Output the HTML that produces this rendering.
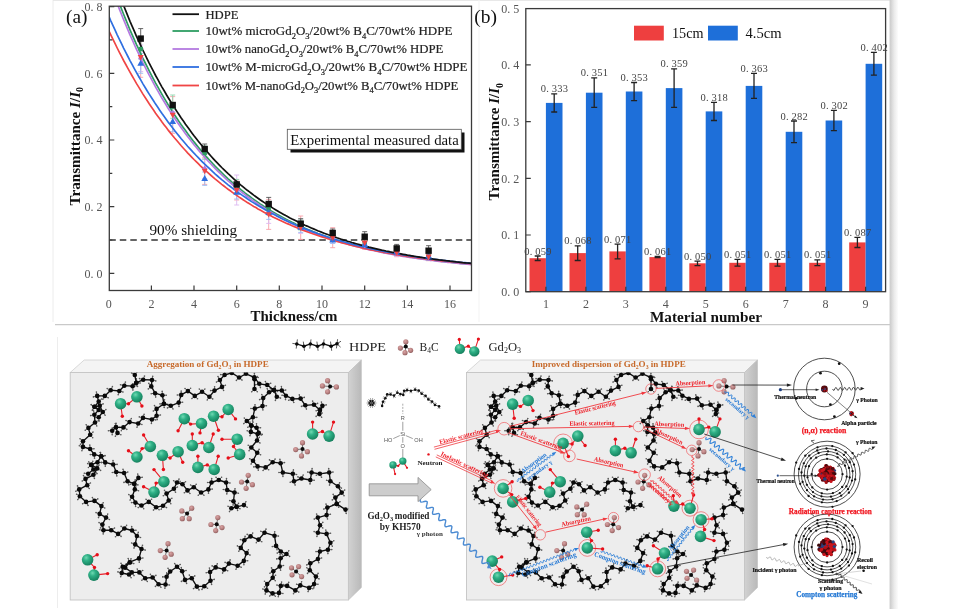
<!DOCTYPE html>
<html><head><meta charset="utf-8"><title>figure</title>
<style>
html,body{margin:0;padding:0;background:#fff;}
body{width:957px;height:613px;overflow:hidden;}
svg{display:block;font-family:"Liberation Serif",serif;filter:blur(0.4px);}
.tk{font-size:12px;fill:#555;}
.vl{font-size:10.5px;fill:#444;}
.sb{font-size:8.5px;}
</style></head><body>
<svg width="957" height="613" viewBox="0 0 957 613">
<defs>
<linearGradient id="shR" x1="0" x2="1" y1="0" y2="0"><stop offset="0" stop-color="#c9c9c9"/><stop offset="0.5" stop-color="#eaeaea"/><stop offset="1" stop-color="#ffffff"/></linearGradient>
</defs>
<rect width="957" height="613" fill="#fff"/>

<line x1="53" y1="0" x2="53" y2="322" stroke="#ececec" stroke-width="1"/>
<line x1="53" y1="0.4" x2="891" y2="0.4" stroke="#e6e6e6" stroke-width="1"/>
<line x1="55" y1="324.7" x2="890" y2="324.7" stroke="#c9c9c9" stroke-width="1.2"/>
<line x1="479" y1="0" x2="479" y2="322" stroke="#f3f3f3" stroke-width="1"/>
<rect x="889.6" y="0" width="9" height="609" fill="url(#shR)"/>
<line x1="57.5" y1="337" x2="57.5" y2="608" stroke="#ededed" stroke-width="1"/>
<g id="chartA">
<clipPath id="clipA"><rect x="109.3" y="6.2" width="362.2" height="284.3"/></clipPath>
<line x1="109.3" y1="240.0" x2="471.5" y2="240.0" stroke="#333" stroke-width="1.3" stroke-dasharray="6.5 4"/>
<g clip-path="url(#clipA)">
<path d="M140.7 37.3V77.3M138.2 37.3h5M138.2 77.3h5" stroke="#f7a0a8" stroke-width="0.9" fill="none"/>
<path d="M172.7 96.6V133.3M170.2 96.6h5M170.2 133.3h5" stroke="#f7a0a8" stroke-width="0.9" fill="none"/>
<path d="M204.7 157.7V184.4M202.2 157.7h5M202.2 184.4h5" stroke="#f7a0a8" stroke-width="0.9" fill="none"/>
<path d="M236.7 180.0V200.0M234.2 180.0h5M234.2 200.0h5" stroke="#f7a0a8" stroke-width="0.9" fill="none"/>
<path d="M268.7 199.4V229.4M266.2 199.4h5M266.2 229.4h5" stroke="#f7a0a8" stroke-width="0.9" fill="none"/>
<path d="M300.7 216.0V239.4M298.2 216.0h5M298.2 239.4h5" stroke="#f7a0a8" stroke-width="0.9" fill="none"/>
<path d="M332.7 227.7V247.7M330.2 227.7h5M330.2 247.7h5" stroke="#f7a0a8" stroke-width="0.9" fill="none"/>
<path d="M364.7 236.0V249.4M362.2 236.0h5M362.2 249.4h5" stroke="#f7a0a8" stroke-width="0.9" fill="none"/>
<path d="M396.7 248.7V256.7M394.2 248.7h5M394.2 256.7h5" stroke="#f7a0a8" stroke-width="0.9" fill="none"/>
<path d="M428.6 252.7V260.7M426.1 252.7h5M426.1 260.7h5" stroke="#f7a0a8" stroke-width="0.9" fill="none"/>
<path d="M140.7 45.0V71.6M138.2 45.0h5M138.2 71.6h5" stroke="#dcb8f0" stroke-width="0.9" fill="none"/>
<path d="M172.7 103.3V123.3M170.2 103.3h5M170.2 123.3h5" stroke="#dcb8f0" stroke-width="0.9" fill="none"/>
<path d="M204.7 158.7V178.7M202.2 158.7h5M202.2 178.7h5" stroke="#dcb8f0" stroke-width="0.9" fill="none"/>
<path d="M236.7 175.0V205.0M234.2 175.0h5M234.2 205.0h5" stroke="#dcb8f0" stroke-width="0.9" fill="none"/>
<path d="M268.7 203.4V223.4M266.2 203.4h5M266.2 223.4h5" stroke="#dcb8f0" stroke-width="0.9" fill="none"/>
<path d="M300.7 220.0V233.4M298.2 220.0h5M298.2 233.4h5" stroke="#dcb8f0" stroke-width="0.9" fill="none"/>
<path d="M332.7 233.4V243.4M330.2 233.4h5M330.2 243.4h5" stroke="#dcb8f0" stroke-width="0.9" fill="none"/>
<path d="M364.7 241.7V248.4M362.2 241.7h5M362.2 248.4h5" stroke="#dcb8f0" stroke-width="0.9" fill="none"/>
<path d="M396.7 249.4V256.1M394.2 249.4h5M394.2 256.1h5" stroke="#dcb8f0" stroke-width="0.9" fill="none"/>
<path d="M428.6 253.4V260.1M426.1 253.4h5M426.1 260.1h5" stroke="#dcb8f0" stroke-width="0.9" fill="none"/>
<path d="M140.7 53.3V73.3M138.2 53.3h5M138.2 73.3h5" stroke="#9bbcf2" stroke-width="0.9" fill="none"/>
<path d="M172.7 111.7V131.7M170.2 111.7h5M170.2 131.7h5" stroke="#9bbcf2" stroke-width="0.9" fill="none"/>
<path d="M204.7 172.0V185.4M202.2 172.0h5M202.2 185.4h5" stroke="#9bbcf2" stroke-width="0.9" fill="none"/>
<path d="M236.7 185.7V199.0M234.2 185.7h5M234.2 199.0h5" stroke="#9bbcf2" stroke-width="0.9" fill="none"/>
<path d="M268.7 206.0V219.4M266.2 206.0h5M266.2 219.4h5" stroke="#9bbcf2" stroke-width="0.9" fill="none"/>
<path d="M300.7 222.4V232.4M298.2 222.4h5M298.2 232.4h5" stroke="#9bbcf2" stroke-width="0.9" fill="none"/>
<path d="M332.7 236.7V243.4M330.2 236.7h5M330.2 243.4h5" stroke="#9bbcf2" stroke-width="0.9" fill="none"/>
<path d="M364.7 241.4V248.1M362.2 241.4h5M362.2 248.1h5" stroke="#9bbcf2" stroke-width="0.9" fill="none"/>
<path d="M396.7 248.7V255.4M394.2 248.7h5M394.2 255.4h5" stroke="#9bbcf2" stroke-width="0.9" fill="none"/>
<path d="M428.6 252.7V259.4M426.1 252.7h5M426.1 259.4h5" stroke="#9bbcf2" stroke-width="0.9" fill="none"/>
<path d="M140.7 38.9V59.0M138.2 38.9h5M138.2 59.0h5" stroke="#8fd6ae" stroke-width="0.9" fill="none"/>
<path d="M172.7 95.0V118.3M170.2 95.0h5M170.2 118.3h5" stroke="#8fd6ae" stroke-width="0.9" fill="none"/>
<path d="M204.7 146.0V159.3M202.2 146.0h5M202.2 159.3h5" stroke="#8fd6ae" stroke-width="0.9" fill="none"/>
<path d="M236.7 179.4V192.7M234.2 179.4h5M234.2 192.7h5" stroke="#8fd6ae" stroke-width="0.9" fill="none"/>
<path d="M268.7 201.7V215.0M266.2 201.7h5M266.2 215.0h5" stroke="#8fd6ae" stroke-width="0.9" fill="none"/>
<path d="M300.7 220.0V230.0M298.2 220.0h5M298.2 230.0h5" stroke="#8fd6ae" stroke-width="0.9" fill="none"/>
<path d="M332.7 234.0V240.7M330.2 234.0h5M330.2 240.7h5" stroke="#8fd6ae" stroke-width="0.9" fill="none"/>
<path d="M364.7 240.7V247.4M362.2 240.7h5M362.2 247.4h5" stroke="#8fd6ae" stroke-width="0.9" fill="none"/>
<path d="M396.7 248.1V254.7M394.2 248.1h5M394.2 254.7h5" stroke="#8fd6ae" stroke-width="0.9" fill="none"/>
<path d="M428.6 252.7V259.4M426.1 252.7h5M426.1 259.4h5" stroke="#8fd6ae" stroke-width="0.9" fill="none"/>
<path d="M140.7 28.6V48.6M138.2 28.6h5M138.2 48.6h5" stroke="#555" stroke-width="0.9" fill="none"/>
<path d="M204.7 144.0V154.0M202.2 144.0h5M202.2 154.0h5" stroke="#555" stroke-width="0.9" fill="none"/>
<path d="M268.7 197.4V210.7M266.2 197.4h5M266.2 210.7h5" stroke="#555" stroke-width="0.9" fill="none"/>
<path d="M300.7 218.7V228.7M298.2 218.7h5M298.2 228.7h5" stroke="#555" stroke-width="0.9" fill="none"/>
<path d="M332.7 229.0V237.0M330.2 229.0h5M330.2 237.0h5" stroke="#555" stroke-width="0.9" fill="none"/>
<path d="M364.7 231.7V241.7M362.2 231.7h5M362.2 241.7h5" stroke="#555" stroke-width="0.9" fill="none"/>
<path d="M396.7 244.4V252.4M394.2 244.4h5M394.2 252.4h5" stroke="#555" stroke-width="0.9" fill="none"/>
<path d="M428.6 245.7V255.7M426.1 245.7h5M426.1 255.7h5" stroke="#555" stroke-width="0.9" fill="none"/>
<path d="M108.7 -25.7L110.8 -19.7L113.0 -13.7L115.1 -7.9L117.2 -2.1L119.4 3.5L121.5 9.0L123.6 14.3L125.8 19.6L127.9 24.8L130.0 29.8L132.2 34.8L134.3 39.6L136.4 44.4L138.6 49.0L140.7 53.6L142.8 58.1L145.0 62.5L147.1 66.7L149.2 70.9L151.4 75.1L153.5 79.1L155.6 83.1L157.8 86.9L159.9 90.7L162.0 94.4L164.2 98.1L166.3 101.6L168.4 105.1L170.6 108.6L172.7 111.9L174.8 115.2L177.0 118.4L179.1 121.6L181.2 124.7L183.4 127.7L185.5 130.6L187.6 133.5L189.8 136.4L191.9 139.2L194.0 141.9L196.2 144.6L198.3 147.2L200.4 149.8L202.6 152.3L204.7 154.7L206.8 157.2L209.0 159.5L211.1 161.8L213.2 164.1L215.3 166.3L217.5 168.5L219.6 170.6L221.7 172.7L223.9 174.8L226.0 176.8L228.1 178.8L230.3 180.7L232.4 182.6L234.5 184.4L236.7 186.2L238.8 188.0L240.9 189.7L243.1 191.4L245.2 193.1L247.3 194.7L249.5 196.3L251.6 197.9L253.7 199.4L255.9 200.9L258.0 202.4L260.1 203.9L262.3 205.3L264.4 206.7L266.5 208.0L268.7 209.3L270.8 210.7L272.9 211.9L275.1 213.2L277.2 214.4L279.3 215.6L281.5 216.8L283.6 217.9L285.7 219.1L287.9 220.2L290.0 221.2L292.1 222.3L294.3 223.3L296.4 224.4L298.5 225.4L300.7 226.3L302.8 227.3L304.9 228.2L307.1 229.2L309.2 230.1L311.3 230.9L313.5 231.8L315.6 232.6L317.7 233.5L319.9 234.3L322.0 235.1L324.1 235.9L326.3 236.6L328.4 237.4L330.5 238.1L332.7 238.8L334.8 239.5L336.9 240.2L339.1 240.9L341.2 241.6L343.3 242.2L345.5 242.8L347.6 243.5L349.7 244.1L351.9 244.7L354.0 245.2L356.1 245.8L358.3 246.4L360.4 246.9L362.5 247.5L364.7 248.0L366.8 248.5L368.9 249.0L371.1 249.5L373.2 250.0L375.3 250.5L377.5 250.9L379.6 251.4L381.7 251.8L383.9 252.3L386.0 252.7L388.1 253.1L390.3 253.5L392.4 254.0L394.5 254.3L396.7 254.7L398.8 255.1L400.9 255.5L403.1 255.9L405.2 256.2L407.3 256.6L409.5 256.9L411.6 257.2L413.7 257.6L415.9 257.9L418.0 258.2L420.1 258.5L422.3 258.8L424.4 259.1L426.5 259.4L428.6 259.7L430.8 260.0L432.9 260.2L435.0 260.5L437.2 260.8L439.3 261.0L441.4 261.3L443.6 261.5L445.7 261.8L447.8 262.0L450.0 262.2L452.1 262.5L454.2 262.7L456.4 262.9L458.5 263.1L460.6 263.3L462.8 263.5L464.9 263.7L467.0 263.9L469.2 264.1L471.3 264.3" stroke="#2e9d63" stroke-width="1.7" fill="none"/>
<path d="M108.7 -19.6L110.8 -13.6L113.0 -7.8L115.1 -2.0L117.2 3.6L119.4 9.1L121.5 14.4L123.6 19.7L125.8 24.9L127.9 29.9L130.0 34.9L132.2 39.7L134.3 44.5L136.4 49.2L138.6 53.7L140.7 58.2L142.8 62.6L145.0 66.9L147.1 71.1L149.2 75.2L151.4 79.2L153.5 83.2L155.6 87.1L157.8 90.9L159.9 94.6L162.0 98.2L164.2 101.8L166.3 105.3L168.4 108.7L170.6 112.1L172.7 115.3L174.8 118.6L177.0 121.7L179.1 124.8L181.2 127.8L183.4 130.8L185.5 133.7L187.6 136.5L189.8 139.3L191.9 142.0L194.0 144.7L196.2 147.3L198.3 149.9L200.4 152.4L202.6 154.9L204.7 157.3L206.8 159.7L209.0 162.0L211.1 164.2L213.2 166.5L215.3 168.6L217.5 170.8L219.6 172.9L221.7 174.9L223.9 176.9L226.0 178.9L228.1 180.8L230.3 182.7L232.4 184.5L234.5 186.4L236.7 188.1L238.8 189.9L240.9 191.6L243.1 193.2L245.2 194.9L247.3 196.5L249.5 198.0L251.6 199.6L253.7 201.1L255.9 202.5L258.0 204.0L260.1 205.4L262.3 206.8L264.4 208.1L266.5 209.5L268.7 210.8L270.8 212.0L272.9 213.3L275.1 214.5L277.2 215.7L279.3 216.9L281.5 218.0L283.6 219.2L285.7 220.3L287.9 221.3L290.0 222.4L292.1 223.4L294.3 224.5L296.4 225.5L298.5 226.4L300.7 227.4L302.8 228.3L304.9 229.2L307.1 230.1L309.2 231.0L311.3 231.9L313.5 232.7L315.6 233.6L317.7 234.4L319.9 235.2L322.0 235.9L324.1 236.7L326.3 237.5L328.4 238.2L330.5 238.9L332.7 239.6L334.8 240.3L336.9 241.0L339.1 241.6L341.2 242.3L343.3 242.9L345.5 243.5L347.6 244.1L349.7 244.7L351.9 245.3L354.0 245.9L356.1 246.4L358.3 247.0L360.4 247.5L362.5 248.1L364.7 248.6L366.8 249.1L368.9 249.6L371.1 250.1L373.2 250.5L375.3 251.0L377.5 251.5L379.6 251.9L381.7 252.3L383.9 252.8L386.0 253.2L388.1 253.6L390.3 254.0L392.4 254.4L394.5 254.8L396.7 255.2L398.8 255.5L400.9 255.9L403.1 256.3L405.2 256.6L407.3 257.0L409.5 257.3L411.6 257.6L413.7 257.9L415.9 258.2L418.0 258.6L420.1 258.9L422.3 259.2L424.4 259.4L426.5 259.7L428.6 260.0L430.8 260.3L432.9 260.5L435.0 260.8L437.2 261.1L439.3 261.3L441.4 261.6L443.6 261.8L445.7 262.0L447.8 262.3L450.0 262.5L452.1 262.7L454.2 262.9L456.4 263.2L458.5 263.4L460.6 263.6L462.8 263.8L464.9 264.0L467.0 264.2L469.2 264.3L471.3 264.5" stroke="#b47ae0" stroke-width="1.7" fill="none"/>
<path d="M108.7 30.3L110.8 34.8L113.0 39.3L115.1 43.7L117.2 48.0L119.4 52.3L121.5 56.4L123.6 60.5L125.8 64.5L127.9 68.4L130.0 72.2L132.2 76.0L134.3 79.7L136.4 83.4L138.6 86.9L140.7 90.4L142.8 93.9L145.0 97.2L147.1 100.5L149.2 103.8L151.4 107.0L153.5 110.1L155.6 113.2L157.8 116.2L159.9 119.1L162.0 122.0L164.2 124.9L166.3 127.6L168.4 130.4L170.6 133.1L172.7 135.7L174.8 138.3L177.0 140.8L179.1 143.3L181.2 145.8L183.4 148.2L185.5 150.5L187.6 152.8L189.8 155.1L191.9 157.3L194.0 159.5L196.2 161.6L198.3 163.7L200.4 165.8L202.6 167.8L204.7 169.8L206.8 171.7L209.0 173.6L211.1 175.5L213.2 177.3L215.3 179.1L217.5 180.9L219.6 182.6L221.7 184.3L223.9 186.0L226.0 187.7L228.1 189.3L230.3 190.8L232.4 192.4L234.5 193.9L236.7 195.4L238.8 196.9L240.9 198.3L243.1 199.7L245.2 201.1L247.3 202.5L249.5 203.8L251.6 205.1L253.7 206.4L255.9 207.6L258.0 208.9L260.1 210.1L262.3 211.3L264.4 212.4L266.5 213.6L268.7 214.7L270.8 215.8L272.9 216.9L275.1 218.0L277.2 219.0L279.3 220.0L281.5 221.0L283.6 222.0L285.7 223.0L287.9 223.9L290.0 224.8L292.1 225.8L294.3 226.6L296.4 227.5L298.5 228.4L300.7 229.2L302.8 230.1L304.9 230.9L307.1 231.7L309.2 232.5L311.3 233.2L313.5 234.0L315.6 234.7L317.7 235.4L319.9 236.2L322.0 236.9L324.1 237.5L326.3 238.2L328.4 238.9L330.5 239.5L332.7 240.2L334.8 240.8L336.9 241.4L339.1 242.0L341.2 242.6L343.3 243.2L345.5 243.7L347.6 244.3L349.7 244.8L351.9 245.4L354.0 245.9L356.1 246.4L358.3 246.9L360.4 247.4L362.5 247.9L364.7 248.4L366.8 248.9L368.9 249.3L371.1 249.8L373.2 250.2L375.3 250.6L377.5 251.1L379.6 251.5L381.7 251.9L383.9 252.3L386.0 252.7L388.1 253.1L390.3 253.5L392.4 253.8L394.5 254.2L396.7 254.6L398.8 254.9L400.9 255.3L403.1 255.6L405.2 255.9L407.3 256.3L409.5 256.6L411.6 256.9L413.7 257.2L415.9 257.5L418.0 257.8L420.1 258.1L422.3 258.4L424.4 258.7L426.5 259.0L428.6 259.2L430.8 259.5L432.9 259.8L435.0 260.0L437.2 260.3L439.3 260.5L441.4 260.8L443.6 261.0L445.7 261.2L447.8 261.5L450.0 261.7L452.1 261.9L454.2 262.1L456.4 262.3L458.5 262.5L460.6 262.7L462.8 262.9L464.9 263.1L467.0 263.3L469.2 263.5L471.3 263.7" stroke="#f04545" stroke-width="1.7" fill="none"/>
<path d="M108.7 15.9L110.8 20.8L113.0 25.6L115.1 30.2L117.2 34.8L119.4 39.3L121.5 43.7L123.6 48.1L125.8 52.3L127.9 56.5L130.0 60.6L132.2 64.6L134.3 68.6L136.4 72.4L138.6 76.2L140.7 79.9L142.8 83.6L145.0 87.2L147.1 90.7L149.2 94.1L151.4 97.5L153.5 100.8L155.6 104.1L157.8 107.3L159.9 110.4L162.0 113.5L164.2 116.5L166.3 119.5L168.4 122.4L170.6 125.2L172.7 128.0L174.8 130.8L177.0 133.5L179.1 136.1L181.2 138.7L183.4 141.2L185.5 143.7L187.6 146.2L189.8 148.6L191.9 150.9L194.0 153.2L196.2 155.5L198.3 157.7L200.4 159.9L202.6 162.1L204.7 164.2L206.8 166.2L209.0 168.2L211.1 170.2L213.2 172.2L215.3 174.1L217.5 176.0L219.6 177.8L221.7 179.6L223.9 181.4L226.0 183.1L228.1 184.8L230.3 186.5L232.4 188.1L234.5 189.7L236.7 191.3L238.8 192.9L240.9 194.4L243.1 195.9L245.2 197.3L247.3 198.8L249.5 200.2L251.6 201.6L253.7 202.9L255.9 204.2L258.0 205.5L260.1 206.8L262.3 208.1L264.4 209.3L266.5 210.5L268.7 211.7L270.8 212.9L272.9 214.0L275.1 215.1L277.2 216.2L279.3 217.3L281.5 218.4L283.6 219.4L285.7 220.4L287.9 221.4L290.0 222.4L292.1 223.4L294.3 224.3L296.4 225.2L298.5 226.2L300.7 227.0L302.8 227.9L304.9 228.8L307.1 229.6L309.2 230.4L311.3 231.3L313.5 232.1L315.6 232.8L317.7 233.6L319.9 234.3L322.0 235.1L324.1 235.8L326.3 236.5L328.4 237.2L330.5 237.9L332.7 238.6L334.8 239.2L336.9 239.9L339.1 240.5L341.2 241.1L343.3 241.7L345.5 242.3L347.6 242.9L349.7 243.5L351.9 244.1L354.0 244.6L356.1 245.2L358.3 245.7L360.4 246.2L362.5 246.7L364.7 247.2L366.8 247.7L368.9 248.2L371.1 248.7L373.2 249.1L375.3 249.6L377.5 250.1L379.6 250.5L381.7 250.9L383.9 251.3L386.0 251.8L388.1 252.2L390.3 252.6L392.4 253.0L394.5 253.4L396.7 253.7L398.8 254.1L400.9 254.5L403.1 254.8L405.2 255.2L407.3 255.5L409.5 255.9L411.6 256.2L413.7 256.5L415.9 256.8L418.0 257.1L420.1 257.4L422.3 257.7L424.4 258.0L426.5 258.3L428.6 258.6L430.8 258.9L432.9 259.2L435.0 259.4L437.2 259.7L439.3 260.0L441.4 260.2L443.6 260.5L445.7 260.7L447.8 260.9L450.0 261.2L452.1 261.4L454.2 261.6L456.4 261.9L458.5 262.1L460.6 262.3L462.8 262.5L464.9 262.7L467.0 262.9L469.2 263.1L471.3 263.3" stroke="#2f6fe0" stroke-width="1.7" fill="none"/>
<path d="M108.7 -35.1L110.8 -28.9L113.0 -22.9L115.1 -17.0L117.2 -11.2L119.4 -5.5L121.5 0.1L123.6 5.5L125.8 10.9L127.9 16.1L130.0 21.3L132.2 26.3L134.3 31.2L136.4 36.1L138.6 40.8L140.7 45.4L142.8 50.0L145.0 54.5L147.1 58.8L149.2 63.1L151.4 67.3L153.5 71.4L155.6 75.5L157.8 79.4L159.9 83.3L162.0 87.1L164.2 90.8L166.3 94.5L168.4 98.0L170.6 101.5L172.7 105.0L174.8 108.3L177.0 111.6L179.1 114.8L181.2 118.0L183.4 121.1L185.5 124.2L187.6 127.1L189.8 130.1L191.9 132.9L194.0 135.7L196.2 138.5L198.3 141.2L200.4 143.8L202.6 146.4L204.7 148.9L206.8 151.4L209.0 153.9L211.1 156.2L213.2 158.6L215.3 160.9L217.5 163.1L219.6 165.3L221.7 167.5L223.9 169.6L226.0 171.7L228.1 173.7L230.3 175.7L232.4 177.6L234.5 179.6L236.7 181.4L238.8 183.3L240.9 185.1L243.1 186.8L245.2 188.6L247.3 190.3L249.5 191.9L251.6 193.5L253.7 195.1L255.9 196.7L258.0 198.2L260.1 199.7L262.3 201.2L264.4 202.6L266.5 204.1L268.7 205.4L270.8 206.8L272.9 208.1L275.1 209.4L277.2 210.7L279.3 212.0L281.5 213.2L283.6 214.4L285.7 215.6L287.9 216.7L290.0 217.9L292.1 219.0L294.3 220.0L296.4 221.1L298.5 222.2L300.7 223.2L302.8 224.2L304.9 225.2L307.1 226.1L309.2 227.1L311.3 228.0L313.5 228.9L315.6 229.8L317.7 230.7L319.9 231.5L322.0 232.4L324.1 233.2L326.3 234.0L328.4 234.8L330.5 235.5L332.7 236.3L334.8 237.0L336.9 237.8L339.1 238.5L341.2 239.2L343.3 239.9L345.5 240.5L347.6 241.2L349.7 241.8L351.9 242.5L354.0 243.1L356.1 243.7L358.3 244.3L360.4 244.9L362.5 245.4L364.7 246.0L366.8 246.5L368.9 247.1L371.1 247.6L373.2 248.1L375.3 248.6L377.5 249.1L379.6 249.6L381.7 250.1L383.9 250.5L386.0 251.0L388.1 251.4L390.3 251.9L392.4 252.3L394.5 252.7L396.7 253.1L398.8 253.5L400.9 253.9L403.1 254.3L405.2 254.7L407.3 255.1L409.5 255.4L411.6 255.8L413.7 256.2L415.9 256.5L418.0 256.8L420.1 257.2L422.3 257.5L424.4 257.8L426.5 258.1L428.6 258.4L430.8 258.7L432.9 259.0L435.0 259.3L437.2 259.6L439.3 259.9L441.4 260.1L443.6 260.4L445.7 260.7L447.8 260.9L450.0 261.2L452.1 261.4L454.2 261.6L456.4 261.9L458.5 262.1L460.6 262.3L462.8 262.6L464.9 262.8L467.0 263.0L469.2 263.2L471.3 263.4" stroke="#111" stroke-width="1.7" fill="none"/>
<rect x="138.5" y="46.8" width="4.4" height="4.4" fill="#2e9d63"/>
<rect x="170.5" y="104.4" width="4.4" height="4.4" fill="#2e9d63"/>
<rect x="202.5" y="150.5" width="4.4" height="4.4" fill="#2e9d63"/>
<rect x="234.5" y="183.8" width="4.4" height="4.4" fill="#2e9d63"/>
<rect x="266.5" y="206.2" width="4.4" height="4.4" fill="#2e9d63"/>
<rect x="298.5" y="222.8" width="4.4" height="4.4" fill="#2e9d63"/>
<rect x="330.5" y="235.2" width="4.4" height="4.4" fill="#2e9d63"/>
<rect x="362.5" y="241.9" width="4.4" height="4.4" fill="#2e9d63"/>
<rect x="394.5" y="249.2" width="4.4" height="4.4" fill="#2e9d63"/>
<rect x="426.4" y="253.9" width="4.4" height="4.4" fill="#2e9d63"/>
<path d="M140.7 55.1l2.6 3.2l-2.6 3.2l-2.6-3.2z" fill="#b47ae0"/>
<path d="M172.7 110.1l2.6 3.2l-2.6 3.2l-2.6-3.2z" fill="#b47ae0"/>
<path d="M204.7 165.5l2.6 3.2l-2.6 3.2l-2.6-3.2z" fill="#b47ae0"/>
<path d="M236.7 186.8l2.6 3.2l-2.6 3.2l-2.6-3.2z" fill="#b47ae0"/>
<path d="M268.7 210.2l2.6 3.2l-2.6 3.2l-2.6-3.2z" fill="#b47ae0"/>
<path d="M300.7 223.5l2.6 3.2l-2.6 3.2l-2.6-3.2z" fill="#b47ae0"/>
<path d="M332.7 235.2l2.6 3.2l-2.6 3.2l-2.6-3.2z" fill="#b47ae0"/>
<path d="M364.7 241.9l2.6 3.2l-2.6 3.2l-2.6-3.2z" fill="#b47ae0"/>
<path d="M396.7 249.5l2.6 3.2l-2.6 3.2l-2.6-3.2z" fill="#b47ae0"/>
<path d="M428.6 253.5l2.6 3.2l-2.6 3.2l-2.6-3.2z" fill="#b47ae0"/>
<path d="M140.7 59.7l3.4 6h-6.8z" fill="#2f6fe0"/>
<path d="M172.7 118.1l3.4 6h-6.8z" fill="#2f6fe0"/>
<path d="M204.7 175.1l3.4 6h-6.8z" fill="#2f6fe0"/>
<path d="M236.7 188.8l3.4 6h-6.8z" fill="#2f6fe0"/>
<path d="M268.7 209.1l3.4 6h-6.8z" fill="#2f6fe0"/>
<path d="M300.7 223.8l3.4 6h-6.8z" fill="#2f6fe0"/>
<path d="M332.7 236.4l3.4 6h-6.8z" fill="#2f6fe0"/>
<path d="M364.7 241.1l3.4 6h-6.8z" fill="#2f6fe0"/>
<path d="M396.7 248.5l3.4 6h-6.8z" fill="#2f6fe0"/>
<path d="M428.6 252.5l3.4 6h-6.8z" fill="#2f6fe0"/>
<path d="M140.7 60.5l3 -5.4h-6z" fill="#f04545"/>
<path d="M172.7 118.2l3 -5.4h-6z" fill="#f04545"/>
<path d="M204.7 174.2l3 -5.4h-6z" fill="#f04545"/>
<path d="M236.7 193.2l3 -5.4h-6z" fill="#f04545"/>
<path d="M268.7 217.6l3 -5.4h-6z" fill="#f04545"/>
<path d="M300.7 230.9l3 -5.4h-6z" fill="#f04545"/>
<path d="M332.7 240.9l3 -5.4h-6z" fill="#f04545"/>
<path d="M364.7 245.9l3 -5.4h-6z" fill="#f04545"/>
<path d="M396.7 255.9l3 -5.4h-6z" fill="#f04545"/>
<path d="M428.6 259.9l3 -5.4h-6z" fill="#f04545"/>
<rect x="137.5" y="35.4" width="6.4" height="6.4" fill="#111"/>
<rect x="169.5" y="101.8" width="6.4" height="6.4" fill="#111"/>
<rect x="201.5" y="145.8" width="6.4" height="6.4" fill="#111"/>
<rect x="233.5" y="181.2" width="6.4" height="6.4" fill="#111"/>
<rect x="265.5" y="200.8" width="6.4" height="6.4" fill="#111"/>
<rect x="297.5" y="220.5" width="6.4" height="6.4" fill="#111"/>
<rect x="329.5" y="229.8" width="6.4" height="6.4" fill="#111"/>
<rect x="361.5" y="233.5" width="6.4" height="6.4" fill="#111"/>
<rect x="393.5" y="245.2" width="6.4" height="6.4" fill="#111"/>
<rect x="425.4" y="247.5" width="6.4" height="6.4" fill="#111"/>
</g>
<rect x="109.3" y="6.2" width="362.2" height="284.3" fill="none" stroke="#3a3a3a" stroke-width="1.3"/>
<path d="M109.3 273.4h5M109.3 240.0h3M109.3 206.7h5M109.3 173.3h3M109.3 140.0h5M109.3 106.6h3M109.3 73.3h5M109.3 39.9h3M109.3 6.6h5M151.4 290.5v-5M194.0 290.5v-5M236.7 290.5v-5M279.3 290.5v-5M322.0 290.5v-5M364.7 290.5v-5M407.3 290.5v-5M450.0 290.5v-5" stroke="#3a3a3a" stroke-width="1.2" fill="none"/>
<text x="84.5 90.5 96.5" y="277.7" class="tk">0.0</text>
<text x="84.5 90.5 96.5" y="211.0" class="tk">0.2</text>
<text x="84.5 90.5 96.5" y="144.3" class="tk">0.4</text>
<text x="84.5 90.5 96.5" y="77.6" class="tk">0.6</text>
<text x="84.5 90.5 96.5" y="10.9" class="tk">0.8</text>
<text x="105.7" y="307.6" class="tk">0</text>
<text x="148.4" y="307.6" class="tk">2</text>
<text x="191.0" y="307.6" class="tk">4</text>
<text x="233.7" y="307.6" class="tk">6</text>
<text x="276.3" y="307.6" class="tk">8</text>
<text x="316.0 322.0" y="307.6" class="tk">10</text>
<text x="358.7 364.7" y="307.6" class="tk">12</text>
<text x="401.3 407.3" y="307.6" class="tk">14</text>
<text x="444.0 450.0" y="307.6" class="tk">16</text>
<text x="66" y="22.8" font-size="19.3" fill="#111">(a)</text>
<text transform="translate(79.8 205.5) rotate(-90)" font-size="14.6" font-weight="bold" fill="#111" textLength="118.5" lengthAdjust="spacingAndGlyphs">Transmittance <tspan font-style="italic">I</tspan>/<tspan font-style="italic">I</tspan><tspan font-size="9.5" dy="3.6">0</tspan></text>
<text x="250.5" y="321.3" font-size="14" font-weight="bold" fill="#111" textLength="87" lengthAdjust="spacingAndGlyphs">Thickness/cm</text>
<text x="149.5" y="235.3" font-size="14" fill="#111" textLength="87.5" lengthAdjust="spacingAndGlyphs">90% shielding</text>
<line x1="172.5" y1="14.2" x2="199" y2="14.2" stroke="#111" stroke-width="1.8"/>
<text x="205.4" y="18.5" font-size="13" fill="#222" stroke="#222" stroke-width="0.2" textLength="33" lengthAdjust="spacingAndGlyphs">HDPE</text>
<line x1="172.5" y1="31" x2="199" y2="31" stroke="#2e9d63" stroke-width="1.8"/>
<text x="205.4" y="35.3" font-size="13" fill="#222" stroke="#222" stroke-width="0.2" textLength="247" lengthAdjust="spacingAndGlyphs">10wt% microGd<tspan class="sb" dy="3.6">2</tspan><tspan dy="-3.6">O</tspan><tspan class="sb" dy="3.6">3</tspan><tspan dy="-3.6">/20wt% B</tspan><tspan class="sb" dy="3.6">4</tspan><tspan dy="-3.6">C/70wt% HDPE</tspan></text>
<line x1="172.5" y1="49" x2="199" y2="49" stroke="#b47ae0" stroke-width="1.8"/>
<text x="205.4" y="53.3" font-size="13" fill="#222" stroke="#222" stroke-width="0.2" textLength="238" lengthAdjust="spacingAndGlyphs">10wt% nanoGd<tspan class="sb" dy="3.6">2</tspan><tspan dy="-3.6">O</tspan><tspan class="sb" dy="3.6">3</tspan><tspan dy="-3.6">/20wt% B</tspan><tspan class="sb" dy="3.6">4</tspan><tspan dy="-3.6">C/70wt% HDPE</tspan></text>
<line x1="172.5" y1="67" x2="199" y2="67" stroke="#2f6fe0" stroke-width="1.8"/>
<text x="205.4" y="71.3" font-size="13" fill="#222" stroke="#222" stroke-width="0.2" textLength="262" lengthAdjust="spacingAndGlyphs">10wt% M-microGd<tspan class="sb" dy="3.6">2</tspan><tspan dy="-3.6">O</tspan><tspan class="sb" dy="3.6">3</tspan><tspan dy="-3.6">/20wt% B</tspan><tspan class="sb" dy="3.6">4</tspan><tspan dy="-3.6">C/70wt% HDPE</tspan></text>
<line x1="172.5" y1="85.5" x2="199" y2="85.5" stroke="#f04545" stroke-width="1.8"/>
<text x="205.4" y="89.8" font-size="13" fill="#222" stroke="#222" stroke-width="0.2" textLength="253" lengthAdjust="spacingAndGlyphs">10wt% M-nanoGd<tspan class="sb" dy="3.6">2</tspan><tspan dy="-3.6">O</tspan><tspan class="sb" dy="3.6">3</tspan><tspan dy="-3.6">/20wt% B</tspan><tspan class="sb" dy="3.6">4</tspan><tspan dy="-3.6">C/70wt% HDPE</tspan></text>
<rect x="290.5" y="132.5" width="174" height="20" fill="#111"/>
<rect x="287.3" y="129.3" width="174" height="20" fill="#fff" stroke="#555" stroke-width="0.8"/>
<text x="290.3" y="144.6" font-size="14.3" fill="#111" textLength="168.5" lengthAdjust="spacingAndGlyphs">Experimental measured data</text>
</g>
<g id="chartB">
<rect x="529.5" y="258.2" width="16.4" height="33.5" fill="#ee3f3f"/>
<rect x="545.9" y="102.9" width="16.6" height="188.8" fill="#1e6fd9"/>
<rect x="569.5" y="253.1" width="16.4" height="38.6" fill="#ee3f3f"/>
<rect x="585.9" y="92.7" width="16.6" height="199.0" fill="#1e6fd9"/>
<rect x="609.4" y="251.4" width="16.4" height="40.3" fill="#ee3f3f"/>
<rect x="625.8" y="91.5" width="16.6" height="200.2" fill="#1e6fd9"/>
<rect x="649.4" y="257.1" width="16.4" height="34.6" fill="#ee3f3f"/>
<rect x="665.8" y="88.1" width="16.6" height="203.6" fill="#1e6fd9"/>
<rect x="689.3" y="263.3" width="16.4" height="28.4" fill="#ee3f3f"/>
<rect x="705.7" y="111.4" width="16.6" height="180.3" fill="#1e6fd9"/>
<rect x="729.3" y="262.8" width="16.4" height="28.9" fill="#ee3f3f"/>
<rect x="745.7" y="85.9" width="16.6" height="205.8" fill="#1e6fd9"/>
<rect x="769.3" y="262.8" width="16.4" height="28.9" fill="#ee3f3f"/>
<rect x="785.7" y="131.8" width="16.6" height="159.9" fill="#1e6fd9"/>
<rect x="809.2" y="262.8" width="16.4" height="28.9" fill="#ee3f3f"/>
<rect x="825.6" y="120.5" width="16.6" height="171.2" fill="#1e6fd9"/>
<rect x="849.2" y="242.4" width="16.4" height="49.3" fill="#ee3f3f"/>
<rect x="865.6" y="63.8" width="16.6" height="227.9" fill="#1e6fd9"/>
<path d="M537.7 256.0V260.5M534.7 256.0h6M534.7 260.5h6M554.2 93.8V112.0M551.2 93.8h6M551.2 112.0h6M577.7 245.8V260.5M574.7 245.8h6M574.7 260.5h6M594.2 77.9V107.4M591.2 77.9h6M591.2 107.4h6M617.6 244.1V258.8M614.6 244.1h6M614.6 258.8h6M634.1 82.5V100.6M631.1 82.5h6M631.1 100.6h6M657.6 256.5V257.7M654.6 256.5h6M654.6 257.7h6M674.1 68.9V107.4M671.1 68.9h6M671.1 107.4h6M697.5 261.1V265.6M694.5 261.1h6M694.5 265.6h6M714.0 102.3V120.5M711.0 102.3h6M711.0 120.5h6M737.5 259.4V266.2M734.5 259.4h6M734.5 266.2h6M754.0 73.4V98.4M751.0 73.4h6M751.0 98.4h6M777.5 259.4V266.2M774.5 259.4h6M774.5 266.2h6M794.0 121.0V142.6M791.0 121.0h6M791.0 142.6h6M817.4 259.9V265.6M814.4 259.9h6M814.4 265.6h6M833.9 110.3V130.7M830.9 110.3h6M830.9 130.7h6M857.4 237.3V247.5M854.4 237.3h6M854.4 247.5h6M873.9 52.4V75.1M870.9 52.4h6M870.9 75.1h6" stroke="#222" stroke-width="1.3" fill="none"/>
<text x="524.2 529.7 535.2 540.7 546.2" y="254.5" class="vl">0.059</text>
<text x="540.7 546.2 551.7 557.2 562.7" y="92.3" class="vl">0.333</text>
<text x="564.2 569.7 575.2 580.7 586.2" y="244.3" class="vl">0.068</text>
<text x="580.7 586.2 591.7 597.2 602.7" y="76.4" class="vl">0.351</text>
<text x="604.1 609.6 615.1 620.6 626.1" y="242.6" class="vl">0.071</text>
<text x="620.6 626.1 631.6 637.1 642.6" y="81.0" class="vl">0.353</text>
<text x="644.1 649.6 655.1 660.6 666.1" y="255.0" class="vl">0.061</text>
<text x="660.6 666.1 671.6 677.1 682.6" y="67.4" class="vl">0.359</text>
<text x="684 689.5 695 700.5 706" y="259.6" class="vl">0.050</text>
<text x="700.5 706 711.5 717 722.5" y="100.8" class="vl">0.318</text>
<text x="724 729.5 735 740.5 746" y="257.9" class="vl">0.051</text>
<text x="740.5 746 751.5 757 762.5" y="71.9" class="vl">0.363</text>
<text x="764 769.5 775 780.5 786" y="257.9" class="vl">0.051</text>
<text x="780.5 786 791.5 797 802.5" y="119.5" class="vl">0.282</text>
<text x="803.9 809.4 814.9 820.4 825.9" y="258.4" class="vl">0.051</text>
<text x="820.4 825.9 831.4 836.9 842.4" y="108.8" class="vl">0.302</text>
<text x="843.9 849.4 854.9 860.4 865.9" y="235.8" class="vl">0.087</text>
<text x="860.4 865.9 871.4 876.9 882.4" y="50.9" class="vl">0.402</text>
<rect x="525.8" y="8.6" width="359.80000000000007" height="283.09999999999997" fill="none" stroke="#3a3a3a" stroke-width="1.3"/>
<path d="M525.8 291.7h5M525.8 235.0h5M525.8 178.3h5M525.8 121.6h5M525.8 64.9h5M545.9 291.7v-5M585.9 291.7v-5M625.8 291.7v-5M665.8 291.7v-5M705.7 291.7v-5M745.7 291.7v-5M785.7 291.7v-5M825.6 291.7v-5M865.6 291.7v-5" stroke="#3a3a3a" stroke-width="1.2" fill="none"/>
<text x="501.3 507.3 513.3" y="296.0" class="tk">0.0</text>
<text x="501.3 507.3 513.3" y="239.3" class="tk">0.1</text>
<text x="501.3 507.3 513.3" y="182.6" class="tk">0.2</text>
<text x="501.3 507.3 513.3" y="125.9" class="tk">0.3</text>
<text x="501.3 507.3 513.3" y="69.2" class="tk">0.4</text>
<text x="501.3 507.3 513.3" y="12.5" class="tk">0.5</text>
<text x="542.9" y="307.7" class="tk">1</text>
<text x="582.9" y="307.7" class="tk">2</text>
<text x="622.8" y="307.7" class="tk">3</text>
<text x="662.8" y="307.7" class="tk">4</text>
<text x="702.7" y="307.7" class="tk">5</text>
<text x="742.7" y="307.7" class="tk">6</text>
<text x="782.7" y="307.7" class="tk">7</text>
<text x="822.6" y="307.7" class="tk">8</text>
<text x="862.6" y="307.7" class="tk">9</text>
<text x="474.3" y="22.6" font-size="19.5" fill="#111">(b)</text>
<text transform="translate(499.4 200.5) rotate(-90)" font-size="14.6" font-weight="bold" fill="#111" textLength="117.5" lengthAdjust="spacingAndGlyphs">Transmittance <tspan font-style="italic">I</tspan>/<tspan font-style="italic">I</tspan><tspan font-size="9.5" dy="3.6">0</tspan></text>
<text x="650" y="321.5" font-size="14" font-weight="bold" fill="#111" textLength="112" lengthAdjust="spacingAndGlyphs">Material number</text>
<rect x="634" y="25.7" width="29.8" height="14.8" fill="#ee3f3f"/>
<rect x="708" y="25.7" width="29.8" height="14.8" fill="#1e6fd9"/>
<text x="672" y="38" font-size="14.6" fill="#111" textLength="31.5" lengthAdjust="spacingAndGlyphs">15cm</text>
<text x="745.5" y="38" font-size="14.6" fill="#111" textLength="36" lengthAdjust="spacingAndGlyphs">4.5cm</text>
</g>
<defs>
<radialGradient id="gdg" cx="0.38" cy="0.32" r="0.75"><stop offset="0" stop-color="#6fd9b2"/><stop offset="0.35" stop-color="#2fb086"/><stop offset="1" stop-color="#127a58"/></radialGradient>
<radialGradient id="pkg" cx="0.4" cy="0.35" r="0.7"><stop offset="0" stop-color="#d8a2a2"/><stop offset="0.6" stop-color="#b57f7f"/><stop offset="1" stop-color="#8a5656"/></radialGradient>
<linearGradient id="sideg" x1="0" x2="1" y1="0" y2="0"><stop offset="0" stop-color="#d2d2d2"/><stop offset="1" stop-color="#b9b9b9"/></linearGradient>
</defs>
<g id="schem">
<path d="M297.4 339.4L296.2 348.6M303.3 341.6L304.5 350.8M311.0 339.4L309.8 348.6M316.9 341.6L318.1 350.8M324.1 339.4L322.9 348.6M330.5 341.6L331.7 350.8M337.6 339.2L336.4 348.4M296.8 344l-4.4 -0.6M337 343.8l4 -2.6M337 343.8l3.6 3.4" stroke="#333" stroke-width="0.8" fill="none"/>
<path d="M296.8 344L303.9 346.2L310.4 344L317.5 346.2L323.5 344L331.1 346.2L337 343.8" stroke="#111" stroke-width="1.3" fill="none"/>
<g fill="#0a0a0a"><circle cx="296.8" cy="344" r="1.8"/><circle cx="303.9" cy="346.2" r="1.8"/><circle cx="310.4" cy="344" r="1.8"/><circle cx="317.5" cy="346.2" r="1.8"/><circle cx="323.5" cy="344" r="1.8"/><circle cx="331.1" cy="346.2" r="1.8"/><circle cx="337" cy="343.8" r="1.8"/></g>
<text x="349" y="351.3" font-size="13.3" fill="#222" textLength="37" lengthAdjust="spacingAndGlyphs">HDPE</text>
<line x1="405.8" y1="346.6" x2="405.8" y2="341.8" stroke="#555" stroke-width="0.8"/>
<line x1="405.8" y1="346.6" x2="400.4" y2="348.1" stroke="#555" stroke-width="0.8"/>
<line x1="405.8" y1="346.6" x2="405.0" y2="352.7" stroke="#555" stroke-width="0.8"/>
<line x1="405.8" y1="346.6" x2="410.6" y2="350.3" stroke="#555" stroke-width="0.8"/>
<circle cx="405.8" cy="341.8" r="2.6" fill="url(#pkg)"/>
<circle cx="400.4" cy="348.1" r="2.6" fill="url(#pkg)"/>
<circle cx="405.0" cy="352.7" r="2.6" fill="url(#pkg)"/>
<circle cx="410.6" cy="350.3" r="2.6" fill="url(#pkg)"/>
<circle cx="405.8" cy="346.6" r="2" fill="#0a0a0a"/>
<text x="419.5" y="350.6" font-size="11.5" fill="#222">B<tspan font-size="7.5" dy="2">4</tspan><tspan dy="-2">C</tspan></text>
<path d="M459.9 348.9L468.3 346.2L474.3 351.4M459.9 348.9L459.3 339.4M474.3 351.4L478.4 339.1" stroke="#e8202a" stroke-width="1.1" fill="none"/>
<circle cx="459.3" cy="339.4" r="1.6" fill="#e60f19"/>
<circle cx="468.3" cy="346.2" r="1.6" fill="#e60f19"/>
<circle cx="478.4" cy="339.1" r="1.6" fill="#e60f19"/>
<circle cx="459.9" cy="348.9" r="5.2" fill="url(#gdg)"/>
<circle cx="474.3" cy="351.4" r="5.2" fill="url(#gdg)"/>
<text x="488.5" y="350.6" font-size="12.6" fill="#222">Gd<tspan font-size="8" dy="2.5">2</tspan><tspan dy="-2.5">O</tspan><tspan font-size="8" dy="2.5">3</tspan></text>
<path d="M70.2 372.5L84.2 360.0L361.4 360.0L348.4 372.5Z" fill="#f4f4f4" stroke="#cfcfcf" stroke-width="0.8"/>
<path d="M348.4 372.5L361.4 360.0L361.4 587.5L348.4 600Z" fill="url(#sideg)" stroke="#bdbdbd" stroke-width="0.6"/>
<rect x="70.2" y="372.5" width="278.2" height="227.5" fill="#ededed" stroke="#c4c4c4" stroke-width="0.9"/>
<path d="M466.5 372.5L480.5 360.0L757.5 360.0L744.5 372.5Z" fill="#f4f4f4" stroke="#cfcfcf" stroke-width="0.8"/>
<path d="M744.5 372.5L757.5 360.0L757.5 587.5L744.5 600Z" fill="url(#sideg)" stroke="#bdbdbd" stroke-width="0.6"/>
<rect x="466.5" y="372.5" width="278.0" height="227.5" fill="#ededed" stroke="#c4c4c4" stroke-width="0.9"/>
<text x="146.7" y="367.3" font-size="8.6" font-weight="bold" fill="#c76a2b" textLength="122" lengthAdjust="spacingAndGlyphs">Aggregation of Gd<tspan font-size="5.5" dy="1.5">2</tspan><tspan dy="-1.5">O</tspan><tspan font-size="5.5" dy="1.5">3</tspan><tspan dy="-1.5"> in HDPE</tspan></text>
<text x="531.7" y="367" font-size="8.6" font-weight="bold" fill="#c76a2b" textLength="154" lengthAdjust="spacingAndGlyphs">Improved  dispersion of Gd<tspan font-size="5.5" dy="1.5">2</tspan><tspan dy="-1.5">O</tspan><tspan font-size="5.5" dy="1.5">3</tspan><tspan dy="-1.5"> in HDPE</tspan></text>
<clipPath id="cl1"><rect x="70.2" y="372.5" width="278.2" height="227.5"/></clipPath><clipPath id="cl2"><rect x="466.5" y="372.5" width="278" height="227.5"/></clipPath>
<g clip-path="url(#cl1)">
<path d="M134.8 375.0L131.6 372.9M134.8 375.0L137.1 371.8M136.3 382.8L137.5 386.5M136.3 382.8L132.6 383.9M143.2 379.7L139.5 378.6M143.2 379.7L144.5 376.0M152.0 380.0L152.7 376.2M152.0 380.0L155.8 380.9M151.3 386.4L148.3 388.9M151.3 386.4L148.8 383.4M155.1 393.2L155.7 397.1M155.1 393.2L151.2 393.7M162.4 395.3L162.2 391.4M162.4 395.3L166.3 395.2M163.9 403.7L164.2 407.5M163.9 403.7L160.0 403.9M170.8 405.8L173.0 409.0M170.8 405.8L167.5 407.9M178.7 402.6L182.6 402.2M178.7 402.6L179.0 406.5M181.2 394.9L177.3 395.0M181.2 394.9L181.2 391.0M187.9 391.1L185.0 388.5M187.9 391.1L190.6 388.3M194.8 395.9L197.5 398.8M194.8 395.9L191.9 398.5M202.1 391.8L199.3 389.0M202.1 391.8L204.9 389.0M209.4 396.8L212.7 398.9M209.4 396.8L207.2 400.0M214.5 390.6L210.6 390.6M214.5 390.6L214.6 386.7M222.0 386.9L225.4 385.2M222.0 386.9L223.6 390.5M219.9 380.0L216.5 382.1M219.9 380.0L218.0 376.6M224.6 375.0L220.7 374.6M224.6 375.0L225.0 371.1M231.8 372.9L229.0 370.3M231.8 372.9L234.6 370.2M239.1 377.5L242.0 380.1M239.1 377.5L236.4 380.4M246.0 373.8L242.7 371.6M246.0 373.8L248.2 370.6M254.3 377.3L254.4 373.4M254.3 377.3L258.2 377.5M259.3 383.8L260.4 387.6M259.3 383.8L255.5 384.8M267.2 385.0L265.4 381.5M267.2 385.0L270.7 383.3M273.9 390.1L275.9 393.4M273.9 390.1L270.5 392.0M281.8 390.5L281.4 386.6M281.8 390.5L285.7 390.1M285.9 395.7L285.5 399.6M285.9 395.7L282.0 395.2M292.4 398.9L293.8 402.5M292.4 398.9L288.7 400.2M300.6 398.6L299.3 394.9M300.6 398.6L304.3 397.4M305.3 405.3L306.4 409.1M305.3 405.3L301.5 406.4M314.0 404.7L312.6 401.1M314.0 404.7L317.6 403.4M319.9 409.9L323.0 407.6M319.9 409.9L322.1 413.1M319.3 414.1L321.6 417.2M319.3 414.1L316.1 416.4M319.9 409.9L320.9 413.7M319.9 409.9L316.1 410.8M322.4 405.8L321.4 402.0M322.4 405.8L326.2 404.9M254.5 379.2L251.7 376.5M254.5 379.2L257.3 376.5M254.5 389.0L257.3 391.8M254.5 389.0L251.7 391.8M273.9 390.1L270.3 388.7M273.9 390.1L275.4 386.5M276.8 396.8L280.5 398.1M276.8 396.8L275.4 400.4M136.3 382.8L136.4 378.9M136.3 382.8L140.2 383.0M132.6 386.2L136.5 385.8M132.6 386.2L132.9 390.1M124.3 385.7L120.5 384.8M124.3 385.7L125.4 382.0M119.3 391.0L123.0 392.0M119.3 391.0L118.2 394.8M110.7 390.2L107.2 388.6M110.7 390.2L112.4 386.6M104.8 395.9L108.2 397.8M104.8 395.9L102.9 399.3M97.2 395.9L93.4 396.9M97.2 395.9L96.4 392.1M98.7 401.6L101.6 399.0M98.7 401.6L101.2 404.6M94.5 406.8L92.5 410.2M94.5 406.8L91.2 404.7M98.7 409.9L100.8 406.7M98.7 409.9L101.9 412.2M94.4 414.7L90.7 415.6M94.4 414.7L93.6 410.9M95.0 422.5L98.5 420.6M95.0 422.5L96.8 426.0M88.4 427.9L85.2 430.2M88.4 427.9L86.2 424.7M90.2 434.8L93.0 432.1M90.2 434.8L92.7 437.7M83.0 441.2L80.5 444.3M83.0 441.2L80.0 438.7M83.0 446.9L81.9 450.7M83.0 446.9L79.3 445.7M90.1 449.0L89.8 445.1M90.1 449.0L94.0 448.8M94.2 454.4L94.5 458.3M94.2 454.4L90.3 454.6M101.2 456.3L100.5 452.5M101.2 456.3L105.0 455.7M105.2 462.4L105.3 466.3M105.2 462.4L101.3 462.4M113.2 464.5L113.0 460.6M113.2 464.5L117.1 464.4M116.2 472.0L116.8 475.9M116.2 472.0L112.3 472.5M124.1 473.0L123.0 469.2M124.1 473.0L127.8 472.1M127.6 481.3L128.8 485.0M127.6 481.3L123.9 482.4M134.2 483.7L135.2 479.9M134.2 483.7L137.9 484.9M134.8 489.4L136.0 485.7M134.8 489.4L138.5 490.7M132.1 496.7L130.1 500.1M132.1 496.7L128.8 494.6M135.4 502.6L135.6 506.5M135.4 502.6L131.5 502.6M141.5 505.5L143.7 508.7M141.5 505.5L138.2 507.6M148.8 501.9L146.0 499.2M148.8 501.9L151.6 499.2M156.1 507.2L159.1 509.7M156.1 507.2L153.5 510.1M163.0 505.8L166.5 507.6M163.0 505.8L161.2 509.2M168.7 500.5L171.9 498.3M168.7 500.5L170.8 503.8M166.6 493.6L163.3 495.7M166.6 493.6L164.5 490.3M173.9 488.8L177.4 487.0M173.9 488.8L175.5 492.3M177.0 482.5L173.6 480.7M177.0 482.5L179.0 479.1M182.5 484.2L180.0 481.2M182.5 484.2L185.5 481.7M187.5 490.4L189.9 493.5M187.5 490.4L184.3 492.8M193.8 487.3L190.6 485.0M193.8 487.3L196.2 484.3M201.1 492.5L203.9 495.3M201.1 492.5L198.3 495.3M208.4 489.4L212.3 489.1M208.4 489.4L208.5 493.3M211.5 482.5L207.6 482.5M211.5 482.5L211.7 478.6M218.8 480.0L216.0 477.3M218.8 480.0L221.6 477.3M226.1 482.5L226.5 478.6M226.1 482.5L230.0 483.0M227.2 490.0L226.8 493.9M227.2 490.0L223.3 489.5M234.5 492.5L235.0 488.7M234.5 492.5L238.4 493.2M233.5 501.2L233.1 505.1M233.5 501.2L229.7 500.6M236.6 506.8L237.6 510.5M236.6 506.8L232.8 507.7M243.9 505.1L245.9 501.7M243.9 505.1L247.2 507.2M134.2 483.7L134.9 487.5M134.2 483.7L130.3 484.3M138.4 477.9L137.7 474.0M138.4 477.9L142.2 477.3M94.5 406.8L92.4 410.1M94.5 406.8L91.3 404.6M99.7 405.8L97.8 402.4M99.7 405.8L103.1 403.9M102.8 412.0L105.9 409.6M102.8 412.0L105.1 415.2M98.7 417.2L99.1 421.1M98.7 417.2L94.8 417.6M236.6 506.8L238.5 503.3M236.6 506.8L240.0 508.7M231.4 508.2L229.5 511.6M231.4 508.2L228.0 506.3M101.2 456.3L100.2 452.5M101.2 456.3L105.0 455.5M97.5 462.2L101.4 462.6M97.5 462.2L97.0 466.1M91.3 464.9L88.4 467.5M91.3 464.9L88.8 461.9M97.2 468.4L99.0 465.0M97.2 468.4L100.6 470.4M93.4 474.8L97.1 473.6M93.4 474.8L94.4 478.5M85.5 478.9L82.2 481.0M85.5 478.9L83.5 475.6M87.2 485.2L90.4 483.0M87.2 485.2L89.2 488.5M79.2 489.4L75.8 491.3M79.2 489.4L77.5 485.9M79.9 496.3L77.8 499.6M79.9 496.3L76.6 494.2M86.1 501.9L88.0 505.4M86.1 501.9L82.6 503.7M94.5 500.9L92.4 497.6M94.5 500.9L97.8 498.9M101.4 506.1L103.2 502.7M101.4 506.1L104.8 508.0M99.7 513.9L98.5 517.6M99.7 513.9L96.0 512.6M106.0 517.6L107.7 514.1M106.0 517.6L109.4 519.5M102.4 524.5L100.5 528.0M102.4 524.5L99.0 522.6M103.5 530.2L103.2 534.0M103.5 530.2L99.6 529.8M111.2 530.2L109.1 526.9M111.2 530.2L114.5 528.1M118.1 533.9L121.1 536.4M118.1 533.9L115.5 536.8M124.4 528.5L121.1 526.4M124.4 528.5L126.6 525.3M132.1 530.5L131.7 526.6M132.1 530.5L136.0 530.2M136.9 536.0L138.3 532.4M136.9 536.0L140.5 537.5M135.2 544.4L134.0 548.1M135.2 544.4L131.6 543.0M141.5 549.0L142.5 545.2M141.5 549.0L145.2 550.1M139.0 558.4L142.9 558.0M139.0 558.4L139.3 562.3M129.7 562.2L126.2 563.8M129.7 562.2L128.2 558.6M125.2 567.8L122.7 570.8M125.2 567.8L122.2 565.2M131.8 572.4L134.0 575.6M131.8 572.4L128.5 574.5M139.3 572.4L137.2 569.0M139.3 572.4L142.7 570.5M145.2 578.2L147.3 581.5M145.2 578.2L141.8 580.2M152.6 577.5L150.4 574.3M152.6 577.5L155.9 575.4M158.6 584.2L160.9 587.3M158.6 584.2L155.4 586.4M165.5 584.5L169.4 585.0M165.5 584.5L164.9 588.3M166.6 576.8L162.7 576.9M166.6 576.8L166.7 572.9M170.2 571.5L167.1 573.8M170.2 571.5L168.0 568.2M177.0 566.7L174.7 563.6M177.0 566.7L180.2 564.5M182.2 571.3L181.3 567.5M182.2 571.3L186.1 570.5M185.0 579.9L186.6 583.4M185.0 579.9L181.4 581.4M191.7 578.2L189.3 575.1M191.7 578.2L194.8 575.9M196.9 586.6L199.0 589.9M196.9 586.6L193.5 588.6M204.2 586.2L207.5 588.3M204.2 586.2L202.0 589.4M210.5 580.7L214.2 579.4M210.5 580.7L211.6 584.4M210.1 572.0L206.2 572.7M210.1 572.0L209.4 568.1M215.7 567.4L212.1 565.9M215.7 567.4L217.3 563.8M224.1 569.4L227.7 570.8M224.1 569.4L222.6 573.1M228.9 563.6L225.1 562.4M228.9 563.6L230.1 559.9M237.6 565.7L241.2 567.2M237.6 565.7L236.0 569.2M243.8 560.9L247.7 560.7M243.8 560.9L243.9 564.8M246.6 553.1L248.4 549.7M246.6 553.1L250.0 555.1M240.8 547.9L238.8 551.3M240.8 547.9L237.4 545.9M244.3 540.2L240.5 539.6M244.3 540.2L245.1 536.4M250.6 536.4L247.2 534.4M250.6 536.4L252.7 533.1M258.5 539.6L261.8 541.7M258.5 539.6L256.3 542.8M264.5 532.7L260.8 531.3M264.5 532.7L266.0 529.1M274.5 535.7L274.7 531.8M274.5 535.7L278.4 536.1M276.1 545.9L277.0 549.7M276.1 545.9L272.3 546.6M280.8 551.5L282.4 555.0M280.8 551.5L277.2 553.1M286.5 554.0L288.8 550.8M286.5 554.0L289.6 556.4M280.6 558.3L276.7 558.9M280.6 558.3L280.1 554.5M279.7 566.5L283.5 565.5M279.7 566.5L280.6 570.3M273.3 571.3L269.9 573.2M273.3 571.3L271.5 567.9M272.7 577.8L275.6 575.2M272.7 577.8L275.3 580.8M267.2 584.1L264.5 586.9M267.2 584.1L264.5 581.3M266.5 590.4L265.2 594.1M266.5 590.4L262.8 589.0M272.6 593.4L275.3 596.3M272.6 593.4L269.7 596.0M279.0 592.9L282.9 593.5M279.0 592.9L278.3 596.7M280.8 585.9L276.9 585.1M280.8 585.9L281.6 582.1M287.1 585.9L283.5 584.5M287.1 585.9L288.7 582.4M295.3 590.4L298.8 592.1M295.3 590.4L293.5 593.8M300.3 585.4L296.6 584.2M300.3 585.4L301.6 581.7M309.1 587.9L312.9 588.8M309.1 587.9L308.1 591.6M314.1 584.1L318.0 584.3M314.1 584.1L313.8 588.0M315.9 576.6L318.1 573.4M315.9 576.6L319.0 578.9M309.8 570.3L307.5 573.4M309.8 570.3L306.8 567.8M310.3 563.3L306.8 564.9M310.3 563.3L308.8 559.7M317.9 559.0L321.6 558.0M317.9 559.0L318.8 562.8M319.9 551.5L316.0 551.6M319.9 551.5L319.8 547.6M327.9 549.7L331.8 549.6M327.9 549.7L327.9 553.6M330.4 542.7L333.8 540.8M330.4 542.7L332.3 546.2M326.6 533.9L325.8 530.1M326.6 533.9L330.5 533.2M317.9 532.7L316.9 536.5M317.9 532.7L314.1 531.6M320.0 525.2L322.8 522.4M320.0 525.2L322.8 528.0M317.9 517.6L314.2 519.1M317.9 517.6L316.6 514.0M326.6 515.1L330.4 514.2M326.6 515.1L327.5 519.0M327.4 507.6L323.8 509.1M327.4 507.6L326.0 504.0M336.7 503.9L340.0 501.8M336.7 503.9L338.7 507.2M335.4 497.6L332.3 499.9M335.4 497.6L333.2 494.4M341.7 492.6L344.7 490.1M341.7 492.6L344.0 495.7M337.9 486.3L339.6 482.8M337.9 486.3L341.4 488.1M330.4 481.3L329.5 485.1M330.4 481.3L326.6 480.3M329.2 472.5L328.7 468.6M329.2 472.5L333.0 472.1M319.9 473.8L321.5 477.3M319.9 473.8L316.3 475.2M311.6 472.5L307.7 472.1M311.6 472.5L312.1 468.6M310.3 480.0L314.2 480.3M310.3 480.0L310.0 483.9M301.5 478.5L297.9 476.9M301.5 478.5L303.2 475.0M294.0 481.3L295.1 485.1M294.0 481.3L290.2 482.2M292.8 473.8L293.4 469.9M292.8 473.8L296.6 474.5M282.8 472.5L282.9 476.4M282.8 472.5L278.9 472.5M280.6 463.2L279.9 459.4M280.6 463.2L284.5 462.6M272.7 462.2L269.5 459.9M272.7 462.2L275.1 459.1M265.6 467.4L268.7 469.7M265.6 467.4L263.1 470.5M257.6 466.4L258.3 470.2M257.6 466.4L253.8 466.9M253.0 460.7L251.1 464.1M253.0 460.7L249.7 458.7M257.2 452.8L259.1 449.4M257.2 452.8L260.6 454.8M251.3 447.5L249.1 450.7M251.3 447.5L248.2 445.2M257.0 440.5L259.3 437.4M257.0 440.5L260.0 443.0M257.6 434.0L258.5 430.2M257.6 434.0L261.4 435.0M250.9 431.9L250.0 435.7M250.9 431.9L247.2 430.8M251.3 425.6L253.0 422.1M251.3 425.6L254.8 427.4M246.8 421.0L243.8 423.6M246.8 421.0L244.3 418.0M252.9 417.2L256.8 417.4M252.9 417.2L252.6 421.1M254.8 408.6L250.9 408.5M254.8 408.6L255.0 404.7M262.5 406.1L266.4 405.7M262.5 406.1L262.9 410.0M263.2 398.1L259.6 399.6M263.2 398.1L261.8 394.5M269.1 392.2L267.2 388.8M269.1 392.2L272.6 390.4M273.9 390.1L275.3 386.4M273.9 390.1L277.5 391.5M336.7 503.9L332.9 504.7M336.7 503.9L335.9 500.0M345.5 509.6L349.3 508.8M345.5 509.6L346.2 513.5M130.0 562.5L131.0 558.8M130.0 562.5L133.8 563.6M122.7 566.7L119.2 568.5M122.7 566.7L121.0 563.2M121.7 573.0L120.7 576.8M121.7 573.0L117.9 571.9M129.0 574.5L132.2 572.3M129.0 574.5L131.1 577.7M91.3 464.9L87.7 463.6M91.3 464.9L92.8 461.3M93.4 469.5L96.3 466.9M93.4 469.5L96.0 472.4M88.2 473.7L87.8 477.6M88.2 473.7L84.3 473.2M251.3 425.6L247.8 427.2M251.3 425.6L249.9 422.0M256.6 427.7L256.5 423.8M256.6 427.7L260.5 427.8M258.7 432.9L262.3 434.4M258.7 432.9L257.1 436.5M163.9 403.7L164.5 399.8M163.9 403.7L167.7 404.4M156.6 408.9L153.3 411.0M156.6 408.9L154.5 405.6M156.6 415.8L160.4 415.0M156.6 415.8L157.2 419.6M151.9 419.5L155.8 419.9M151.9 419.5L151.4 423.4M143.0 417.9L139.3 416.9M143.0 417.9L144.1 414.2M138.2 423.5L141.9 424.5M138.2 423.5L137.0 427.2M129.6 422.1L126.0 420.5M129.6 422.1L131.3 418.5M123.4 427.4L126.8 429.4M123.4 427.4L121.3 430.7M116.0 427.3L112.2 428.1M116.0 427.3L115.3 423.5M117.5 432.9L120.9 434.8M117.5 432.9L115.4 436.3M116.0 427.3L116.1 423.4M116.0 427.3L119.9 427.4M112.2 430.8L112.2 434.7M112.2 430.8L108.4 430.7" stroke="#484848" stroke-width="0.75" fill="none"/>
<g fill="#5a5a5a"><circle cx="131.6" cy="372.9" r="0.8"/><circle cx="137.1" cy="371.8" r="0.8"/><circle cx="137.5" cy="386.5" r="0.8"/><circle cx="132.6" cy="383.9" r="0.8"/><circle cx="139.5" cy="378.6" r="0.8"/><circle cx="144.5" cy="376.0" r="0.8"/><circle cx="152.7" cy="376.2" r="0.8"/><circle cx="155.8" cy="380.9" r="0.8"/><circle cx="148.3" cy="388.9" r="0.8"/><circle cx="148.8" cy="383.4" r="0.8"/><circle cx="155.7" cy="397.1" r="0.8"/><circle cx="151.2" cy="393.7" r="0.8"/><circle cx="162.2" cy="391.4" r="0.8"/><circle cx="166.3" cy="395.2" r="0.8"/><circle cx="164.2" cy="407.5" r="0.8"/><circle cx="160.0" cy="403.9" r="0.8"/><circle cx="173.0" cy="409.0" r="0.8"/><circle cx="167.5" cy="407.9" r="0.8"/><circle cx="182.6" cy="402.2" r="0.8"/><circle cx="179.0" cy="406.5" r="0.8"/><circle cx="177.3" cy="395.0" r="0.8"/><circle cx="181.2" cy="391.0" r="0.8"/><circle cx="185.0" cy="388.5" r="0.8"/><circle cx="190.6" cy="388.3" r="0.8"/><circle cx="197.5" cy="398.8" r="0.8"/><circle cx="191.9" cy="398.5" r="0.8"/><circle cx="199.3" cy="389.0" r="0.8"/><circle cx="204.9" cy="389.0" r="0.8"/><circle cx="212.7" cy="398.9" r="0.8"/><circle cx="207.2" cy="400.0" r="0.8"/><circle cx="210.6" cy="390.6" r="0.8"/><circle cx="214.6" cy="386.7" r="0.8"/><circle cx="225.4" cy="385.2" r="0.8"/><circle cx="223.6" cy="390.5" r="0.8"/><circle cx="216.5" cy="382.1" r="0.8"/><circle cx="218.0" cy="376.6" r="0.8"/><circle cx="220.7" cy="374.6" r="0.8"/><circle cx="225.0" cy="371.1" r="0.8"/><circle cx="229.0" cy="370.3" r="0.8"/><circle cx="234.6" cy="370.2" r="0.8"/><circle cx="242.0" cy="380.1" r="0.8"/><circle cx="236.4" cy="380.4" r="0.8"/><circle cx="242.7" cy="371.6" r="0.8"/><circle cx="248.2" cy="370.6" r="0.8"/><circle cx="254.4" cy="373.4" r="0.8"/><circle cx="258.2" cy="377.5" r="0.8"/><circle cx="260.4" cy="387.6" r="0.8"/><circle cx="255.5" cy="384.8" r="0.8"/><circle cx="265.4" cy="381.5" r="0.8"/><circle cx="270.7" cy="383.3" r="0.8"/><circle cx="275.9" cy="393.4" r="0.8"/><circle cx="270.5" cy="392.0" r="0.8"/><circle cx="281.4" cy="386.6" r="0.8"/><circle cx="285.7" cy="390.1" r="0.8"/><circle cx="285.5" cy="399.6" r="0.8"/><circle cx="282.0" cy="395.2" r="0.8"/><circle cx="293.8" cy="402.5" r="0.8"/><circle cx="288.7" cy="400.2" r="0.8"/><circle cx="299.3" cy="394.9" r="0.8"/><circle cx="304.3" cy="397.4" r="0.8"/><circle cx="306.4" cy="409.1" r="0.8"/><circle cx="301.5" cy="406.4" r="0.8"/><circle cx="312.6" cy="401.1" r="0.8"/><circle cx="317.6" cy="403.4" r="0.8"/><circle cx="323.0" cy="407.6" r="0.8"/><circle cx="322.1" cy="413.1" r="0.8"/><circle cx="321.6" cy="417.2" r="0.8"/><circle cx="316.1" cy="416.4" r="0.8"/><circle cx="320.9" cy="413.7" r="0.8"/><circle cx="316.1" cy="410.8" r="0.8"/><circle cx="321.4" cy="402.0" r="0.8"/><circle cx="326.2" cy="404.9" r="0.8"/><circle cx="251.7" cy="376.5" r="0.8"/><circle cx="257.3" cy="376.5" r="0.8"/><circle cx="257.3" cy="391.8" r="0.8"/><circle cx="251.7" cy="391.8" r="0.8"/><circle cx="270.3" cy="388.7" r="0.8"/><circle cx="275.4" cy="386.5" r="0.8"/><circle cx="280.5" cy="398.1" r="0.8"/><circle cx="275.4" cy="400.4" r="0.8"/><circle cx="136.4" cy="378.9" r="0.8"/><circle cx="140.2" cy="383.0" r="0.8"/><circle cx="136.5" cy="385.8" r="0.8"/><circle cx="132.9" cy="390.1" r="0.8"/><circle cx="120.5" cy="384.8" r="0.8"/><circle cx="125.4" cy="382.0" r="0.8"/><circle cx="123.0" cy="392.0" r="0.8"/><circle cx="118.2" cy="394.8" r="0.8"/><circle cx="107.2" cy="388.6" r="0.8"/><circle cx="112.4" cy="386.6" r="0.8"/><circle cx="108.2" cy="397.8" r="0.8"/><circle cx="102.9" cy="399.3" r="0.8"/><circle cx="93.4" cy="396.9" r="0.8"/><circle cx="96.4" cy="392.1" r="0.8"/><circle cx="101.6" cy="399.0" r="0.8"/><circle cx="101.2" cy="404.6" r="0.8"/><circle cx="92.5" cy="410.2" r="0.8"/><circle cx="91.2" cy="404.7" r="0.8"/><circle cx="100.8" cy="406.7" r="0.8"/><circle cx="101.9" cy="412.2" r="0.8"/><circle cx="90.7" cy="415.6" r="0.8"/><circle cx="93.6" cy="410.9" r="0.8"/><circle cx="98.5" cy="420.6" r="0.8"/><circle cx="96.8" cy="426.0" r="0.8"/><circle cx="85.2" cy="430.2" r="0.8"/><circle cx="86.2" cy="424.7" r="0.8"/><circle cx="93.0" cy="432.1" r="0.8"/><circle cx="92.7" cy="437.7" r="0.8"/><circle cx="80.5" cy="444.3" r="0.8"/><circle cx="80.0" cy="438.7" r="0.8"/><circle cx="81.9" cy="450.7" r="0.8"/><circle cx="79.3" cy="445.7" r="0.8"/><circle cx="89.8" cy="445.1" r="0.8"/><circle cx="94.0" cy="448.8" r="0.8"/><circle cx="94.5" cy="458.3" r="0.8"/><circle cx="90.3" cy="454.6" r="0.8"/><circle cx="100.5" cy="452.5" r="0.8"/><circle cx="105.0" cy="455.7" r="0.8"/><circle cx="105.3" cy="466.3" r="0.8"/><circle cx="101.3" cy="462.4" r="0.8"/><circle cx="113.0" cy="460.6" r="0.8"/><circle cx="117.1" cy="464.4" r="0.8"/><circle cx="116.8" cy="475.9" r="0.8"/><circle cx="112.3" cy="472.5" r="0.8"/><circle cx="123.0" cy="469.2" r="0.8"/><circle cx="127.8" cy="472.1" r="0.8"/><circle cx="128.8" cy="485.0" r="0.8"/><circle cx="123.9" cy="482.4" r="0.8"/><circle cx="135.2" cy="479.9" r="0.8"/><circle cx="137.9" cy="484.9" r="0.8"/><circle cx="136.0" cy="485.7" r="0.8"/><circle cx="138.5" cy="490.7" r="0.8"/><circle cx="130.1" cy="500.1" r="0.8"/><circle cx="128.8" cy="494.6" r="0.8"/><circle cx="135.6" cy="506.5" r="0.8"/><circle cx="131.5" cy="502.6" r="0.8"/><circle cx="143.7" cy="508.7" r="0.8"/><circle cx="138.2" cy="507.6" r="0.8"/><circle cx="146.0" cy="499.2" r="0.8"/><circle cx="151.6" cy="499.2" r="0.8"/><circle cx="159.1" cy="509.7" r="0.8"/><circle cx="153.5" cy="510.1" r="0.8"/><circle cx="166.5" cy="507.6" r="0.8"/><circle cx="161.2" cy="509.2" r="0.8"/><circle cx="171.9" cy="498.3" r="0.8"/><circle cx="170.8" cy="503.8" r="0.8"/><circle cx="163.3" cy="495.7" r="0.8"/><circle cx="164.5" cy="490.3" r="0.8"/><circle cx="177.4" cy="487.0" r="0.8"/><circle cx="175.5" cy="492.3" r="0.8"/><circle cx="173.6" cy="480.7" r="0.8"/><circle cx="179.0" cy="479.1" r="0.8"/><circle cx="180.0" cy="481.2" r="0.8"/><circle cx="185.5" cy="481.7" r="0.8"/><circle cx="189.9" cy="493.5" r="0.8"/><circle cx="184.3" cy="492.8" r="0.8"/><circle cx="190.6" cy="485.0" r="0.8"/><circle cx="196.2" cy="484.3" r="0.8"/><circle cx="203.9" cy="495.3" r="0.8"/><circle cx="198.3" cy="495.3" r="0.8"/><circle cx="212.3" cy="489.1" r="0.8"/><circle cx="208.5" cy="493.3" r="0.8"/><circle cx="207.6" cy="482.5" r="0.8"/><circle cx="211.7" cy="478.6" r="0.8"/><circle cx="216.0" cy="477.3" r="0.8"/><circle cx="221.6" cy="477.3" r="0.8"/><circle cx="226.5" cy="478.6" r="0.8"/><circle cx="230.0" cy="483.0" r="0.8"/><circle cx="226.8" cy="493.9" r="0.8"/><circle cx="223.3" cy="489.5" r="0.8"/><circle cx="235.0" cy="488.7" r="0.8"/><circle cx="238.4" cy="493.2" r="0.8"/><circle cx="233.1" cy="505.1" r="0.8"/><circle cx="229.7" cy="500.6" r="0.8"/><circle cx="237.6" cy="510.5" r="0.8"/><circle cx="232.8" cy="507.7" r="0.8"/><circle cx="245.9" cy="501.7" r="0.8"/><circle cx="247.2" cy="507.2" r="0.8"/><circle cx="134.9" cy="487.5" r="0.8"/><circle cx="130.3" cy="484.3" r="0.8"/><circle cx="137.7" cy="474.0" r="0.8"/><circle cx="142.2" cy="477.3" r="0.8"/><circle cx="92.4" cy="410.1" r="0.8"/><circle cx="91.3" cy="404.6" r="0.8"/><circle cx="97.8" cy="402.4" r="0.8"/><circle cx="103.1" cy="403.9" r="0.8"/><circle cx="105.9" cy="409.6" r="0.8"/><circle cx="105.1" cy="415.2" r="0.8"/><circle cx="99.1" cy="421.1" r="0.8"/><circle cx="94.8" cy="417.6" r="0.8"/><circle cx="238.5" cy="503.3" r="0.8"/><circle cx="240.0" cy="508.7" r="0.8"/><circle cx="229.5" cy="511.6" r="0.8"/><circle cx="228.0" cy="506.3" r="0.8"/><circle cx="100.2" cy="452.5" r="0.8"/><circle cx="105.0" cy="455.5" r="0.8"/><circle cx="101.4" cy="462.6" r="0.8"/><circle cx="97.0" cy="466.1" r="0.8"/><circle cx="88.4" cy="467.5" r="0.8"/><circle cx="88.8" cy="461.9" r="0.8"/><circle cx="99.0" cy="465.0" r="0.8"/><circle cx="100.6" cy="470.4" r="0.8"/><circle cx="97.1" cy="473.6" r="0.8"/><circle cx="94.4" cy="478.5" r="0.8"/><circle cx="82.2" cy="481.0" r="0.8"/><circle cx="83.5" cy="475.6" r="0.8"/><circle cx="90.4" cy="483.0" r="0.8"/><circle cx="89.2" cy="488.5" r="0.8"/><circle cx="75.8" cy="491.3" r="0.8"/><circle cx="77.5" cy="485.9" r="0.8"/><circle cx="77.8" cy="499.6" r="0.8"/><circle cx="76.6" cy="494.2" r="0.8"/><circle cx="88.0" cy="505.4" r="0.8"/><circle cx="82.6" cy="503.7" r="0.8"/><circle cx="92.4" cy="497.6" r="0.8"/><circle cx="97.8" cy="498.9" r="0.8"/><circle cx="103.2" cy="502.7" r="0.8"/><circle cx="104.8" cy="508.0" r="0.8"/><circle cx="98.5" cy="517.6" r="0.8"/><circle cx="96.0" cy="512.6" r="0.8"/><circle cx="107.7" cy="514.1" r="0.8"/><circle cx="109.4" cy="519.5" r="0.8"/><circle cx="100.5" cy="528.0" r="0.8"/><circle cx="99.0" cy="522.6" r="0.8"/><circle cx="103.2" cy="534.0" r="0.8"/><circle cx="99.6" cy="529.8" r="0.8"/><circle cx="109.1" cy="526.9" r="0.8"/><circle cx="114.5" cy="528.1" r="0.8"/><circle cx="121.1" cy="536.4" r="0.8"/><circle cx="115.5" cy="536.8" r="0.8"/><circle cx="121.1" cy="526.4" r="0.8"/><circle cx="126.6" cy="525.3" r="0.8"/><circle cx="131.7" cy="526.6" r="0.8"/><circle cx="136.0" cy="530.2" r="0.8"/><circle cx="138.3" cy="532.4" r="0.8"/><circle cx="140.5" cy="537.5" r="0.8"/><circle cx="134.0" cy="548.1" r="0.8"/><circle cx="131.6" cy="543.0" r="0.8"/><circle cx="142.5" cy="545.2" r="0.8"/><circle cx="145.2" cy="550.1" r="0.8"/><circle cx="142.9" cy="558.0" r="0.8"/><circle cx="139.3" cy="562.3" r="0.8"/><circle cx="126.2" cy="563.8" r="0.8"/><circle cx="128.2" cy="558.6" r="0.8"/><circle cx="122.7" cy="570.8" r="0.8"/><circle cx="122.2" cy="565.2" r="0.8"/><circle cx="134.0" cy="575.6" r="0.8"/><circle cx="128.5" cy="574.5" r="0.8"/><circle cx="137.2" cy="569.0" r="0.8"/><circle cx="142.7" cy="570.5" r="0.8"/><circle cx="147.3" cy="581.5" r="0.8"/><circle cx="141.8" cy="580.2" r="0.8"/><circle cx="150.4" cy="574.3" r="0.8"/><circle cx="155.9" cy="575.4" r="0.8"/><circle cx="160.9" cy="587.3" r="0.8"/><circle cx="155.4" cy="586.4" r="0.8"/><circle cx="169.4" cy="585.0" r="0.8"/><circle cx="164.9" cy="588.3" r="0.8"/><circle cx="162.7" cy="576.9" r="0.8"/><circle cx="166.7" cy="572.9" r="0.8"/><circle cx="167.1" cy="573.8" r="0.8"/><circle cx="168.0" cy="568.2" r="0.8"/><circle cx="174.7" cy="563.6" r="0.8"/><circle cx="180.2" cy="564.5" r="0.8"/><circle cx="181.3" cy="567.5" r="0.8"/><circle cx="186.1" cy="570.5" r="0.8"/><circle cx="186.6" cy="583.4" r="0.8"/><circle cx="181.4" cy="581.4" r="0.8"/><circle cx="189.3" cy="575.1" r="0.8"/><circle cx="194.8" cy="575.9" r="0.8"/><circle cx="199.0" cy="589.9" r="0.8"/><circle cx="193.5" cy="588.6" r="0.8"/><circle cx="207.5" cy="588.3" r="0.8"/><circle cx="202.0" cy="589.4" r="0.8"/><circle cx="214.2" cy="579.4" r="0.8"/><circle cx="211.6" cy="584.4" r="0.8"/><circle cx="206.2" cy="572.7" r="0.8"/><circle cx="209.4" cy="568.1" r="0.8"/><circle cx="212.1" cy="565.9" r="0.8"/><circle cx="217.3" cy="563.8" r="0.8"/><circle cx="227.7" cy="570.8" r="0.8"/><circle cx="222.6" cy="573.1" r="0.8"/><circle cx="225.1" cy="562.4" r="0.8"/><circle cx="230.1" cy="559.9" r="0.8"/><circle cx="241.2" cy="567.2" r="0.8"/><circle cx="236.0" cy="569.2" r="0.8"/><circle cx="247.7" cy="560.7" r="0.8"/><circle cx="243.9" cy="564.8" r="0.8"/><circle cx="248.4" cy="549.7" r="0.8"/><circle cx="250.0" cy="555.1" r="0.8"/><circle cx="238.8" cy="551.3" r="0.8"/><circle cx="237.4" cy="545.9" r="0.8"/><circle cx="240.5" cy="539.6" r="0.8"/><circle cx="245.1" cy="536.4" r="0.8"/><circle cx="247.2" cy="534.4" r="0.8"/><circle cx="252.7" cy="533.1" r="0.8"/><circle cx="261.8" cy="541.7" r="0.8"/><circle cx="256.3" cy="542.8" r="0.8"/><circle cx="260.8" cy="531.3" r="0.8"/><circle cx="266.0" cy="529.1" r="0.8"/><circle cx="274.7" cy="531.8" r="0.8"/><circle cx="278.4" cy="536.1" r="0.8"/><circle cx="277.0" cy="549.7" r="0.8"/><circle cx="272.3" cy="546.6" r="0.8"/><circle cx="282.4" cy="555.0" r="0.8"/><circle cx="277.2" cy="553.1" r="0.8"/><circle cx="288.8" cy="550.8" r="0.8"/><circle cx="289.6" cy="556.4" r="0.8"/><circle cx="276.7" cy="558.9" r="0.8"/><circle cx="280.1" cy="554.5" r="0.8"/><circle cx="283.5" cy="565.5" r="0.8"/><circle cx="280.6" cy="570.3" r="0.8"/><circle cx="269.9" cy="573.2" r="0.8"/><circle cx="271.5" cy="567.9" r="0.8"/><circle cx="275.6" cy="575.2" r="0.8"/><circle cx="275.3" cy="580.8" r="0.8"/><circle cx="264.5" cy="586.9" r="0.8"/><circle cx="264.5" cy="581.3" r="0.8"/><circle cx="265.2" cy="594.1" r="0.8"/><circle cx="262.8" cy="589.0" r="0.8"/><circle cx="275.3" cy="596.3" r="0.8"/><circle cx="269.7" cy="596.0" r="0.8"/><circle cx="282.9" cy="593.5" r="0.8"/><circle cx="278.3" cy="596.7" r="0.8"/><circle cx="276.9" cy="585.1" r="0.8"/><circle cx="281.6" cy="582.1" r="0.8"/><circle cx="283.5" cy="584.5" r="0.8"/><circle cx="288.7" cy="582.4" r="0.8"/><circle cx="298.8" cy="592.1" r="0.8"/><circle cx="293.5" cy="593.8" r="0.8"/><circle cx="296.6" cy="584.2" r="0.8"/><circle cx="301.6" cy="581.7" r="0.8"/><circle cx="312.9" cy="588.8" r="0.8"/><circle cx="308.1" cy="591.6" r="0.8"/><circle cx="318.0" cy="584.3" r="0.8"/><circle cx="313.8" cy="588.0" r="0.8"/><circle cx="318.1" cy="573.4" r="0.8"/><circle cx="319.0" cy="578.9" r="0.8"/><circle cx="307.5" cy="573.4" r="0.8"/><circle cx="306.8" cy="567.8" r="0.8"/><circle cx="306.8" cy="564.9" r="0.8"/><circle cx="308.8" cy="559.7" r="0.8"/><circle cx="321.6" cy="558.0" r="0.8"/><circle cx="318.8" cy="562.8" r="0.8"/><circle cx="316.0" cy="551.6" r="0.8"/><circle cx="319.8" cy="547.6" r="0.8"/><circle cx="331.8" cy="549.6" r="0.8"/><circle cx="327.9" cy="553.6" r="0.8"/><circle cx="333.8" cy="540.8" r="0.8"/><circle cx="332.3" cy="546.2" r="0.8"/><circle cx="325.8" cy="530.1" r="0.8"/><circle cx="330.5" cy="533.2" r="0.8"/><circle cx="316.9" cy="536.5" r="0.8"/><circle cx="314.1" cy="531.6" r="0.8"/><circle cx="322.8" cy="522.4" r="0.8"/><circle cx="322.8" cy="528.0" r="0.8"/><circle cx="314.2" cy="519.1" r="0.8"/><circle cx="316.6" cy="514.0" r="0.8"/><circle cx="330.4" cy="514.2" r="0.8"/><circle cx="327.5" cy="519.0" r="0.8"/><circle cx="323.8" cy="509.1" r="0.8"/><circle cx="326.0" cy="504.0" r="0.8"/><circle cx="340.0" cy="501.8" r="0.8"/><circle cx="338.7" cy="507.2" r="0.8"/><circle cx="332.3" cy="499.9" r="0.8"/><circle cx="333.2" cy="494.4" r="0.8"/><circle cx="344.7" cy="490.1" r="0.8"/><circle cx="344.0" cy="495.7" r="0.8"/><circle cx="339.6" cy="482.8" r="0.8"/><circle cx="341.4" cy="488.1" r="0.8"/><circle cx="329.5" cy="485.1" r="0.8"/><circle cx="326.6" cy="480.3" r="0.8"/><circle cx="328.7" cy="468.6" r="0.8"/><circle cx="333.0" cy="472.1" r="0.8"/><circle cx="321.5" cy="477.3" r="0.8"/><circle cx="316.3" cy="475.2" r="0.8"/><circle cx="307.7" cy="472.1" r="0.8"/><circle cx="312.1" cy="468.6" r="0.8"/><circle cx="314.2" cy="480.3" r="0.8"/><circle cx="310.0" cy="483.9" r="0.8"/><circle cx="297.9" cy="476.9" r="0.8"/><circle cx="303.2" cy="475.0" r="0.8"/><circle cx="295.1" cy="485.1" r="0.8"/><circle cx="290.2" cy="482.2" r="0.8"/><circle cx="293.4" cy="469.9" r="0.8"/><circle cx="296.6" cy="474.5" r="0.8"/><circle cx="282.9" cy="476.4" r="0.8"/><circle cx="278.9" cy="472.5" r="0.8"/><circle cx="279.9" cy="459.4" r="0.8"/><circle cx="284.5" cy="462.6" r="0.8"/><circle cx="269.5" cy="459.9" r="0.8"/><circle cx="275.1" cy="459.1" r="0.8"/><circle cx="268.7" cy="469.7" r="0.8"/><circle cx="263.1" cy="470.5" r="0.8"/><circle cx="258.3" cy="470.2" r="0.8"/><circle cx="253.8" cy="466.9" r="0.8"/><circle cx="251.1" cy="464.1" r="0.8"/><circle cx="249.7" cy="458.7" r="0.8"/><circle cx="259.1" cy="449.4" r="0.8"/><circle cx="260.6" cy="454.8" r="0.8"/><circle cx="249.1" cy="450.7" r="0.8"/><circle cx="248.2" cy="445.2" r="0.8"/><circle cx="259.3" cy="437.4" r="0.8"/><circle cx="260.0" cy="443.0" r="0.8"/><circle cx="258.5" cy="430.2" r="0.8"/><circle cx="261.4" cy="435.0" r="0.8"/><circle cx="250.0" cy="435.7" r="0.8"/><circle cx="247.2" cy="430.8" r="0.8"/><circle cx="253.0" cy="422.1" r="0.8"/><circle cx="254.8" cy="427.4" r="0.8"/><circle cx="243.8" cy="423.6" r="0.8"/><circle cx="244.3" cy="418.0" r="0.8"/><circle cx="256.8" cy="417.4" r="0.8"/><circle cx="252.6" cy="421.1" r="0.8"/><circle cx="250.9" cy="408.5" r="0.8"/><circle cx="255.0" cy="404.7" r="0.8"/><circle cx="266.4" cy="405.7" r="0.8"/><circle cx="262.9" cy="410.0" r="0.8"/><circle cx="259.6" cy="399.6" r="0.8"/><circle cx="261.8" cy="394.5" r="0.8"/><circle cx="267.2" cy="388.8" r="0.8"/><circle cx="272.6" cy="390.4" r="0.8"/><circle cx="275.3" cy="386.4" r="0.8"/><circle cx="277.5" cy="391.5" r="0.8"/><circle cx="332.9" cy="504.7" r="0.8"/><circle cx="335.9" cy="500.0" r="0.8"/><circle cx="349.3" cy="508.8" r="0.8"/><circle cx="346.2" cy="513.5" r="0.8"/><circle cx="131.0" cy="558.8" r="0.8"/><circle cx="133.8" cy="563.6" r="0.8"/><circle cx="119.2" cy="568.5" r="0.8"/><circle cx="121.0" cy="563.2" r="0.8"/><circle cx="120.7" cy="576.8" r="0.8"/><circle cx="117.9" cy="571.9" r="0.8"/><circle cx="132.2" cy="572.3" r="0.8"/><circle cx="131.1" cy="577.7" r="0.8"/><circle cx="87.7" cy="463.6" r="0.8"/><circle cx="92.8" cy="461.3" r="0.8"/><circle cx="96.3" cy="466.9" r="0.8"/><circle cx="96.0" cy="472.4" r="0.8"/><circle cx="87.8" cy="477.6" r="0.8"/><circle cx="84.3" cy="473.2" r="0.8"/><circle cx="247.8" cy="427.2" r="0.8"/><circle cx="249.9" cy="422.0" r="0.8"/><circle cx="256.5" cy="423.8" r="0.8"/><circle cx="260.5" cy="427.8" r="0.8"/><circle cx="262.3" cy="434.4" r="0.8"/><circle cx="257.1" cy="436.5" r="0.8"/><circle cx="164.5" cy="399.8" r="0.8"/><circle cx="167.7" cy="404.4" r="0.8"/><circle cx="153.3" cy="411.0" r="0.8"/><circle cx="154.5" cy="405.6" r="0.8"/><circle cx="160.4" cy="415.0" r="0.8"/><circle cx="157.2" cy="419.6" r="0.8"/><circle cx="155.8" cy="419.9" r="0.8"/><circle cx="151.4" cy="423.4" r="0.8"/><circle cx="139.3" cy="416.9" r="0.8"/><circle cx="144.1" cy="414.2" r="0.8"/><circle cx="141.9" cy="424.5" r="0.8"/><circle cx="137.0" cy="427.2" r="0.8"/><circle cx="126.0" cy="420.5" r="0.8"/><circle cx="131.3" cy="418.5" r="0.8"/><circle cx="126.8" cy="429.4" r="0.8"/><circle cx="121.3" cy="430.7" r="0.8"/><circle cx="112.2" cy="428.1" r="0.8"/><circle cx="115.3" cy="423.5" r="0.8"/><circle cx="120.9" cy="434.8" r="0.8"/><circle cx="115.4" cy="436.3" r="0.8"/><circle cx="116.1" cy="423.4" r="0.8"/><circle cx="119.9" cy="427.4" r="0.8"/><circle cx="112.2" cy="434.7" r="0.8"/><circle cx="108.4" cy="430.7" r="0.8"/></g>
<path d="M134.8 375.0L136.3 382.8L143.2 379.7L152.0 380.0L151.3 386.4L155.1 393.2L162.4 395.3L163.9 403.7L170.8 405.8L178.7 402.6L181.2 394.9L187.9 391.1L194.8 395.9L202.1 391.8L209.4 396.8L214.5 390.6L222.0 386.9L219.9 380.0L224.6 375.0L231.8 372.9L239.1 377.5L246.0 373.8L254.3 377.3L259.3 383.8L267.2 385.0L273.9 390.1L281.8 390.5L285.9 395.7L292.4 398.9L300.6 398.6L305.3 405.3L314.0 404.7L319.9 409.9L319.3 414.1M319.9 409.9L322.4 405.8M254.5 379.2L254.5 389.0M273.9 390.1L276.8 396.8M136.3 382.8L132.6 386.2L124.3 385.7L119.3 391.0L110.7 390.2L104.8 395.9L97.2 395.9L98.7 401.6L94.5 406.8L98.7 409.9L94.4 414.7L95.0 422.5L88.4 427.9L90.2 434.8L83.0 441.2L83.0 446.9L90.1 449.0L94.2 454.4L101.2 456.3L105.2 462.4L113.2 464.5L116.2 472.0L124.1 473.0L127.6 481.3L134.2 483.7L134.8 489.4L132.1 496.7L135.4 502.6L141.5 505.5L148.8 501.9L156.1 507.2L163.0 505.8L168.7 500.5L166.6 493.6L173.9 488.8L177.0 482.5L182.5 484.2L187.5 490.4L193.8 487.3L201.1 492.5L208.4 489.4L211.5 482.5L218.8 480.0L226.1 482.5L227.2 490.0L234.5 492.5L233.5 501.2L236.6 506.8L243.9 505.1M134.2 483.7L138.4 477.9M94.5 406.8L99.7 405.8L102.8 412.0L98.7 417.2M236.6 506.8L231.4 508.2M101.2 456.3L97.5 462.2L91.3 464.9L97.2 468.4L93.4 474.8L85.5 478.9L87.2 485.2L79.2 489.4L79.9 496.3L86.1 501.9L94.5 500.9L101.4 506.1L99.7 513.9L106.0 517.6L102.4 524.5L103.5 530.2L111.2 530.2L118.1 533.9L124.4 528.5L132.1 530.5L136.9 536.0L135.2 544.4L141.5 549.0L139.0 558.4L129.7 562.2L125.2 567.8L131.8 572.4L139.3 572.4L145.2 578.2L152.6 577.5L158.6 584.2L165.5 584.5L166.6 576.8L170.2 571.5L177.0 566.7L182.2 571.3L185.0 579.9L191.7 578.2L196.9 586.6L204.2 586.2L210.5 580.7L210.1 572.0L215.7 567.4L224.1 569.4L228.9 563.6L237.6 565.7L243.8 560.9L246.6 553.1L240.8 547.9L244.3 540.2L250.6 536.4L258.5 539.6L264.5 532.7L274.5 535.7L276.1 545.9L280.8 551.5L286.5 554.0L280.6 558.3L279.7 566.5L273.3 571.3L272.7 577.8L267.2 584.1L266.5 590.4L272.6 593.4L279.0 592.9L280.8 585.9L287.1 585.9L295.3 590.4L300.3 585.4L309.1 587.9L314.1 584.1L315.9 576.6L309.8 570.3L310.3 563.3L317.9 559.0L319.9 551.5L327.9 549.7L330.4 542.7L326.6 533.9L317.9 532.7L320.0 525.2L317.9 517.6L326.6 515.1L327.4 507.6L336.7 503.9L335.4 497.6L341.7 492.6L337.9 486.3L330.4 481.3L329.2 472.5L319.9 473.8L311.6 472.5L310.3 480.0L301.5 478.5L294.0 481.3L292.8 473.8L282.8 472.5L280.6 463.2L272.7 462.2L265.6 467.4L257.6 466.4L253.0 460.7L257.2 452.8L251.3 447.5L257.0 440.5L257.6 434.0L250.9 431.9L251.3 425.6L246.8 421.0L252.9 417.2L254.8 408.6L262.5 406.1L263.2 398.1L269.1 392.2L273.9 390.1M336.7 503.9L345.5 509.6M130.0 562.5L122.7 566.7L121.7 573.0L129.0 574.5M91.3 464.9L93.4 469.5L88.2 473.7M251.3 425.6L256.6 427.7L258.7 432.9M163.9 403.7L156.6 408.9L156.6 415.8L151.9 419.5L143.0 417.9L138.2 423.5L129.6 422.1L123.4 427.4L116.0 427.3L117.5 432.9M116.0 427.3L112.2 430.8" stroke="#111" stroke-width="1.35" fill="none" stroke-linejoin="round"/>
<g fill="#0a0a0a"><circle cx="134.8" cy="375.0" r="2.3"/><circle cx="136.3" cy="382.8" r="2.3"/><circle cx="143.2" cy="379.7" r="2.3"/><circle cx="152.0" cy="380.0" r="2.3"/><circle cx="151.3" cy="386.4" r="2.3"/><circle cx="155.1" cy="393.2" r="2.3"/><circle cx="162.4" cy="395.3" r="2.3"/><circle cx="163.9" cy="403.7" r="2.3"/><circle cx="170.8" cy="405.8" r="2.3"/><circle cx="178.7" cy="402.6" r="2.3"/><circle cx="181.2" cy="394.9" r="2.3"/><circle cx="187.9" cy="391.1" r="2.3"/><circle cx="194.8" cy="395.9" r="2.3"/><circle cx="202.1" cy="391.8" r="2.3"/><circle cx="209.4" cy="396.8" r="2.3"/><circle cx="214.5" cy="390.6" r="2.3"/><circle cx="222.0" cy="386.9" r="2.3"/><circle cx="219.9" cy="380.0" r="2.3"/><circle cx="224.6" cy="375.0" r="2.3"/><circle cx="231.8" cy="372.9" r="2.3"/><circle cx="239.1" cy="377.5" r="2.3"/><circle cx="246.0" cy="373.8" r="2.3"/><circle cx="254.3" cy="377.3" r="2.3"/><circle cx="259.3" cy="383.8" r="2.3"/><circle cx="267.2" cy="385.0" r="2.3"/><circle cx="273.9" cy="390.1" r="2.3"/><circle cx="281.8" cy="390.5" r="2.3"/><circle cx="285.9" cy="395.7" r="2.3"/><circle cx="292.4" cy="398.9" r="2.3"/><circle cx="300.6" cy="398.6" r="2.3"/><circle cx="305.3" cy="405.3" r="2.3"/><circle cx="314.0" cy="404.7" r="2.3"/><circle cx="319.9" cy="409.9" r="2.3"/><circle cx="319.3" cy="414.1" r="2.3"/><circle cx="319.9" cy="409.9" r="2.3"/><circle cx="322.4" cy="405.8" r="2.3"/><circle cx="254.5" cy="379.2" r="2.3"/><circle cx="254.5" cy="389.0" r="2.3"/><circle cx="273.9" cy="390.1" r="2.3"/><circle cx="276.8" cy="396.8" r="2.3"/><circle cx="136.3" cy="382.8" r="2.3"/><circle cx="132.6" cy="386.2" r="2.3"/><circle cx="124.3" cy="385.7" r="2.3"/><circle cx="119.3" cy="391.0" r="2.3"/><circle cx="110.7" cy="390.2" r="2.3"/><circle cx="104.8" cy="395.9" r="2.3"/><circle cx="97.2" cy="395.9" r="2.3"/><circle cx="98.7" cy="401.6" r="2.3"/><circle cx="94.5" cy="406.8" r="2.3"/><circle cx="98.7" cy="409.9" r="2.3"/><circle cx="94.4" cy="414.7" r="2.3"/><circle cx="95.0" cy="422.5" r="2.3"/><circle cx="88.4" cy="427.9" r="2.3"/><circle cx="90.2" cy="434.8" r="2.3"/><circle cx="83.0" cy="441.2" r="2.3"/><circle cx="83.0" cy="446.9" r="2.3"/><circle cx="90.1" cy="449.0" r="2.3"/><circle cx="94.2" cy="454.4" r="2.3"/><circle cx="101.2" cy="456.3" r="2.3"/><circle cx="105.2" cy="462.4" r="2.3"/><circle cx="113.2" cy="464.5" r="2.3"/><circle cx="116.2" cy="472.0" r="2.3"/><circle cx="124.1" cy="473.0" r="2.3"/><circle cx="127.6" cy="481.3" r="2.3"/><circle cx="134.2" cy="483.7" r="2.3"/><circle cx="134.8" cy="489.4" r="2.3"/><circle cx="132.1" cy="496.7" r="2.3"/><circle cx="135.4" cy="502.6" r="2.3"/><circle cx="141.5" cy="505.5" r="2.3"/><circle cx="148.8" cy="501.9" r="2.3"/><circle cx="156.1" cy="507.2" r="2.3"/><circle cx="163.0" cy="505.8" r="2.3"/><circle cx="168.7" cy="500.5" r="2.3"/><circle cx="166.6" cy="493.6" r="2.3"/><circle cx="173.9" cy="488.8" r="2.3"/><circle cx="177.0" cy="482.5" r="2.3"/><circle cx="182.5" cy="484.2" r="2.3"/><circle cx="187.5" cy="490.4" r="2.3"/><circle cx="193.8" cy="487.3" r="2.3"/><circle cx="201.1" cy="492.5" r="2.3"/><circle cx="208.4" cy="489.4" r="2.3"/><circle cx="211.5" cy="482.5" r="2.3"/><circle cx="218.8" cy="480.0" r="2.3"/><circle cx="226.1" cy="482.5" r="2.3"/><circle cx="227.2" cy="490.0" r="2.3"/><circle cx="234.5" cy="492.5" r="2.3"/><circle cx="233.5" cy="501.2" r="2.3"/><circle cx="236.6" cy="506.8" r="2.3"/><circle cx="243.9" cy="505.1" r="2.3"/><circle cx="134.2" cy="483.7" r="2.3"/><circle cx="138.4" cy="477.9" r="2.3"/><circle cx="94.5" cy="406.8" r="2.3"/><circle cx="99.7" cy="405.8" r="2.3"/><circle cx="102.8" cy="412.0" r="2.3"/><circle cx="98.7" cy="417.2" r="2.3"/><circle cx="236.6" cy="506.8" r="2.3"/><circle cx="231.4" cy="508.2" r="2.3"/><circle cx="101.2" cy="456.3" r="2.3"/><circle cx="97.5" cy="462.2" r="2.3"/><circle cx="91.3" cy="464.9" r="2.3"/><circle cx="97.2" cy="468.4" r="2.3"/><circle cx="93.4" cy="474.8" r="2.3"/><circle cx="85.5" cy="478.9" r="2.3"/><circle cx="87.2" cy="485.2" r="2.3"/><circle cx="79.2" cy="489.4" r="2.3"/><circle cx="79.9" cy="496.3" r="2.3"/><circle cx="86.1" cy="501.9" r="2.3"/><circle cx="94.5" cy="500.9" r="2.3"/><circle cx="101.4" cy="506.1" r="2.3"/><circle cx="99.7" cy="513.9" r="2.3"/><circle cx="106.0" cy="517.6" r="2.3"/><circle cx="102.4" cy="524.5" r="2.3"/><circle cx="103.5" cy="530.2" r="2.3"/><circle cx="111.2" cy="530.2" r="2.3"/><circle cx="118.1" cy="533.9" r="2.3"/><circle cx="124.4" cy="528.5" r="2.3"/><circle cx="132.1" cy="530.5" r="2.3"/><circle cx="136.9" cy="536.0" r="2.3"/><circle cx="135.2" cy="544.4" r="2.3"/><circle cx="141.5" cy="549.0" r="2.3"/><circle cx="139.0" cy="558.4" r="2.3"/><circle cx="129.7" cy="562.2" r="2.3"/><circle cx="125.2" cy="567.8" r="2.3"/><circle cx="131.8" cy="572.4" r="2.3"/><circle cx="139.3" cy="572.4" r="2.3"/><circle cx="145.2" cy="578.2" r="2.3"/><circle cx="152.6" cy="577.5" r="2.3"/><circle cx="158.6" cy="584.2" r="2.3"/><circle cx="165.5" cy="584.5" r="2.3"/><circle cx="166.6" cy="576.8" r="2.3"/><circle cx="170.2" cy="571.5" r="2.3"/><circle cx="177.0" cy="566.7" r="2.3"/><circle cx="182.2" cy="571.3" r="2.3"/><circle cx="185.0" cy="579.9" r="2.3"/><circle cx="191.7" cy="578.2" r="2.3"/><circle cx="196.9" cy="586.6" r="2.3"/><circle cx="204.2" cy="586.2" r="2.3"/><circle cx="210.5" cy="580.7" r="2.3"/><circle cx="210.1" cy="572.0" r="2.3"/><circle cx="215.7" cy="567.4" r="2.3"/><circle cx="224.1" cy="569.4" r="2.3"/><circle cx="228.9" cy="563.6" r="2.3"/><circle cx="237.6" cy="565.7" r="2.3"/><circle cx="243.8" cy="560.9" r="2.3"/><circle cx="246.6" cy="553.1" r="2.3"/><circle cx="240.8" cy="547.9" r="2.3"/><circle cx="244.3" cy="540.2" r="2.3"/><circle cx="250.6" cy="536.4" r="2.3"/><circle cx="258.5" cy="539.6" r="2.3"/><circle cx="264.5" cy="532.7" r="2.3"/><circle cx="274.5" cy="535.7" r="2.3"/><circle cx="276.1" cy="545.9" r="2.3"/><circle cx="280.8" cy="551.5" r="2.3"/><circle cx="286.5" cy="554.0" r="2.3"/><circle cx="280.6" cy="558.3" r="2.3"/><circle cx="279.7" cy="566.5" r="2.3"/><circle cx="273.3" cy="571.3" r="2.3"/><circle cx="272.7" cy="577.8" r="2.3"/><circle cx="267.2" cy="584.1" r="2.3"/><circle cx="266.5" cy="590.4" r="2.3"/><circle cx="272.6" cy="593.4" r="2.3"/><circle cx="279.0" cy="592.9" r="2.3"/><circle cx="280.8" cy="585.9" r="2.3"/><circle cx="287.1" cy="585.9" r="2.3"/><circle cx="295.3" cy="590.4" r="2.3"/><circle cx="300.3" cy="585.4" r="2.3"/><circle cx="309.1" cy="587.9" r="2.3"/><circle cx="314.1" cy="584.1" r="2.3"/><circle cx="315.9" cy="576.6" r="2.3"/><circle cx="309.8" cy="570.3" r="2.3"/><circle cx="310.3" cy="563.3" r="2.3"/><circle cx="317.9" cy="559.0" r="2.3"/><circle cx="319.9" cy="551.5" r="2.3"/><circle cx="327.9" cy="549.7" r="2.3"/><circle cx="330.4" cy="542.7" r="2.3"/><circle cx="326.6" cy="533.9" r="2.3"/><circle cx="317.9" cy="532.7" r="2.3"/><circle cx="320.0" cy="525.2" r="2.3"/><circle cx="317.9" cy="517.6" r="2.3"/><circle cx="326.6" cy="515.1" r="2.3"/><circle cx="327.4" cy="507.6" r="2.3"/><circle cx="336.7" cy="503.9" r="2.3"/><circle cx="335.4" cy="497.6" r="2.3"/><circle cx="341.7" cy="492.6" r="2.3"/><circle cx="337.9" cy="486.3" r="2.3"/><circle cx="330.4" cy="481.3" r="2.3"/><circle cx="329.2" cy="472.5" r="2.3"/><circle cx="319.9" cy="473.8" r="2.3"/><circle cx="311.6" cy="472.5" r="2.3"/><circle cx="310.3" cy="480.0" r="2.3"/><circle cx="301.5" cy="478.5" r="2.3"/><circle cx="294.0" cy="481.3" r="2.3"/><circle cx="292.8" cy="473.8" r="2.3"/><circle cx="282.8" cy="472.5" r="2.3"/><circle cx="280.6" cy="463.2" r="2.3"/><circle cx="272.7" cy="462.2" r="2.3"/><circle cx="265.6" cy="467.4" r="2.3"/><circle cx="257.6" cy="466.4" r="2.3"/><circle cx="253.0" cy="460.7" r="2.3"/><circle cx="257.2" cy="452.8" r="2.3"/><circle cx="251.3" cy="447.5" r="2.3"/><circle cx="257.0" cy="440.5" r="2.3"/><circle cx="257.6" cy="434.0" r="2.3"/><circle cx="250.9" cy="431.9" r="2.3"/><circle cx="251.3" cy="425.6" r="2.3"/><circle cx="246.8" cy="421.0" r="2.3"/><circle cx="252.9" cy="417.2" r="2.3"/><circle cx="254.8" cy="408.6" r="2.3"/><circle cx="262.5" cy="406.1" r="2.3"/><circle cx="263.2" cy="398.1" r="2.3"/><circle cx="269.1" cy="392.2" r="2.3"/><circle cx="273.9" cy="390.1" r="2.3"/><circle cx="336.7" cy="503.9" r="2.3"/><circle cx="345.5" cy="509.6" r="2.3"/><circle cx="130.0" cy="562.5" r="2.3"/><circle cx="122.7" cy="566.7" r="2.3"/><circle cx="121.7" cy="573.0" r="2.3"/><circle cx="129.0" cy="574.5" r="2.3"/><circle cx="91.3" cy="464.9" r="2.3"/><circle cx="93.4" cy="469.5" r="2.3"/><circle cx="88.2" cy="473.7" r="2.3"/><circle cx="251.3" cy="425.6" r="2.3"/><circle cx="256.6" cy="427.7" r="2.3"/><circle cx="258.7" cy="432.9" r="2.3"/><circle cx="163.9" cy="403.7" r="2.3"/><circle cx="156.6" cy="408.9" r="2.3"/><circle cx="156.6" cy="415.8" r="2.3"/><circle cx="151.9" cy="419.5" r="2.3"/><circle cx="143.0" cy="417.9" r="2.3"/><circle cx="138.2" cy="423.5" r="2.3"/><circle cx="129.6" cy="422.1" r="2.3"/><circle cx="123.4" cy="427.4" r="2.3"/><circle cx="116.0" cy="427.3" r="2.3"/><circle cx="117.5" cy="432.9" r="2.3"/><circle cx="116.0" cy="427.3" r="2.3"/><circle cx="112.2" cy="430.8" r="2.3"/></g>
</g>
<line x1="330.1" y1="386.5" x2="327.6" y2="380.7" stroke="#555" stroke-width="0.8"/>
<line x1="330.1" y1="386.5" x2="322.4" y2="385.9" stroke="#555" stroke-width="0.8"/>
<line x1="330.1" y1="386.5" x2="327.6" y2="391.8" stroke="#555" stroke-width="0.8"/>
<line x1="330.1" y1="386.5" x2="336.4" y2="386.9" stroke="#555" stroke-width="0.8"/>
<circle cx="327.6" cy="380.7" r="2.6" fill="url(#pkg)"/>
<circle cx="322.4" cy="385.9" r="2.6" fill="url(#pkg)"/>
<circle cx="327.6" cy="391.8" r="2.6" fill="url(#pkg)"/>
<circle cx="336.4" cy="386.9" r="2.6" fill="url(#pkg)"/>
<circle cx="330.1" cy="386.5" r="2" fill="#0a0a0a"/>
<line x1="302.5" y1="449.0" x2="302.5" y2="442.7" stroke="#555" stroke-width="0.8"/>
<line x1="302.5" y1="449.0" x2="295.7" y2="449.6" stroke="#555" stroke-width="0.8"/>
<line x1="302.5" y1="449.0" x2="301.5" y2="455.9" stroke="#555" stroke-width="0.8"/>
<line x1="302.5" y1="449.0" x2="307.4" y2="451.7" stroke="#555" stroke-width="0.8"/>
<circle cx="302.5" cy="442.7" r="2.6" fill="url(#pkg)"/>
<circle cx="295.7" cy="449.6" r="2.6" fill="url(#pkg)"/>
<circle cx="301.5" cy="455.9" r="2.6" fill="url(#pkg)"/>
<circle cx="307.4" cy="451.7" r="2.6" fill="url(#pkg)"/>
<circle cx="302.5" cy="449.0" r="2" fill="#0a0a0a"/>
<line x1="247.2" y1="481.4" x2="248.2" y2="475.3" stroke="#555" stroke-width="0.8"/>
<line x1="247.2" y1="481.4" x2="241.5" y2="482.0" stroke="#555" stroke-width="0.8"/>
<line x1="247.2" y1="481.4" x2="252.4" y2="484.7" stroke="#555" stroke-width="0.8"/>
<line x1="247.2" y1="481.4" x2="246.1" y2="488.3" stroke="#555" stroke-width="0.8"/>
<circle cx="248.2" cy="475.3" r="2.6" fill="url(#pkg)"/>
<circle cx="241.5" cy="482.0" r="2.6" fill="url(#pkg)"/>
<circle cx="252.4" cy="484.7" r="2.6" fill="url(#pkg)"/>
<circle cx="246.1" cy="488.3" r="2.6" fill="url(#pkg)"/>
<circle cx="247.2" cy="481.4" r="2" fill="#0a0a0a"/>
<line x1="187.1" y1="513.4" x2="181.8" y2="510.9" stroke="#555" stroke-width="0.8"/>
<line x1="187.1" y1="513.4" x2="191.7" y2="508.2" stroke="#555" stroke-width="0.8"/>
<line x1="187.1" y1="513.4" x2="182.3" y2="518.7" stroke="#555" stroke-width="0.8"/>
<line x1="187.1" y1="513.4" x2="189.2" y2="518.7" stroke="#555" stroke-width="0.8"/>
<circle cx="181.8" cy="510.9" r="2.6" fill="url(#pkg)"/>
<circle cx="191.7" cy="508.2" r="2.6" fill="url(#pkg)"/>
<circle cx="182.3" cy="518.7" r="2.6" fill="url(#pkg)"/>
<circle cx="189.2" cy="518.7" r="2.6" fill="url(#pkg)"/>
<circle cx="187.1" cy="513.4" r="2" fill="#0a0a0a"/>
<line x1="216.7" y1="524.3" x2="217.8" y2="517.6" stroke="#555" stroke-width="0.8"/>
<line x1="216.7" y1="524.3" x2="210.9" y2="524.5" stroke="#555" stroke-width="0.8"/>
<line x1="216.7" y1="524.3" x2="215.7" y2="530.6" stroke="#555" stroke-width="0.8"/>
<line x1="216.7" y1="524.3" x2="222.0" y2="527.6" stroke="#555" stroke-width="0.8"/>
<circle cx="217.8" cy="517.6" r="2.6" fill="url(#pkg)"/>
<circle cx="210.9" cy="524.5" r="2.6" fill="url(#pkg)"/>
<circle cx="215.7" cy="530.6" r="2.6" fill="url(#pkg)"/>
<circle cx="222.0" cy="527.6" r="2.6" fill="url(#pkg)"/>
<circle cx="216.7" cy="524.3" r="2" fill="#0a0a0a"/>
<line x1="166.6" y1="550.4" x2="168.0" y2="543.7" stroke="#555" stroke-width="0.8"/>
<line x1="166.6" y1="550.4" x2="160.3" y2="550.6" stroke="#555" stroke-width="0.8"/>
<line x1="166.6" y1="550.4" x2="165.1" y2="557.3" stroke="#555" stroke-width="0.8"/>
<line x1="166.6" y1="550.4" x2="171.2" y2="554.2" stroke="#555" stroke-width="0.8"/>
<circle cx="168.0" cy="543.7" r="2.6" fill="url(#pkg)"/>
<circle cx="160.3" cy="550.6" r="2.6" fill="url(#pkg)"/>
<circle cx="165.1" cy="557.3" r="2.6" fill="url(#pkg)"/>
<circle cx="171.2" cy="554.2" r="2.6" fill="url(#pkg)"/>
<circle cx="166.6" cy="550.4" r="2" fill="#0a0a0a"/>
<line x1="296.1" y1="571.6" x2="291.5" y2="567.8" stroke="#555" stroke-width="0.8"/>
<line x1="296.1" y1="571.6" x2="298.6" y2="566.6" stroke="#555" stroke-width="0.8"/>
<line x1="296.1" y1="571.6" x2="292.0" y2="574.8" stroke="#555" stroke-width="0.8"/>
<line x1="296.1" y1="571.6" x2="301.6" y2="576.6" stroke="#555" stroke-width="0.8"/>
<circle cx="291.5" cy="567.8" r="2.6" fill="url(#pkg)"/>
<circle cx="298.6" cy="566.6" r="2.6" fill="url(#pkg)"/>
<circle cx="292.0" cy="574.8" r="2.6" fill="url(#pkg)"/>
<circle cx="301.6" cy="576.6" r="2.6" fill="url(#pkg)"/>
<circle cx="296.1" cy="571.6" r="2" fill="#0a0a0a"/>
<path d="M120.6 403.7L128.5 403.7L136.9 396.8M120.6 403.7L122.3 416.2M136.9 396.8L141.9 406.0" stroke="#e8202a" stroke-width="1.1" fill="none"/>
<circle cx="128.5" cy="403.7" r="1.7" fill="#e60f19"/>
<circle cx="122.3" cy="416.2" r="1.7" fill="#e60f19"/>
<circle cx="141.9" cy="406.0" r="1.7" fill="#e60f19"/>
<circle cx="120.6" cy="403.7" r="5.8" fill="url(#gdg)"/>
<circle cx="136.9" cy="396.8" r="5.8" fill="url(#gdg)"/>
<path d="M150.3 446.5L142.1 448.6L136.9 457.0M150.3 446.5L143.6 435.0M136.9 457.0L128.5 450.7" stroke="#e8202a" stroke-width="1.1" fill="none"/>
<circle cx="142.1" cy="448.6" r="1.7" fill="#e60f19"/>
<circle cx="143.6" cy="435.0" r="1.7" fill="#e60f19"/>
<circle cx="128.5" cy="450.7" r="1.7" fill="#e60f19"/>
<circle cx="150.3" cy="446.5" r="5.8" fill="url(#gdg)"/>
<circle cx="136.9" cy="457.0" r="5.8" fill="url(#gdg)"/>
<path d="M162.4 455.3L170.1 458.0L178.1 451.7M162.4 455.3L163.4 469.5M178.1 451.7L182.7 462.2" stroke="#e8202a" stroke-width="1.1" fill="none"/>
<circle cx="170.1" cy="458.0" r="1.7" fill="#e60f19"/>
<circle cx="163.4" cy="469.5" r="1.7" fill="#e60f19"/>
<circle cx="182.7" cy="462.2" r="1.7" fill="#e60f19"/>
<circle cx="162.4" cy="455.3" r="5.8" fill="url(#gdg)"/>
<circle cx="178.1" cy="451.7" r="5.8" fill="url(#gdg)"/>
<path d="M184.3 418.7L190.6 424.1L201.5 423.5M184.3 418.7L178.1 430.8M201.5 423.5L200.0 432.9" stroke="#e8202a" stroke-width="1.1" fill="none"/>
<circle cx="190.6" cy="424.1" r="1.7" fill="#e60f19"/>
<circle cx="178.1" cy="430.8" r="1.7" fill="#e60f19"/>
<circle cx="200.0" cy="432.9" r="1.7" fill="#e60f19"/>
<circle cx="184.3" cy="418.7" r="5.8" fill="url(#gdg)"/>
<circle cx="201.5" cy="423.5" r="5.8" fill="url(#gdg)"/>
<path d="M213.6 416.2L222.0 416.8L228.2 409.5M213.6 416.2L218.4 430.2M228.2 409.5L235.5 418.9" stroke="#e8202a" stroke-width="1.1" fill="none"/>
<circle cx="222.0" cy="416.8" r="1.7" fill="#e60f19"/>
<circle cx="218.4" cy="430.2" r="1.7" fill="#e60f19"/>
<circle cx="235.5" cy="418.9" r="1.7" fill="#e60f19"/>
<circle cx="213.6" cy="416.2" r="5.8" fill="url(#gdg)"/>
<circle cx="228.2" cy="409.5" r="5.8" fill="url(#gdg)"/>
<path d="M192.3 445.5L202.1 442.7L208.8 447.5M192.3 445.5L192.3 434.0M208.8 447.5L213.2 434.0" stroke="#e8202a" stroke-width="1.1" fill="none"/>
<circle cx="202.1" cy="442.7" r="1.7" fill="#e60f19"/>
<circle cx="192.3" cy="434.0" r="1.7" fill="#e60f19"/>
<circle cx="213.2" cy="434.0" r="1.7" fill="#e60f19"/>
<circle cx="192.3" cy="445.5" r="5.8" fill="url(#gdg)"/>
<circle cx="208.8" cy="447.5" r="5.8" fill="url(#gdg)"/>
<path d="M237.2 439.2L233.5 446.5L239.7 454.4M237.2 439.2L222.0 439.2M239.7 454.4L228.2 458.0" stroke="#e8202a" stroke-width="1.1" fill="none"/>
<circle cx="233.5" cy="446.5" r="1.7" fill="#e60f19"/>
<circle cx="222.0" cy="439.2" r="1.7" fill="#e60f19"/>
<circle cx="228.2" cy="458.0" r="1.7" fill="#e60f19"/>
<circle cx="237.2" cy="439.2" r="5.8" fill="url(#gdg)"/>
<circle cx="239.7" cy="454.4" r="5.8" fill="url(#gdg)"/>
<path d="M197.9 467.4L207.3 464.9L214.2 469.5M197.9 467.4L197.9 456.3M214.2 469.5L218.2 456.3" stroke="#e8202a" stroke-width="1.1" fill="none"/>
<circle cx="207.3" cy="464.9" r="1.7" fill="#e60f19"/>
<circle cx="197.9" cy="456.3" r="1.7" fill="#e60f19"/>
<circle cx="218.2" cy="456.3" r="1.7" fill="#e60f19"/>
<circle cx="197.9" cy="467.4" r="5.8" fill="url(#gdg)"/>
<circle cx="214.2" cy="469.5" r="5.8" fill="url(#gdg)"/>
<path d="M154.0 492.1L156.1 483.1L163.9 481.7M154.0 492.1L143.6 486.7M163.9 481.7L154.0 469.6" stroke="#e8202a" stroke-width="1.1" fill="none"/>
<circle cx="156.1" cy="483.1" r="1.7" fill="#e60f19"/>
<circle cx="143.6" cy="486.7" r="1.7" fill="#e60f19"/>
<circle cx="154.0" cy="469.6" r="1.7" fill="#e60f19"/>
<circle cx="154.0" cy="492.1" r="5.8" fill="url(#gdg)"/>
<circle cx="163.9" cy="481.7" r="5.8" fill="url(#gdg)"/>
<path d="M312.6 434.0L322.4 431.5L329.1 436.1M312.6 434.0L312.6 422.1M329.1 436.1L333.5 422.1" stroke="#e8202a" stroke-width="1.1" fill="none"/>
<circle cx="322.4" cy="431.5" r="1.7" fill="#e60f19"/>
<circle cx="312.6" cy="422.1" r="1.7" fill="#e60f19"/>
<circle cx="333.5" cy="422.1" r="1.7" fill="#e60f19"/>
<circle cx="312.6" cy="434.0" r="5.8" fill="url(#gdg)"/>
<circle cx="329.1" cy="436.1" r="5.8" fill="url(#gdg)"/>
<path d="M87.6 559.8L94.5 567.4L93.9 575.1M87.6 559.8L97.2 554.8M93.9 575.1L107.6 573.6" stroke="#e8202a" stroke-width="1.1" fill="none"/>
<circle cx="94.5" cy="567.4" r="1.7" fill="#e60f19"/>
<circle cx="97.2" cy="554.8" r="1.7" fill="#e60f19"/>
<circle cx="107.6" cy="573.6" r="1.7" fill="#e60f19"/>
<circle cx="87.6" cy="559.8" r="5.8" fill="url(#gdg)"/>
<circle cx="93.9" cy="575.1" r="5.8" fill="url(#gdg)"/>
<g clip-path="url(#cl2)">
<path d="M531.3 375.0L528.1 372.9M531.3 375.0L533.6 371.8M532.8 382.8L534.0 386.5M532.8 382.8L529.1 383.9M539.7 379.7L536.0 378.6M539.7 379.7L541.0 376.0M548.5 380.0L549.2 376.2M548.5 380.0L552.3 380.9M547.8 386.4L544.8 388.9M547.8 386.4L545.3 383.4M551.6 393.2L552.2 397.1M551.6 393.2L547.7 393.7M558.9 395.3L558.7 391.4M558.9 395.3L562.8 395.2M560.4 403.7L560.7 407.5M560.4 403.7L556.5 403.9M567.3 405.8L569.5 409.0M567.3 405.8L564.0 407.9M575.2 402.6L579.1 402.2M575.2 402.6L575.5 406.5M577.7 394.9L573.8 395.0M577.7 394.9L577.7 391.0M584.4 391.1L581.5 388.5M584.4 391.1L587.1 388.3M591.3 395.9L594.0 398.8M591.3 395.9L588.4 398.5M598.6 391.8L595.8 389.0M598.6 391.8L601.4 389.0M605.9 396.8L609.2 398.9M605.9 396.8L603.7 400.0M611.0 390.6L607.1 390.6M611.0 390.6L611.1 386.7M618.5 386.9L621.9 385.2M618.5 386.9L620.1 390.5M616.4 380.0L613.0 382.1M616.4 380.0L614.5 376.6M621.1 375.0L617.2 374.6M621.1 375.0L621.5 371.1M628.3 372.9L625.5 370.3M628.3 372.9L631.1 370.2M635.6 377.5L638.5 380.1M635.6 377.5L632.9 380.4M642.5 373.8L639.2 371.6M642.5 373.8L644.7 370.6M650.8 377.3L650.9 373.4M650.8 377.3L654.7 377.5M655.8 383.8L656.9 387.6M655.8 383.8L652.0 384.8M663.7 385.0L661.9 381.5M663.7 385.0L667.2 383.3M670.4 390.1L672.4 393.4M670.4 390.1L667.0 392.0M678.3 390.5L677.9 386.6M678.3 390.5L682.2 390.1M682.4 395.7L682.0 399.6M682.4 395.7L678.5 395.2M688.9 398.9L690.3 402.5M688.9 398.9L685.2 400.2M697.1 398.6L695.8 394.9M697.1 398.6L700.8 397.4M701.8 405.3L702.9 409.1M701.8 405.3L698.0 406.4M710.5 404.7L709.1 401.1M710.5 404.7L714.1 403.4M716.4 409.9L719.5 407.6M716.4 409.9L718.6 413.1M715.8 414.1L718.1 417.2M715.8 414.1L712.6 416.4M716.4 409.9L717.4 413.7M716.4 409.9L712.6 410.8M718.9 405.8L717.9 402.0M718.9 405.8L722.7 404.9M651.0 379.2L648.2 376.5M651.0 379.2L653.8 376.5M651.0 389.0L653.8 391.8M651.0 389.0L648.2 391.8M670.4 390.1L666.8 388.7M670.4 390.1L671.9 386.5M673.3 396.8L677.0 398.1M673.3 396.8L671.9 400.4M532.8 382.8L532.9 378.9M532.8 382.8L536.7 383.0M529.1 386.2L533.0 385.8M529.1 386.2L529.4 390.1M520.8 385.7L517.0 384.8M520.8 385.7L521.9 382.0M515.8 391.0L519.5 392.0M515.8 391.0L514.7 394.8M507.2 390.2L503.7 388.6M507.2 390.2L508.9 386.6M501.3 395.9L504.7 397.8M501.3 395.9L499.4 399.3M493.7 395.9L489.9 396.9M493.7 395.9L492.9 392.1M495.2 401.6L498.1 399.0M495.2 401.6L497.7 404.6M491.0 406.8L489.0 410.2M491.0 406.8L487.7 404.7M495.2 409.9L497.3 406.7M495.2 409.9L498.4 412.2M490.9 414.7L487.2 415.6M490.9 414.7L490.1 410.9M491.5 422.5L495.0 420.6M491.5 422.5L493.3 426.0M484.9 427.9L481.7 430.2M484.9 427.9L482.7 424.7M486.7 434.8L489.5 432.1M486.7 434.8L489.2 437.7M479.5 441.2L477.0 444.3M479.5 441.2L476.5 438.7M479.5 446.9L478.4 450.7M479.5 446.9L475.8 445.7M486.6 449.0L486.3 445.1M486.6 449.0L490.5 448.8M490.7 454.4L491.0 458.3M490.7 454.4L486.8 454.6M497.7 456.3L497.0 452.5M497.7 456.3L501.5 455.7M501.7 462.4L501.8 466.3M501.7 462.4L497.8 462.4M509.7 464.5L509.5 460.6M509.7 464.5L513.6 464.4M512.7 472.0L513.3 475.9M512.7 472.0L508.8 472.5M520.6 473.0L519.5 469.2M520.6 473.0L524.3 472.1M524.1 481.3L525.3 485.0M524.1 481.3L520.4 482.4M530.7 483.7L531.7 479.9M530.7 483.7L534.4 484.9M531.3 489.4L532.5 485.7M531.3 489.4L535.0 490.7M528.6 496.7L526.6 500.1M528.6 496.7L525.3 494.6M531.9 502.6L532.1 506.5M531.9 502.6L528.0 502.6M538.0 505.5L540.2 508.7M538.0 505.5L534.7 507.6M545.3 501.9L542.5 499.2M545.3 501.9L548.1 499.2M552.6 507.2L555.6 509.7M552.6 507.2L550.0 510.1M559.5 505.8L563.0 507.6M559.5 505.8L557.7 509.2M565.2 500.5L568.4 498.3M565.2 500.5L567.3 503.8M563.1 493.6L559.8 495.7M563.1 493.6L561.0 490.3M570.4 488.8L573.9 487.0M570.4 488.8L572.0 492.3M573.5 482.5L570.1 480.7M573.5 482.5L575.5 479.1M579.0 484.2L576.5 481.2M579.0 484.2L582.0 481.7M584.0 490.4L586.4 493.5M584.0 490.4L580.8 492.8M590.3 487.3L587.1 485.0M590.3 487.3L592.7 484.3M597.6 492.5L600.4 495.3M597.6 492.5L594.8 495.3M604.9 489.4L608.8 489.1M604.9 489.4L605.0 493.3M608.0 482.5L604.1 482.5M608.0 482.5L608.2 478.6M615.3 480.0L612.5 477.3M615.3 480.0L618.1 477.3M622.6 482.5L623.0 478.6M622.6 482.5L626.5 483.0M623.7 490.0L623.3 493.9M623.7 490.0L619.8 489.5M631.0 492.5L631.5 488.7M631.0 492.5L634.9 493.2M630.0 501.2L629.6 505.1M630.0 501.2L626.2 500.6M633.1 506.8L634.1 510.5M633.1 506.8L629.3 507.7M640.4 505.1L642.4 501.7M640.4 505.1L643.7 507.2M530.7 483.7L531.4 487.5M530.7 483.7L526.8 484.3M534.9 477.9L534.2 474.0M534.9 477.9L538.7 477.3M491.0 406.8L488.9 410.1M491.0 406.8L487.8 404.6M496.2 405.8L494.3 402.4M496.2 405.8L499.6 403.9M499.3 412.0L502.4 409.6M499.3 412.0L501.6 415.2M495.2 417.2L495.6 421.1M495.2 417.2L491.3 417.6M633.1 506.8L635.0 503.3M633.1 506.8L636.5 508.7M627.9 508.2L626.0 511.6M627.9 508.2L624.5 506.3M497.7 456.3L496.7 452.5M497.7 456.3L501.5 455.5M494.0 462.2L497.9 462.6M494.0 462.2L493.5 466.1M487.8 464.9L484.9 467.5M487.8 464.9L485.3 461.9M493.7 468.4L495.5 465.0M493.7 468.4L497.1 470.4M489.9 474.8L493.6 473.6M489.9 474.8L490.9 478.5M482.0 478.9L478.7 481.0M482.0 478.9L480.0 475.6M483.7 485.2L486.9 483.0M483.7 485.2L485.7 488.5M475.7 489.4L472.3 491.3M475.7 489.4L474.0 485.9M476.4 496.3L474.3 499.6M476.4 496.3L473.1 494.2M482.6 501.9L484.5 505.4M482.6 501.9L479.1 503.7M491.0 500.9L488.9 497.6M491.0 500.9L494.3 498.9M497.9 506.1L499.7 502.7M497.9 506.1L501.3 508.0M496.2 513.9L495.0 517.6M496.2 513.9L492.5 512.6M502.5 517.6L504.2 514.1M502.5 517.6L505.9 519.5M498.9 524.5L497.0 528.0M498.9 524.5L495.5 522.6M500.0 530.2L499.7 534.0M500.0 530.2L496.1 529.8M507.7 530.2L505.6 526.9M507.7 530.2L511.0 528.1M514.6 533.9L517.6 536.4M514.6 533.9L512.0 536.8M520.9 528.5L517.6 526.4M520.9 528.5L523.1 525.3M528.6 530.5L528.2 526.6M528.6 530.5L532.5 530.2M533.4 536.0L534.8 532.4M533.4 536.0L537.0 537.5M531.7 544.4L530.5 548.1M531.7 544.4L528.1 543.0M538.0 549.0L539.0 545.2M538.0 549.0L541.7 550.1M535.5 558.4L539.4 558.0M535.5 558.4L535.8 562.3M526.2 562.2L522.7 563.8M526.2 562.2L524.7 558.6M521.7 567.8L519.2 570.8M521.7 567.8L518.7 565.2M528.3 572.4L530.5 575.6M528.3 572.4L525.0 574.5M535.8 572.4L533.7 569.0M535.8 572.4L539.2 570.5M541.7 578.2L543.8 581.5M541.7 578.2L538.3 580.2M549.1 577.5L546.9 574.3M549.1 577.5L552.4 575.4M555.1 584.2L557.4 587.3M555.1 584.2L551.9 586.4M562.0 584.5L565.9 585.0M562.0 584.5L561.4 588.3M563.1 576.8L559.2 576.9M563.1 576.8L563.2 572.9M566.7 571.5L563.6 573.8M566.7 571.5L564.5 568.2M573.5 566.7L571.2 563.6M573.5 566.7L576.7 564.5M578.7 571.3L577.8 567.5M578.7 571.3L582.6 570.5M581.5 579.9L583.1 583.4M581.5 579.9L577.9 581.4M588.2 578.2L585.8 575.1M588.2 578.2L591.3 575.9M593.4 586.6L595.5 589.9M593.4 586.6L590.0 588.6M600.7 586.2L604.0 588.3M600.7 586.2L598.5 589.4M607.0 580.7L610.7 579.4M607.0 580.7L608.1 584.4M606.6 572.0L602.7 572.7M606.6 572.0L605.9 568.1M612.2 567.4L608.6 565.9M612.2 567.4L613.8 563.8M620.6 569.4L624.2 570.8M620.6 569.4L619.1 573.1M625.4 563.6L621.6 562.4M625.4 563.6L626.6 559.9M634.1 565.7L637.7 567.2M634.1 565.7L632.5 569.2M640.3 560.9L644.2 560.7M640.3 560.9L640.4 564.8M643.1 553.1L644.9 549.7M643.1 553.1L646.5 555.1M637.3 547.9L635.3 551.3M637.3 547.9L633.9 545.9M640.8 540.2L637.0 539.6M640.8 540.2L641.6 536.4M647.1 536.4L643.7 534.4M647.1 536.4L649.2 533.1M655.0 539.6L658.3 541.7M655.0 539.6L652.8 542.8M661.0 532.7L657.3 531.3M661.0 532.7L662.5 529.1M671.0 535.7L671.2 531.8M671.0 535.7L674.9 536.1M672.6 545.9L673.5 549.7M672.6 545.9L668.8 546.6M677.3 551.5L678.9 555.0M677.3 551.5L673.7 553.1M683.0 554.0L685.3 550.8M683.0 554.0L686.1 556.4M677.1 558.3L673.2 558.9M677.1 558.3L676.6 554.5M676.2 566.5L680.0 565.5M676.2 566.5L677.1 570.3M669.8 571.3L666.4 573.2M669.8 571.3L668.0 567.9M669.2 577.8L672.1 575.2M669.2 577.8L671.8 580.8M663.7 584.1L661.0 586.9M663.7 584.1L661.0 581.3M663.0 590.4L661.7 594.1M663.0 590.4L659.3 589.0M669.1 593.4L671.8 596.3M669.1 593.4L666.2 596.0M675.5 592.9L679.4 593.5M675.5 592.9L674.8 596.7M677.3 585.9L673.4 585.1M677.3 585.9L678.1 582.1M683.6 585.9L680.0 584.5M683.6 585.9L685.2 582.4M691.8 590.4L695.3 592.1M691.8 590.4L690.0 593.8M696.8 585.4L693.1 584.2M696.8 585.4L698.1 581.7M705.6 587.9L709.4 588.8M705.6 587.9L704.6 591.6M710.6 584.1L714.5 584.3M710.6 584.1L710.3 588.0M712.4 576.6L714.6 573.4M712.4 576.6L715.5 578.9M706.3 570.3L704.0 573.4M706.3 570.3L703.3 567.8M706.8 563.3L703.3 564.9M706.8 563.3L705.3 559.7M714.4 559.0L718.1 558.0M714.4 559.0L715.3 562.8M716.4 551.5L712.5 551.6M716.4 551.5L716.3 547.6M724.4 549.7L728.3 549.6M724.4 549.7L724.4 553.6M726.9 542.7L730.3 540.8M726.9 542.7L728.8 546.2M723.1 533.9L722.3 530.1M723.1 533.9L727.0 533.2M714.4 532.7L713.4 536.5M714.4 532.7L710.6 531.6M716.5 525.2L719.3 522.4M716.5 525.2L719.3 528.0M714.4 517.6L710.7 519.1M714.4 517.6L713.1 514.0M723.1 515.1L726.9 514.2M723.1 515.1L724.0 519.0M723.9 507.6L720.3 509.1M723.9 507.6L722.5 504.0M733.2 503.9L736.5 501.8M733.2 503.9L735.2 507.2M731.9 497.6L728.8 499.9M731.9 497.6L729.7 494.4M738.2 492.6L741.2 490.1M738.2 492.6L740.5 495.7M734.4 486.3L736.1 482.8M734.4 486.3L737.9 488.1M726.9 481.3L726.0 485.1M726.9 481.3L723.1 480.3M725.7 472.5L725.2 468.6M725.7 472.5L729.5 472.1M716.4 473.8L718.0 477.3M716.4 473.8L712.8 475.2M708.1 472.5L704.2 472.1M708.1 472.5L708.6 468.6M706.8 480.0L710.7 480.3M706.8 480.0L706.5 483.9M698.0 478.5L694.4 476.9M698.0 478.5L699.7 475.0M690.5 481.3L691.6 485.1M690.5 481.3L686.7 482.2M689.3 473.8L689.9 469.9M689.3 473.8L693.1 474.5M679.3 472.5L679.4 476.4M679.3 472.5L675.4 472.5M677.1 463.2L676.4 459.4M677.1 463.2L681.0 462.6M669.2 462.2L666.0 459.9M669.2 462.2L671.6 459.1M662.1 467.4L665.2 469.7M662.1 467.4L659.6 470.5M654.1 466.4L654.8 470.2M654.1 466.4L650.3 466.9M649.5 460.7L647.6 464.1M649.5 460.7L646.2 458.7M653.7 452.8L655.6 449.4M653.7 452.8L657.1 454.8M647.8 447.5L645.6 450.7M647.8 447.5L644.7 445.2M653.5 440.5L655.8 437.4M653.5 440.5L656.5 443.0M654.1 434.0L655.0 430.2M654.1 434.0L657.9 435.0M647.4 431.9L646.5 435.7M647.4 431.9L643.7 430.8M647.8 425.6L649.5 422.1M647.8 425.6L651.3 427.4M643.3 421.0L640.3 423.6M643.3 421.0L640.8 418.0M649.4 417.2L653.3 417.4M649.4 417.2L649.1 421.1M651.3 408.6L647.4 408.5M651.3 408.6L651.5 404.7M659.0 406.1L662.9 405.7M659.0 406.1L659.4 410.0M659.7 398.1L656.1 399.6M659.7 398.1L658.3 394.5M665.6 392.2L663.7 388.8M665.6 392.2L669.1 390.4M670.4 390.1L671.8 386.4M670.4 390.1L674.0 391.5M733.2 503.9L729.4 504.7M733.2 503.9L732.4 500.0M742.0 509.6L745.8 508.8M742.0 509.6L742.7 513.5M526.5 562.5L527.5 558.8M526.5 562.5L530.3 563.6M519.2 566.7L515.7 568.5M519.2 566.7L517.5 563.2M518.2 573.0L517.2 576.8M518.2 573.0L514.4 571.9M525.5 574.5L528.7 572.3M525.5 574.5L527.6 577.7M487.8 464.9L484.2 463.6M487.8 464.9L489.3 461.3M489.9 469.5L492.8 466.9M489.9 469.5L492.5 472.4M484.7 473.7L484.3 477.6M484.7 473.7L480.8 473.2M647.8 425.6L644.3 427.2M647.8 425.6L646.4 422.0M653.1 427.7L653.0 423.8M653.1 427.7L657.0 427.8M655.2 432.9L658.8 434.4M655.2 432.9L653.6 436.5M560.4 403.7L561.0 399.8M560.4 403.7L564.2 404.4M553.1 408.9L549.8 411.0M553.1 408.9L551.0 405.6M553.1 415.8L556.9 415.0M553.1 415.8L553.7 419.6M548.4 419.5L552.3 419.9M548.4 419.5L547.9 423.4M539.5 417.9L535.8 416.9M539.5 417.9L540.6 414.2M534.7 423.5L538.4 424.5M534.7 423.5L533.5 427.2M526.1 422.1L522.5 420.5M526.1 422.1L527.8 418.5M519.9 427.4L523.3 429.4M519.9 427.4L517.8 430.7M512.5 427.3L508.7 428.1M512.5 427.3L511.8 423.5M514.0 432.9L517.4 434.8M514.0 432.9L511.9 436.3M512.5 427.3L512.6 423.4M512.5 427.3L516.4 427.4M508.7 430.8L508.7 434.7M508.7 430.8L504.9 430.7" stroke="#484848" stroke-width="0.75" fill="none"/>
<g fill="#5a5a5a"><circle cx="528.1" cy="372.9" r="0.8"/><circle cx="533.6" cy="371.8" r="0.8"/><circle cx="534.0" cy="386.5" r="0.8"/><circle cx="529.1" cy="383.9" r="0.8"/><circle cx="536.0" cy="378.6" r="0.8"/><circle cx="541.0" cy="376.0" r="0.8"/><circle cx="549.2" cy="376.2" r="0.8"/><circle cx="552.3" cy="380.9" r="0.8"/><circle cx="544.8" cy="388.9" r="0.8"/><circle cx="545.3" cy="383.4" r="0.8"/><circle cx="552.2" cy="397.1" r="0.8"/><circle cx="547.7" cy="393.7" r="0.8"/><circle cx="558.7" cy="391.4" r="0.8"/><circle cx="562.8" cy="395.2" r="0.8"/><circle cx="560.7" cy="407.5" r="0.8"/><circle cx="556.5" cy="403.9" r="0.8"/><circle cx="569.5" cy="409.0" r="0.8"/><circle cx="564.0" cy="407.9" r="0.8"/><circle cx="579.1" cy="402.2" r="0.8"/><circle cx="575.5" cy="406.5" r="0.8"/><circle cx="573.8" cy="395.0" r="0.8"/><circle cx="577.7" cy="391.0" r="0.8"/><circle cx="581.5" cy="388.5" r="0.8"/><circle cx="587.1" cy="388.3" r="0.8"/><circle cx="594.0" cy="398.8" r="0.8"/><circle cx="588.4" cy="398.5" r="0.8"/><circle cx="595.8" cy="389.0" r="0.8"/><circle cx="601.4" cy="389.0" r="0.8"/><circle cx="609.2" cy="398.9" r="0.8"/><circle cx="603.7" cy="400.0" r="0.8"/><circle cx="607.1" cy="390.6" r="0.8"/><circle cx="611.1" cy="386.7" r="0.8"/><circle cx="621.9" cy="385.2" r="0.8"/><circle cx="620.1" cy="390.5" r="0.8"/><circle cx="613.0" cy="382.1" r="0.8"/><circle cx="614.5" cy="376.6" r="0.8"/><circle cx="617.2" cy="374.6" r="0.8"/><circle cx="621.5" cy="371.1" r="0.8"/><circle cx="625.5" cy="370.3" r="0.8"/><circle cx="631.1" cy="370.2" r="0.8"/><circle cx="638.5" cy="380.1" r="0.8"/><circle cx="632.9" cy="380.4" r="0.8"/><circle cx="639.2" cy="371.6" r="0.8"/><circle cx="644.7" cy="370.6" r="0.8"/><circle cx="650.9" cy="373.4" r="0.8"/><circle cx="654.7" cy="377.5" r="0.8"/><circle cx="656.9" cy="387.6" r="0.8"/><circle cx="652.0" cy="384.8" r="0.8"/><circle cx="661.9" cy="381.5" r="0.8"/><circle cx="667.2" cy="383.3" r="0.8"/><circle cx="672.4" cy="393.4" r="0.8"/><circle cx="667.0" cy="392.0" r="0.8"/><circle cx="677.9" cy="386.6" r="0.8"/><circle cx="682.2" cy="390.1" r="0.8"/><circle cx="682.0" cy="399.6" r="0.8"/><circle cx="678.5" cy="395.2" r="0.8"/><circle cx="690.3" cy="402.5" r="0.8"/><circle cx="685.2" cy="400.2" r="0.8"/><circle cx="695.8" cy="394.9" r="0.8"/><circle cx="700.8" cy="397.4" r="0.8"/><circle cx="702.9" cy="409.1" r="0.8"/><circle cx="698.0" cy="406.4" r="0.8"/><circle cx="709.1" cy="401.1" r="0.8"/><circle cx="714.1" cy="403.4" r="0.8"/><circle cx="719.5" cy="407.6" r="0.8"/><circle cx="718.6" cy="413.1" r="0.8"/><circle cx="718.1" cy="417.2" r="0.8"/><circle cx="712.6" cy="416.4" r="0.8"/><circle cx="717.4" cy="413.7" r="0.8"/><circle cx="712.6" cy="410.8" r="0.8"/><circle cx="717.9" cy="402.0" r="0.8"/><circle cx="722.7" cy="404.9" r="0.8"/><circle cx="648.2" cy="376.5" r="0.8"/><circle cx="653.8" cy="376.5" r="0.8"/><circle cx="653.8" cy="391.8" r="0.8"/><circle cx="648.2" cy="391.8" r="0.8"/><circle cx="666.8" cy="388.7" r="0.8"/><circle cx="671.9" cy="386.5" r="0.8"/><circle cx="677.0" cy="398.1" r="0.8"/><circle cx="671.9" cy="400.4" r="0.8"/><circle cx="532.9" cy="378.9" r="0.8"/><circle cx="536.7" cy="383.0" r="0.8"/><circle cx="533.0" cy="385.8" r="0.8"/><circle cx="529.4" cy="390.1" r="0.8"/><circle cx="517.0" cy="384.8" r="0.8"/><circle cx="521.9" cy="382.0" r="0.8"/><circle cx="519.5" cy="392.0" r="0.8"/><circle cx="514.7" cy="394.8" r="0.8"/><circle cx="503.7" cy="388.6" r="0.8"/><circle cx="508.9" cy="386.6" r="0.8"/><circle cx="504.7" cy="397.8" r="0.8"/><circle cx="499.4" cy="399.3" r="0.8"/><circle cx="489.9" cy="396.9" r="0.8"/><circle cx="492.9" cy="392.1" r="0.8"/><circle cx="498.1" cy="399.0" r="0.8"/><circle cx="497.7" cy="404.6" r="0.8"/><circle cx="489.0" cy="410.2" r="0.8"/><circle cx="487.7" cy="404.7" r="0.8"/><circle cx="497.3" cy="406.7" r="0.8"/><circle cx="498.4" cy="412.2" r="0.8"/><circle cx="487.2" cy="415.6" r="0.8"/><circle cx="490.1" cy="410.9" r="0.8"/><circle cx="495.0" cy="420.6" r="0.8"/><circle cx="493.3" cy="426.0" r="0.8"/><circle cx="481.7" cy="430.2" r="0.8"/><circle cx="482.7" cy="424.7" r="0.8"/><circle cx="489.5" cy="432.1" r="0.8"/><circle cx="489.2" cy="437.7" r="0.8"/><circle cx="477.0" cy="444.3" r="0.8"/><circle cx="476.5" cy="438.7" r="0.8"/><circle cx="478.4" cy="450.7" r="0.8"/><circle cx="475.8" cy="445.7" r="0.8"/><circle cx="486.3" cy="445.1" r="0.8"/><circle cx="490.5" cy="448.8" r="0.8"/><circle cx="491.0" cy="458.3" r="0.8"/><circle cx="486.8" cy="454.6" r="0.8"/><circle cx="497.0" cy="452.5" r="0.8"/><circle cx="501.5" cy="455.7" r="0.8"/><circle cx="501.8" cy="466.3" r="0.8"/><circle cx="497.8" cy="462.4" r="0.8"/><circle cx="509.5" cy="460.6" r="0.8"/><circle cx="513.6" cy="464.4" r="0.8"/><circle cx="513.3" cy="475.9" r="0.8"/><circle cx="508.8" cy="472.5" r="0.8"/><circle cx="519.5" cy="469.2" r="0.8"/><circle cx="524.3" cy="472.1" r="0.8"/><circle cx="525.3" cy="485.0" r="0.8"/><circle cx="520.4" cy="482.4" r="0.8"/><circle cx="531.7" cy="479.9" r="0.8"/><circle cx="534.4" cy="484.9" r="0.8"/><circle cx="532.5" cy="485.7" r="0.8"/><circle cx="535.0" cy="490.7" r="0.8"/><circle cx="526.6" cy="500.1" r="0.8"/><circle cx="525.3" cy="494.6" r="0.8"/><circle cx="532.1" cy="506.5" r="0.8"/><circle cx="528.0" cy="502.6" r="0.8"/><circle cx="540.2" cy="508.7" r="0.8"/><circle cx="534.7" cy="507.6" r="0.8"/><circle cx="542.5" cy="499.2" r="0.8"/><circle cx="548.1" cy="499.2" r="0.8"/><circle cx="555.6" cy="509.7" r="0.8"/><circle cx="550.0" cy="510.1" r="0.8"/><circle cx="563.0" cy="507.6" r="0.8"/><circle cx="557.7" cy="509.2" r="0.8"/><circle cx="568.4" cy="498.3" r="0.8"/><circle cx="567.3" cy="503.8" r="0.8"/><circle cx="559.8" cy="495.7" r="0.8"/><circle cx="561.0" cy="490.3" r="0.8"/><circle cx="573.9" cy="487.0" r="0.8"/><circle cx="572.0" cy="492.3" r="0.8"/><circle cx="570.1" cy="480.7" r="0.8"/><circle cx="575.5" cy="479.1" r="0.8"/><circle cx="576.5" cy="481.2" r="0.8"/><circle cx="582.0" cy="481.7" r="0.8"/><circle cx="586.4" cy="493.5" r="0.8"/><circle cx="580.8" cy="492.8" r="0.8"/><circle cx="587.1" cy="485.0" r="0.8"/><circle cx="592.7" cy="484.3" r="0.8"/><circle cx="600.4" cy="495.3" r="0.8"/><circle cx="594.8" cy="495.3" r="0.8"/><circle cx="608.8" cy="489.1" r="0.8"/><circle cx="605.0" cy="493.3" r="0.8"/><circle cx="604.1" cy="482.5" r="0.8"/><circle cx="608.2" cy="478.6" r="0.8"/><circle cx="612.5" cy="477.3" r="0.8"/><circle cx="618.1" cy="477.3" r="0.8"/><circle cx="623.0" cy="478.6" r="0.8"/><circle cx="626.5" cy="483.0" r="0.8"/><circle cx="623.3" cy="493.9" r="0.8"/><circle cx="619.8" cy="489.5" r="0.8"/><circle cx="631.5" cy="488.7" r="0.8"/><circle cx="634.9" cy="493.2" r="0.8"/><circle cx="629.6" cy="505.1" r="0.8"/><circle cx="626.2" cy="500.6" r="0.8"/><circle cx="634.1" cy="510.5" r="0.8"/><circle cx="629.3" cy="507.7" r="0.8"/><circle cx="642.4" cy="501.7" r="0.8"/><circle cx="643.7" cy="507.2" r="0.8"/><circle cx="531.4" cy="487.5" r="0.8"/><circle cx="526.8" cy="484.3" r="0.8"/><circle cx="534.2" cy="474.0" r="0.8"/><circle cx="538.7" cy="477.3" r="0.8"/><circle cx="488.9" cy="410.1" r="0.8"/><circle cx="487.8" cy="404.6" r="0.8"/><circle cx="494.3" cy="402.4" r="0.8"/><circle cx="499.6" cy="403.9" r="0.8"/><circle cx="502.4" cy="409.6" r="0.8"/><circle cx="501.6" cy="415.2" r="0.8"/><circle cx="495.6" cy="421.1" r="0.8"/><circle cx="491.3" cy="417.6" r="0.8"/><circle cx="635.0" cy="503.3" r="0.8"/><circle cx="636.5" cy="508.7" r="0.8"/><circle cx="626.0" cy="511.6" r="0.8"/><circle cx="624.5" cy="506.3" r="0.8"/><circle cx="496.7" cy="452.5" r="0.8"/><circle cx="501.5" cy="455.5" r="0.8"/><circle cx="497.9" cy="462.6" r="0.8"/><circle cx="493.5" cy="466.1" r="0.8"/><circle cx="484.9" cy="467.5" r="0.8"/><circle cx="485.3" cy="461.9" r="0.8"/><circle cx="495.5" cy="465.0" r="0.8"/><circle cx="497.1" cy="470.4" r="0.8"/><circle cx="493.6" cy="473.6" r="0.8"/><circle cx="490.9" cy="478.5" r="0.8"/><circle cx="478.7" cy="481.0" r="0.8"/><circle cx="480.0" cy="475.6" r="0.8"/><circle cx="486.9" cy="483.0" r="0.8"/><circle cx="485.7" cy="488.5" r="0.8"/><circle cx="472.3" cy="491.3" r="0.8"/><circle cx="474.0" cy="485.9" r="0.8"/><circle cx="474.3" cy="499.6" r="0.8"/><circle cx="473.1" cy="494.2" r="0.8"/><circle cx="484.5" cy="505.4" r="0.8"/><circle cx="479.1" cy="503.7" r="0.8"/><circle cx="488.9" cy="497.6" r="0.8"/><circle cx="494.3" cy="498.9" r="0.8"/><circle cx="499.7" cy="502.7" r="0.8"/><circle cx="501.3" cy="508.0" r="0.8"/><circle cx="495.0" cy="517.6" r="0.8"/><circle cx="492.5" cy="512.6" r="0.8"/><circle cx="504.2" cy="514.1" r="0.8"/><circle cx="505.9" cy="519.5" r="0.8"/><circle cx="497.0" cy="528.0" r="0.8"/><circle cx="495.5" cy="522.6" r="0.8"/><circle cx="499.7" cy="534.0" r="0.8"/><circle cx="496.1" cy="529.8" r="0.8"/><circle cx="505.6" cy="526.9" r="0.8"/><circle cx="511.0" cy="528.1" r="0.8"/><circle cx="517.6" cy="536.4" r="0.8"/><circle cx="512.0" cy="536.8" r="0.8"/><circle cx="517.6" cy="526.4" r="0.8"/><circle cx="523.1" cy="525.3" r="0.8"/><circle cx="528.2" cy="526.6" r="0.8"/><circle cx="532.5" cy="530.2" r="0.8"/><circle cx="534.8" cy="532.4" r="0.8"/><circle cx="537.0" cy="537.5" r="0.8"/><circle cx="530.5" cy="548.1" r="0.8"/><circle cx="528.1" cy="543.0" r="0.8"/><circle cx="539.0" cy="545.2" r="0.8"/><circle cx="541.7" cy="550.1" r="0.8"/><circle cx="539.4" cy="558.0" r="0.8"/><circle cx="535.8" cy="562.3" r="0.8"/><circle cx="522.7" cy="563.8" r="0.8"/><circle cx="524.7" cy="558.6" r="0.8"/><circle cx="519.2" cy="570.8" r="0.8"/><circle cx="518.7" cy="565.2" r="0.8"/><circle cx="530.5" cy="575.6" r="0.8"/><circle cx="525.0" cy="574.5" r="0.8"/><circle cx="533.7" cy="569.0" r="0.8"/><circle cx="539.2" cy="570.5" r="0.8"/><circle cx="543.8" cy="581.5" r="0.8"/><circle cx="538.3" cy="580.2" r="0.8"/><circle cx="546.9" cy="574.3" r="0.8"/><circle cx="552.4" cy="575.4" r="0.8"/><circle cx="557.4" cy="587.3" r="0.8"/><circle cx="551.9" cy="586.4" r="0.8"/><circle cx="565.9" cy="585.0" r="0.8"/><circle cx="561.4" cy="588.3" r="0.8"/><circle cx="559.2" cy="576.9" r="0.8"/><circle cx="563.2" cy="572.9" r="0.8"/><circle cx="563.6" cy="573.8" r="0.8"/><circle cx="564.5" cy="568.2" r="0.8"/><circle cx="571.2" cy="563.6" r="0.8"/><circle cx="576.7" cy="564.5" r="0.8"/><circle cx="577.8" cy="567.5" r="0.8"/><circle cx="582.6" cy="570.5" r="0.8"/><circle cx="583.1" cy="583.4" r="0.8"/><circle cx="577.9" cy="581.4" r="0.8"/><circle cx="585.8" cy="575.1" r="0.8"/><circle cx="591.3" cy="575.9" r="0.8"/><circle cx="595.5" cy="589.9" r="0.8"/><circle cx="590.0" cy="588.6" r="0.8"/><circle cx="604.0" cy="588.3" r="0.8"/><circle cx="598.5" cy="589.4" r="0.8"/><circle cx="610.7" cy="579.4" r="0.8"/><circle cx="608.1" cy="584.4" r="0.8"/><circle cx="602.7" cy="572.7" r="0.8"/><circle cx="605.9" cy="568.1" r="0.8"/><circle cx="608.6" cy="565.9" r="0.8"/><circle cx="613.8" cy="563.8" r="0.8"/><circle cx="624.2" cy="570.8" r="0.8"/><circle cx="619.1" cy="573.1" r="0.8"/><circle cx="621.6" cy="562.4" r="0.8"/><circle cx="626.6" cy="559.9" r="0.8"/><circle cx="637.7" cy="567.2" r="0.8"/><circle cx="632.5" cy="569.2" r="0.8"/><circle cx="644.2" cy="560.7" r="0.8"/><circle cx="640.4" cy="564.8" r="0.8"/><circle cx="644.9" cy="549.7" r="0.8"/><circle cx="646.5" cy="555.1" r="0.8"/><circle cx="635.3" cy="551.3" r="0.8"/><circle cx="633.9" cy="545.9" r="0.8"/><circle cx="637.0" cy="539.6" r="0.8"/><circle cx="641.6" cy="536.4" r="0.8"/><circle cx="643.7" cy="534.4" r="0.8"/><circle cx="649.2" cy="533.1" r="0.8"/><circle cx="658.3" cy="541.7" r="0.8"/><circle cx="652.8" cy="542.8" r="0.8"/><circle cx="657.3" cy="531.3" r="0.8"/><circle cx="662.5" cy="529.1" r="0.8"/><circle cx="671.2" cy="531.8" r="0.8"/><circle cx="674.9" cy="536.1" r="0.8"/><circle cx="673.5" cy="549.7" r="0.8"/><circle cx="668.8" cy="546.6" r="0.8"/><circle cx="678.9" cy="555.0" r="0.8"/><circle cx="673.7" cy="553.1" r="0.8"/><circle cx="685.3" cy="550.8" r="0.8"/><circle cx="686.1" cy="556.4" r="0.8"/><circle cx="673.2" cy="558.9" r="0.8"/><circle cx="676.6" cy="554.5" r="0.8"/><circle cx="680.0" cy="565.5" r="0.8"/><circle cx="677.1" cy="570.3" r="0.8"/><circle cx="666.4" cy="573.2" r="0.8"/><circle cx="668.0" cy="567.9" r="0.8"/><circle cx="672.1" cy="575.2" r="0.8"/><circle cx="671.8" cy="580.8" r="0.8"/><circle cx="661.0" cy="586.9" r="0.8"/><circle cx="661.0" cy="581.3" r="0.8"/><circle cx="661.7" cy="594.1" r="0.8"/><circle cx="659.3" cy="589.0" r="0.8"/><circle cx="671.8" cy="596.3" r="0.8"/><circle cx="666.2" cy="596.0" r="0.8"/><circle cx="679.4" cy="593.5" r="0.8"/><circle cx="674.8" cy="596.7" r="0.8"/><circle cx="673.4" cy="585.1" r="0.8"/><circle cx="678.1" cy="582.1" r="0.8"/><circle cx="680.0" cy="584.5" r="0.8"/><circle cx="685.2" cy="582.4" r="0.8"/><circle cx="695.3" cy="592.1" r="0.8"/><circle cx="690.0" cy="593.8" r="0.8"/><circle cx="693.1" cy="584.2" r="0.8"/><circle cx="698.1" cy="581.7" r="0.8"/><circle cx="709.4" cy="588.8" r="0.8"/><circle cx="704.6" cy="591.6" r="0.8"/><circle cx="714.5" cy="584.3" r="0.8"/><circle cx="710.3" cy="588.0" r="0.8"/><circle cx="714.6" cy="573.4" r="0.8"/><circle cx="715.5" cy="578.9" r="0.8"/><circle cx="704.0" cy="573.4" r="0.8"/><circle cx="703.3" cy="567.8" r="0.8"/><circle cx="703.3" cy="564.9" r="0.8"/><circle cx="705.3" cy="559.7" r="0.8"/><circle cx="718.1" cy="558.0" r="0.8"/><circle cx="715.3" cy="562.8" r="0.8"/><circle cx="712.5" cy="551.6" r="0.8"/><circle cx="716.3" cy="547.6" r="0.8"/><circle cx="728.3" cy="549.6" r="0.8"/><circle cx="724.4" cy="553.6" r="0.8"/><circle cx="730.3" cy="540.8" r="0.8"/><circle cx="728.8" cy="546.2" r="0.8"/><circle cx="722.3" cy="530.1" r="0.8"/><circle cx="727.0" cy="533.2" r="0.8"/><circle cx="713.4" cy="536.5" r="0.8"/><circle cx="710.6" cy="531.6" r="0.8"/><circle cx="719.3" cy="522.4" r="0.8"/><circle cx="719.3" cy="528.0" r="0.8"/><circle cx="710.7" cy="519.1" r="0.8"/><circle cx="713.1" cy="514.0" r="0.8"/><circle cx="726.9" cy="514.2" r="0.8"/><circle cx="724.0" cy="519.0" r="0.8"/><circle cx="720.3" cy="509.1" r="0.8"/><circle cx="722.5" cy="504.0" r="0.8"/><circle cx="736.5" cy="501.8" r="0.8"/><circle cx="735.2" cy="507.2" r="0.8"/><circle cx="728.8" cy="499.9" r="0.8"/><circle cx="729.7" cy="494.4" r="0.8"/><circle cx="741.2" cy="490.1" r="0.8"/><circle cx="740.5" cy="495.7" r="0.8"/><circle cx="736.1" cy="482.8" r="0.8"/><circle cx="737.9" cy="488.1" r="0.8"/><circle cx="726.0" cy="485.1" r="0.8"/><circle cx="723.1" cy="480.3" r="0.8"/><circle cx="725.2" cy="468.6" r="0.8"/><circle cx="729.5" cy="472.1" r="0.8"/><circle cx="718.0" cy="477.3" r="0.8"/><circle cx="712.8" cy="475.2" r="0.8"/><circle cx="704.2" cy="472.1" r="0.8"/><circle cx="708.6" cy="468.6" r="0.8"/><circle cx="710.7" cy="480.3" r="0.8"/><circle cx="706.5" cy="483.9" r="0.8"/><circle cx="694.4" cy="476.9" r="0.8"/><circle cx="699.7" cy="475.0" r="0.8"/><circle cx="691.6" cy="485.1" r="0.8"/><circle cx="686.7" cy="482.2" r="0.8"/><circle cx="689.9" cy="469.9" r="0.8"/><circle cx="693.1" cy="474.5" r="0.8"/><circle cx="679.4" cy="476.4" r="0.8"/><circle cx="675.4" cy="472.5" r="0.8"/><circle cx="676.4" cy="459.4" r="0.8"/><circle cx="681.0" cy="462.6" r="0.8"/><circle cx="666.0" cy="459.9" r="0.8"/><circle cx="671.6" cy="459.1" r="0.8"/><circle cx="665.2" cy="469.7" r="0.8"/><circle cx="659.6" cy="470.5" r="0.8"/><circle cx="654.8" cy="470.2" r="0.8"/><circle cx="650.3" cy="466.9" r="0.8"/><circle cx="647.6" cy="464.1" r="0.8"/><circle cx="646.2" cy="458.7" r="0.8"/><circle cx="655.6" cy="449.4" r="0.8"/><circle cx="657.1" cy="454.8" r="0.8"/><circle cx="645.6" cy="450.7" r="0.8"/><circle cx="644.7" cy="445.2" r="0.8"/><circle cx="655.8" cy="437.4" r="0.8"/><circle cx="656.5" cy="443.0" r="0.8"/><circle cx="655.0" cy="430.2" r="0.8"/><circle cx="657.9" cy="435.0" r="0.8"/><circle cx="646.5" cy="435.7" r="0.8"/><circle cx="643.7" cy="430.8" r="0.8"/><circle cx="649.5" cy="422.1" r="0.8"/><circle cx="651.3" cy="427.4" r="0.8"/><circle cx="640.3" cy="423.6" r="0.8"/><circle cx="640.8" cy="418.0" r="0.8"/><circle cx="653.3" cy="417.4" r="0.8"/><circle cx="649.1" cy="421.1" r="0.8"/><circle cx="647.4" cy="408.5" r="0.8"/><circle cx="651.5" cy="404.7" r="0.8"/><circle cx="662.9" cy="405.7" r="0.8"/><circle cx="659.4" cy="410.0" r="0.8"/><circle cx="656.1" cy="399.6" r="0.8"/><circle cx="658.3" cy="394.5" r="0.8"/><circle cx="663.7" cy="388.8" r="0.8"/><circle cx="669.1" cy="390.4" r="0.8"/><circle cx="671.8" cy="386.4" r="0.8"/><circle cx="674.0" cy="391.5" r="0.8"/><circle cx="729.4" cy="504.7" r="0.8"/><circle cx="732.4" cy="500.0" r="0.8"/><circle cx="745.8" cy="508.8" r="0.8"/><circle cx="742.7" cy="513.5" r="0.8"/><circle cx="527.5" cy="558.8" r="0.8"/><circle cx="530.3" cy="563.6" r="0.8"/><circle cx="515.7" cy="568.5" r="0.8"/><circle cx="517.5" cy="563.2" r="0.8"/><circle cx="517.2" cy="576.8" r="0.8"/><circle cx="514.4" cy="571.9" r="0.8"/><circle cx="528.7" cy="572.3" r="0.8"/><circle cx="527.6" cy="577.7" r="0.8"/><circle cx="484.2" cy="463.6" r="0.8"/><circle cx="489.3" cy="461.3" r="0.8"/><circle cx="492.8" cy="466.9" r="0.8"/><circle cx="492.5" cy="472.4" r="0.8"/><circle cx="484.3" cy="477.6" r="0.8"/><circle cx="480.8" cy="473.2" r="0.8"/><circle cx="644.3" cy="427.2" r="0.8"/><circle cx="646.4" cy="422.0" r="0.8"/><circle cx="653.0" cy="423.8" r="0.8"/><circle cx="657.0" cy="427.8" r="0.8"/><circle cx="658.8" cy="434.4" r="0.8"/><circle cx="653.6" cy="436.5" r="0.8"/><circle cx="561.0" cy="399.8" r="0.8"/><circle cx="564.2" cy="404.4" r="0.8"/><circle cx="549.8" cy="411.0" r="0.8"/><circle cx="551.0" cy="405.6" r="0.8"/><circle cx="556.9" cy="415.0" r="0.8"/><circle cx="553.7" cy="419.6" r="0.8"/><circle cx="552.3" cy="419.9" r="0.8"/><circle cx="547.9" cy="423.4" r="0.8"/><circle cx="535.8" cy="416.9" r="0.8"/><circle cx="540.6" cy="414.2" r="0.8"/><circle cx="538.4" cy="424.5" r="0.8"/><circle cx="533.5" cy="427.2" r="0.8"/><circle cx="522.5" cy="420.5" r="0.8"/><circle cx="527.8" cy="418.5" r="0.8"/><circle cx="523.3" cy="429.4" r="0.8"/><circle cx="517.8" cy="430.7" r="0.8"/><circle cx="508.7" cy="428.1" r="0.8"/><circle cx="511.8" cy="423.5" r="0.8"/><circle cx="517.4" cy="434.8" r="0.8"/><circle cx="511.9" cy="436.3" r="0.8"/><circle cx="512.6" cy="423.4" r="0.8"/><circle cx="516.4" cy="427.4" r="0.8"/><circle cx="508.7" cy="434.7" r="0.8"/><circle cx="504.9" cy="430.7" r="0.8"/></g>
<path d="M531.3 375.0L532.8 382.8L539.7 379.7L548.5 380.0L547.8 386.4L551.6 393.2L558.9 395.3L560.4 403.7L567.3 405.8L575.2 402.6L577.7 394.9L584.4 391.1L591.3 395.9L598.6 391.8L605.9 396.8L611.0 390.6L618.5 386.9L616.4 380.0L621.1 375.0L628.3 372.9L635.6 377.5L642.5 373.8L650.8 377.3L655.8 383.8L663.7 385.0L670.4 390.1L678.3 390.5L682.4 395.7L688.9 398.9L697.1 398.6L701.8 405.3L710.5 404.7L716.4 409.9L715.8 414.1M716.4 409.9L718.9 405.8M651.0 379.2L651.0 389.0M670.4 390.1L673.3 396.8M532.8 382.8L529.1 386.2L520.8 385.7L515.8 391.0L507.2 390.2L501.3 395.9L493.7 395.9L495.2 401.6L491.0 406.8L495.2 409.9L490.9 414.7L491.5 422.5L484.9 427.9L486.7 434.8L479.5 441.2L479.5 446.9L486.6 449.0L490.7 454.4L497.7 456.3L501.7 462.4L509.7 464.5L512.7 472.0L520.6 473.0L524.1 481.3L530.7 483.7L531.3 489.4L528.6 496.7L531.9 502.6L538.0 505.5L545.3 501.9L552.6 507.2L559.5 505.8L565.2 500.5L563.1 493.6L570.4 488.8L573.5 482.5L579.0 484.2L584.0 490.4L590.3 487.3L597.6 492.5L604.9 489.4L608.0 482.5L615.3 480.0L622.6 482.5L623.7 490.0L631.0 492.5L630.0 501.2L633.1 506.8L640.4 505.1M530.7 483.7L534.9 477.9M491.0 406.8L496.2 405.8L499.3 412.0L495.2 417.2M633.1 506.8L627.9 508.2M497.7 456.3L494.0 462.2L487.8 464.9L493.7 468.4L489.9 474.8L482.0 478.9L483.7 485.2L475.7 489.4L476.4 496.3L482.6 501.9L491.0 500.9L497.9 506.1L496.2 513.9L502.5 517.6L498.9 524.5L500.0 530.2L507.7 530.2L514.6 533.9L520.9 528.5L528.6 530.5L533.4 536.0L531.7 544.4L538.0 549.0L535.5 558.4L526.2 562.2L521.7 567.8L528.3 572.4L535.8 572.4L541.7 578.2L549.1 577.5L555.1 584.2L562.0 584.5L563.1 576.8L566.7 571.5L573.5 566.7L578.7 571.3L581.5 579.9L588.2 578.2L593.4 586.6L600.7 586.2L607.0 580.7L606.6 572.0L612.2 567.4L620.6 569.4L625.4 563.6L634.1 565.7L640.3 560.9L643.1 553.1L637.3 547.9L640.8 540.2L647.1 536.4L655.0 539.6L661.0 532.7L671.0 535.7L672.6 545.9L677.3 551.5L683.0 554.0L677.1 558.3L676.2 566.5L669.8 571.3L669.2 577.8L663.7 584.1L663.0 590.4L669.1 593.4L675.5 592.9L677.3 585.9L683.6 585.9L691.8 590.4L696.8 585.4L705.6 587.9L710.6 584.1L712.4 576.6L706.3 570.3L706.8 563.3L714.4 559.0L716.4 551.5L724.4 549.7L726.9 542.7L723.1 533.9L714.4 532.7L716.5 525.2L714.4 517.6L723.1 515.1L723.9 507.6L733.2 503.9L731.9 497.6L738.2 492.6L734.4 486.3L726.9 481.3L725.7 472.5L716.4 473.8L708.1 472.5L706.8 480.0L698.0 478.5L690.5 481.3L689.3 473.8L679.3 472.5L677.1 463.2L669.2 462.2L662.1 467.4L654.1 466.4L649.5 460.7L653.7 452.8L647.8 447.5L653.5 440.5L654.1 434.0L647.4 431.9L647.8 425.6L643.3 421.0L649.4 417.2L651.3 408.6L659.0 406.1L659.7 398.1L665.6 392.2L670.4 390.1M733.2 503.9L742.0 509.6M526.5 562.5L519.2 566.7L518.2 573.0L525.5 574.5M487.8 464.9L489.9 469.5L484.7 473.7M647.8 425.6L653.1 427.7L655.2 432.9M560.4 403.7L553.1 408.9L553.1 415.8L548.4 419.5L539.5 417.9L534.7 423.5L526.1 422.1L519.9 427.4L512.5 427.3L514.0 432.9M512.5 427.3L508.7 430.8" stroke="#111" stroke-width="1.35" fill="none" stroke-linejoin="round"/>
<g fill="#0a0a0a"><circle cx="531.3" cy="375.0" r="2.3"/><circle cx="532.8" cy="382.8" r="2.3"/><circle cx="539.7" cy="379.7" r="2.3"/><circle cx="548.5" cy="380.0" r="2.3"/><circle cx="547.8" cy="386.4" r="2.3"/><circle cx="551.6" cy="393.2" r="2.3"/><circle cx="558.9" cy="395.3" r="2.3"/><circle cx="560.4" cy="403.7" r="2.3"/><circle cx="567.3" cy="405.8" r="2.3"/><circle cx="575.2" cy="402.6" r="2.3"/><circle cx="577.7" cy="394.9" r="2.3"/><circle cx="584.4" cy="391.1" r="2.3"/><circle cx="591.3" cy="395.9" r="2.3"/><circle cx="598.6" cy="391.8" r="2.3"/><circle cx="605.9" cy="396.8" r="2.3"/><circle cx="611.0" cy="390.6" r="2.3"/><circle cx="618.5" cy="386.9" r="2.3"/><circle cx="616.4" cy="380.0" r="2.3"/><circle cx="621.1" cy="375.0" r="2.3"/><circle cx="628.3" cy="372.9" r="2.3"/><circle cx="635.6" cy="377.5" r="2.3"/><circle cx="642.5" cy="373.8" r="2.3"/><circle cx="650.8" cy="377.3" r="2.3"/><circle cx="655.8" cy="383.8" r="2.3"/><circle cx="663.7" cy="385.0" r="2.3"/><circle cx="670.4" cy="390.1" r="2.3"/><circle cx="678.3" cy="390.5" r="2.3"/><circle cx="682.4" cy="395.7" r="2.3"/><circle cx="688.9" cy="398.9" r="2.3"/><circle cx="697.1" cy="398.6" r="2.3"/><circle cx="701.8" cy="405.3" r="2.3"/><circle cx="710.5" cy="404.7" r="2.3"/><circle cx="716.4" cy="409.9" r="2.3"/><circle cx="715.8" cy="414.1" r="2.3"/><circle cx="716.4" cy="409.9" r="2.3"/><circle cx="718.9" cy="405.8" r="2.3"/><circle cx="651.0" cy="379.2" r="2.3"/><circle cx="651.0" cy="389.0" r="2.3"/><circle cx="670.4" cy="390.1" r="2.3"/><circle cx="673.3" cy="396.8" r="2.3"/><circle cx="532.8" cy="382.8" r="2.3"/><circle cx="529.1" cy="386.2" r="2.3"/><circle cx="520.8" cy="385.7" r="2.3"/><circle cx="515.8" cy="391.0" r="2.3"/><circle cx="507.2" cy="390.2" r="2.3"/><circle cx="501.3" cy="395.9" r="2.3"/><circle cx="493.7" cy="395.9" r="2.3"/><circle cx="495.2" cy="401.6" r="2.3"/><circle cx="491.0" cy="406.8" r="2.3"/><circle cx="495.2" cy="409.9" r="2.3"/><circle cx="490.9" cy="414.7" r="2.3"/><circle cx="491.5" cy="422.5" r="2.3"/><circle cx="484.9" cy="427.9" r="2.3"/><circle cx="486.7" cy="434.8" r="2.3"/><circle cx="479.5" cy="441.2" r="2.3"/><circle cx="479.5" cy="446.9" r="2.3"/><circle cx="486.6" cy="449.0" r="2.3"/><circle cx="490.7" cy="454.4" r="2.3"/><circle cx="497.7" cy="456.3" r="2.3"/><circle cx="501.7" cy="462.4" r="2.3"/><circle cx="509.7" cy="464.5" r="2.3"/><circle cx="512.7" cy="472.0" r="2.3"/><circle cx="520.6" cy="473.0" r="2.3"/><circle cx="524.1" cy="481.3" r="2.3"/><circle cx="530.7" cy="483.7" r="2.3"/><circle cx="531.3" cy="489.4" r="2.3"/><circle cx="528.6" cy="496.7" r="2.3"/><circle cx="531.9" cy="502.6" r="2.3"/><circle cx="538.0" cy="505.5" r="2.3"/><circle cx="545.3" cy="501.9" r="2.3"/><circle cx="552.6" cy="507.2" r="2.3"/><circle cx="559.5" cy="505.8" r="2.3"/><circle cx="565.2" cy="500.5" r="2.3"/><circle cx="563.1" cy="493.6" r="2.3"/><circle cx="570.4" cy="488.8" r="2.3"/><circle cx="573.5" cy="482.5" r="2.3"/><circle cx="579.0" cy="484.2" r="2.3"/><circle cx="584.0" cy="490.4" r="2.3"/><circle cx="590.3" cy="487.3" r="2.3"/><circle cx="597.6" cy="492.5" r="2.3"/><circle cx="604.9" cy="489.4" r="2.3"/><circle cx="608.0" cy="482.5" r="2.3"/><circle cx="615.3" cy="480.0" r="2.3"/><circle cx="622.6" cy="482.5" r="2.3"/><circle cx="623.7" cy="490.0" r="2.3"/><circle cx="631.0" cy="492.5" r="2.3"/><circle cx="630.0" cy="501.2" r="2.3"/><circle cx="633.1" cy="506.8" r="2.3"/><circle cx="640.4" cy="505.1" r="2.3"/><circle cx="530.7" cy="483.7" r="2.3"/><circle cx="534.9" cy="477.9" r="2.3"/><circle cx="491.0" cy="406.8" r="2.3"/><circle cx="496.2" cy="405.8" r="2.3"/><circle cx="499.3" cy="412.0" r="2.3"/><circle cx="495.2" cy="417.2" r="2.3"/><circle cx="633.1" cy="506.8" r="2.3"/><circle cx="627.9" cy="508.2" r="2.3"/><circle cx="497.7" cy="456.3" r="2.3"/><circle cx="494.0" cy="462.2" r="2.3"/><circle cx="487.8" cy="464.9" r="2.3"/><circle cx="493.7" cy="468.4" r="2.3"/><circle cx="489.9" cy="474.8" r="2.3"/><circle cx="482.0" cy="478.9" r="2.3"/><circle cx="483.7" cy="485.2" r="2.3"/><circle cx="475.7" cy="489.4" r="2.3"/><circle cx="476.4" cy="496.3" r="2.3"/><circle cx="482.6" cy="501.9" r="2.3"/><circle cx="491.0" cy="500.9" r="2.3"/><circle cx="497.9" cy="506.1" r="2.3"/><circle cx="496.2" cy="513.9" r="2.3"/><circle cx="502.5" cy="517.6" r="2.3"/><circle cx="498.9" cy="524.5" r="2.3"/><circle cx="500.0" cy="530.2" r="2.3"/><circle cx="507.7" cy="530.2" r="2.3"/><circle cx="514.6" cy="533.9" r="2.3"/><circle cx="520.9" cy="528.5" r="2.3"/><circle cx="528.6" cy="530.5" r="2.3"/><circle cx="533.4" cy="536.0" r="2.3"/><circle cx="531.7" cy="544.4" r="2.3"/><circle cx="538.0" cy="549.0" r="2.3"/><circle cx="535.5" cy="558.4" r="2.3"/><circle cx="526.2" cy="562.2" r="2.3"/><circle cx="521.7" cy="567.8" r="2.3"/><circle cx="528.3" cy="572.4" r="2.3"/><circle cx="535.8" cy="572.4" r="2.3"/><circle cx="541.7" cy="578.2" r="2.3"/><circle cx="549.1" cy="577.5" r="2.3"/><circle cx="555.1" cy="584.2" r="2.3"/><circle cx="562.0" cy="584.5" r="2.3"/><circle cx="563.1" cy="576.8" r="2.3"/><circle cx="566.7" cy="571.5" r="2.3"/><circle cx="573.5" cy="566.7" r="2.3"/><circle cx="578.7" cy="571.3" r="2.3"/><circle cx="581.5" cy="579.9" r="2.3"/><circle cx="588.2" cy="578.2" r="2.3"/><circle cx="593.4" cy="586.6" r="2.3"/><circle cx="600.7" cy="586.2" r="2.3"/><circle cx="607.0" cy="580.7" r="2.3"/><circle cx="606.6" cy="572.0" r="2.3"/><circle cx="612.2" cy="567.4" r="2.3"/><circle cx="620.6" cy="569.4" r="2.3"/><circle cx="625.4" cy="563.6" r="2.3"/><circle cx="634.1" cy="565.7" r="2.3"/><circle cx="640.3" cy="560.9" r="2.3"/><circle cx="643.1" cy="553.1" r="2.3"/><circle cx="637.3" cy="547.9" r="2.3"/><circle cx="640.8" cy="540.2" r="2.3"/><circle cx="647.1" cy="536.4" r="2.3"/><circle cx="655.0" cy="539.6" r="2.3"/><circle cx="661.0" cy="532.7" r="2.3"/><circle cx="671.0" cy="535.7" r="2.3"/><circle cx="672.6" cy="545.9" r="2.3"/><circle cx="677.3" cy="551.5" r="2.3"/><circle cx="683.0" cy="554.0" r="2.3"/><circle cx="677.1" cy="558.3" r="2.3"/><circle cx="676.2" cy="566.5" r="2.3"/><circle cx="669.8" cy="571.3" r="2.3"/><circle cx="669.2" cy="577.8" r="2.3"/><circle cx="663.7" cy="584.1" r="2.3"/><circle cx="663.0" cy="590.4" r="2.3"/><circle cx="669.1" cy="593.4" r="2.3"/><circle cx="675.5" cy="592.9" r="2.3"/><circle cx="677.3" cy="585.9" r="2.3"/><circle cx="683.6" cy="585.9" r="2.3"/><circle cx="691.8" cy="590.4" r="2.3"/><circle cx="696.8" cy="585.4" r="2.3"/><circle cx="705.6" cy="587.9" r="2.3"/><circle cx="710.6" cy="584.1" r="2.3"/><circle cx="712.4" cy="576.6" r="2.3"/><circle cx="706.3" cy="570.3" r="2.3"/><circle cx="706.8" cy="563.3" r="2.3"/><circle cx="714.4" cy="559.0" r="2.3"/><circle cx="716.4" cy="551.5" r="2.3"/><circle cx="724.4" cy="549.7" r="2.3"/><circle cx="726.9" cy="542.7" r="2.3"/><circle cx="723.1" cy="533.9" r="2.3"/><circle cx="714.4" cy="532.7" r="2.3"/><circle cx="716.5" cy="525.2" r="2.3"/><circle cx="714.4" cy="517.6" r="2.3"/><circle cx="723.1" cy="515.1" r="2.3"/><circle cx="723.9" cy="507.6" r="2.3"/><circle cx="733.2" cy="503.9" r="2.3"/><circle cx="731.9" cy="497.6" r="2.3"/><circle cx="738.2" cy="492.6" r="2.3"/><circle cx="734.4" cy="486.3" r="2.3"/><circle cx="726.9" cy="481.3" r="2.3"/><circle cx="725.7" cy="472.5" r="2.3"/><circle cx="716.4" cy="473.8" r="2.3"/><circle cx="708.1" cy="472.5" r="2.3"/><circle cx="706.8" cy="480.0" r="2.3"/><circle cx="698.0" cy="478.5" r="2.3"/><circle cx="690.5" cy="481.3" r="2.3"/><circle cx="689.3" cy="473.8" r="2.3"/><circle cx="679.3" cy="472.5" r="2.3"/><circle cx="677.1" cy="463.2" r="2.3"/><circle cx="669.2" cy="462.2" r="2.3"/><circle cx="662.1" cy="467.4" r="2.3"/><circle cx="654.1" cy="466.4" r="2.3"/><circle cx="649.5" cy="460.7" r="2.3"/><circle cx="653.7" cy="452.8" r="2.3"/><circle cx="647.8" cy="447.5" r="2.3"/><circle cx="653.5" cy="440.5" r="2.3"/><circle cx="654.1" cy="434.0" r="2.3"/><circle cx="647.4" cy="431.9" r="2.3"/><circle cx="647.8" cy="425.6" r="2.3"/><circle cx="643.3" cy="421.0" r="2.3"/><circle cx="649.4" cy="417.2" r="2.3"/><circle cx="651.3" cy="408.6" r="2.3"/><circle cx="659.0" cy="406.1" r="2.3"/><circle cx="659.7" cy="398.1" r="2.3"/><circle cx="665.6" cy="392.2" r="2.3"/><circle cx="670.4" cy="390.1" r="2.3"/><circle cx="733.2" cy="503.9" r="2.3"/><circle cx="742.0" cy="509.6" r="2.3"/><circle cx="526.5" cy="562.5" r="2.3"/><circle cx="519.2" cy="566.7" r="2.3"/><circle cx="518.2" cy="573.0" r="2.3"/><circle cx="525.5" cy="574.5" r="2.3"/><circle cx="487.8" cy="464.9" r="2.3"/><circle cx="489.9" cy="469.5" r="2.3"/><circle cx="484.7" cy="473.7" r="2.3"/><circle cx="647.8" cy="425.6" r="2.3"/><circle cx="653.1" cy="427.7" r="2.3"/><circle cx="655.2" cy="432.9" r="2.3"/><circle cx="560.4" cy="403.7" r="2.3"/><circle cx="553.1" cy="408.9" r="2.3"/><circle cx="553.1" cy="415.8" r="2.3"/><circle cx="548.4" cy="419.5" r="2.3"/><circle cx="539.5" cy="417.9" r="2.3"/><circle cx="534.7" cy="423.5" r="2.3"/><circle cx="526.1" cy="422.1" r="2.3"/><circle cx="519.9" cy="427.4" r="2.3"/><circle cx="512.5" cy="427.3" r="2.3"/><circle cx="514.0" cy="432.9" r="2.3"/><circle cx="512.5" cy="427.3" r="2.3"/><circle cx="508.7" cy="430.8" r="2.3"/></g>
</g>
<line x1="726.6" y1="386.5" x2="724.1" y2="380.7" stroke="#555" stroke-width="0.8"/>
<line x1="726.6" y1="386.5" x2="718.9" y2="385.9" stroke="#555" stroke-width="0.8"/>
<line x1="726.6" y1="386.5" x2="724.1" y2="391.8" stroke="#555" stroke-width="0.8"/>
<line x1="726.6" y1="386.5" x2="732.9" y2="386.9" stroke="#555" stroke-width="0.8"/>
<circle cx="724.1" cy="380.7" r="2.6" fill="url(#pkg)"/>
<circle cx="718.9" cy="385.9" r="2.6" fill="url(#pkg)"/>
<circle cx="724.1" cy="391.8" r="2.6" fill="url(#pkg)"/>
<circle cx="732.9" cy="386.9" r="2.6" fill="url(#pkg)"/>
<circle cx="726.6" cy="386.5" r="2" fill="#0a0a0a"/>
<line x1="699.0" y1="449.0" x2="699.0" y2="442.7" stroke="#555" stroke-width="0.8"/>
<line x1="699.0" y1="449.0" x2="692.2" y2="449.6" stroke="#555" stroke-width="0.8"/>
<line x1="699.0" y1="449.0" x2="698.0" y2="455.9" stroke="#555" stroke-width="0.8"/>
<line x1="699.0" y1="449.0" x2="703.9" y2="451.7" stroke="#555" stroke-width="0.8"/>
<circle cx="699.0" cy="442.7" r="2.6" fill="url(#pkg)"/>
<circle cx="692.2" cy="449.6" r="2.6" fill="url(#pkg)"/>
<circle cx="698.0" cy="455.9" r="2.6" fill="url(#pkg)"/>
<circle cx="703.9" cy="451.7" r="2.6" fill="url(#pkg)"/>
<circle cx="699.0" cy="449.0" r="2" fill="#0a0a0a"/>
<line x1="643.7" y1="481.4" x2="644.7" y2="475.3" stroke="#555" stroke-width="0.8"/>
<line x1="643.7" y1="481.4" x2="638.0" y2="482.0" stroke="#555" stroke-width="0.8"/>
<line x1="643.7" y1="481.4" x2="648.9" y2="484.7" stroke="#555" stroke-width="0.8"/>
<line x1="643.7" y1="481.4" x2="642.6" y2="488.3" stroke="#555" stroke-width="0.8"/>
<circle cx="644.7" cy="475.3" r="2.6" fill="url(#pkg)"/>
<circle cx="638.0" cy="482.0" r="2.6" fill="url(#pkg)"/>
<circle cx="648.9" cy="484.7" r="2.6" fill="url(#pkg)"/>
<circle cx="642.6" cy="488.3" r="2.6" fill="url(#pkg)"/>
<circle cx="643.7" cy="481.4" r="2" fill="#0a0a0a"/>
<line x1="582.1" y1="509.4" x2="576.8" y2="506.9" stroke="#555" stroke-width="0.8"/>
<line x1="582.1" y1="509.4" x2="586.7" y2="504.2" stroke="#555" stroke-width="0.8"/>
<line x1="582.1" y1="509.4" x2="577.3" y2="514.7" stroke="#555" stroke-width="0.8"/>
<line x1="582.1" y1="509.4" x2="584.2" y2="514.7" stroke="#555" stroke-width="0.8"/>
<circle cx="576.8" cy="506.9" r="2.6" fill="url(#pkg)"/>
<circle cx="586.7" cy="504.2" r="2.6" fill="url(#pkg)"/>
<circle cx="577.3" cy="514.7" r="2.6" fill="url(#pkg)"/>
<circle cx="584.2" cy="514.7" r="2.6" fill="url(#pkg)"/>
<circle cx="582.1" cy="509.4" r="2" fill="#0a0a0a"/>
<line x1="613.2" y1="524.3" x2="614.3" y2="517.6" stroke="#555" stroke-width="0.8"/>
<line x1="613.2" y1="524.3" x2="607.4" y2="524.5" stroke="#555" stroke-width="0.8"/>
<line x1="613.2" y1="524.3" x2="612.2" y2="530.6" stroke="#555" stroke-width="0.8"/>
<line x1="613.2" y1="524.3" x2="618.5" y2="527.6" stroke="#555" stroke-width="0.8"/>
<circle cx="614.3" cy="517.6" r="2.6" fill="url(#pkg)"/>
<circle cx="607.4" cy="524.5" r="2.6" fill="url(#pkg)"/>
<circle cx="612.2" cy="530.6" r="2.6" fill="url(#pkg)"/>
<circle cx="618.5" cy="527.6" r="2.6" fill="url(#pkg)"/>
<circle cx="613.2" cy="524.3" r="2" fill="#0a0a0a"/>
<line x1="563.1" y1="550.4" x2="564.5" y2="543.7" stroke="#555" stroke-width="0.8"/>
<line x1="563.1" y1="550.4" x2="556.8" y2="550.6" stroke="#555" stroke-width="0.8"/>
<line x1="563.1" y1="550.4" x2="561.6" y2="557.3" stroke="#555" stroke-width="0.8"/>
<line x1="563.1" y1="550.4" x2="567.7" y2="554.2" stroke="#555" stroke-width="0.8"/>
<circle cx="564.5" cy="543.7" r="2.6" fill="url(#pkg)"/>
<circle cx="556.8" cy="550.6" r="2.6" fill="url(#pkg)"/>
<circle cx="561.6" cy="557.3" r="2.6" fill="url(#pkg)"/>
<circle cx="567.7" cy="554.2" r="2.6" fill="url(#pkg)"/>
<circle cx="563.1" cy="550.4" r="2" fill="#0a0a0a"/>
<line x1="691.1" y1="575.1" x2="686.5" y2="571.3" stroke="#555" stroke-width="0.8"/>
<line x1="691.1" y1="575.1" x2="693.6" y2="570.1" stroke="#555" stroke-width="0.8"/>
<line x1="691.1" y1="575.1" x2="687.0" y2="578.3" stroke="#555" stroke-width="0.8"/>
<line x1="691.1" y1="575.1" x2="696.6" y2="580.1" stroke="#555" stroke-width="0.8"/>
<circle cx="686.5" cy="571.3" r="2.6" fill="url(#pkg)"/>
<circle cx="693.6" cy="570.1" r="2.6" fill="url(#pkg)"/>
<circle cx="687.0" cy="578.3" r="2.6" fill="url(#pkg)"/>
<circle cx="696.6" cy="580.1" r="2.6" fill="url(#pkg)"/>
<circle cx="691.1" cy="575.1" r="2" fill="#0a0a0a"/>
<g fill="none" stroke="#f05a5f" stroke-width="0.7"><circle cx="504.2" cy="428.7" r="6.3"/><circle cx="650.9" cy="389" r="5.2"/><circle cx="718.8" cy="385.5" r="5.8"/><circle cx="638.4" cy="426.6" r="5.2"/><circle cx="699" cy="429.4" r="9.4"/><circle cx="691.7" cy="450.3" r="5.2"/><circle cx="563.1" cy="443.4" r="9.4"/><circle cx="569.4" cy="455.9" r="5.8"/><circle cx="644.6" cy="474.7" r="5.8"/><circle cx="503.1" cy="488.4" r="8.8"/><circle cx="540.3" cy="534.8" r="5.2"/><circle cx="613.5" cy="517.6" r="5.2"/><circle cx="587.3" cy="547.9" r="8.4"/><circle cx="498.5" cy="577.2" r="8.4"/><circle cx="690" cy="508.2" r="8"/><circle cx="701.1" cy="519.7" r="8"/><circle cx="657.6" cy="568.8" r="8"/></g>
<path d="M512.6 404.1L520.5 406.4L528.2 400.5M512.6 404.1L514.2 418.3M528.2 400.5L533.0 410.6" stroke="#e8202a" stroke-width="1.1" fill="none"/>
<circle cx="520.5" cy="406.4" r="1.7" fill="#e60f19"/>
<circle cx="514.2" cy="418.3" r="1.7" fill="#e60f19"/>
<circle cx="533.0" cy="410.6" r="1.7" fill="#e60f19"/>
<circle cx="512.6" cy="404.1" r="5.8" fill="url(#gdg)"/>
<circle cx="528.2" cy="400.5" r="5.8" fill="url(#gdg)"/>
<path d="M563.1 443.4L572.1 444.0L577.8 436.1M563.1 443.4L568.4 456.5M577.8 436.1L585.1 445.5" stroke="#e8202a" stroke-width="1.1" fill="none"/>
<circle cx="572.1" cy="444.0" r="1.7" fill="#e60f19"/>
<circle cx="568.4" cy="456.5" r="1.7" fill="#e60f19"/>
<circle cx="585.1" cy="445.5" r="1.7" fill="#e60f19"/>
<circle cx="563.1" cy="443.4" r="5.8" fill="url(#gdg)"/>
<circle cx="577.8" cy="436.1" r="5.8" fill="url(#gdg)"/>
<path d="M615.4 450.7L624.8 448.2L631.1 452.8M615.4 450.7L615.4 439.2M631.1 452.8L635.7 439.2" stroke="#e8202a" stroke-width="1.1" fill="none"/>
<circle cx="624.8" cy="448.2" r="1.7" fill="#e60f19"/>
<circle cx="615.4" cy="439.2" r="1.7" fill="#e60f19"/>
<circle cx="635.7" cy="439.2" r="1.7" fill="#e60f19"/>
<circle cx="615.4" cy="450.7" r="5.8" fill="url(#gdg)"/>
<circle cx="631.1" cy="452.8" r="5.8" fill="url(#gdg)"/>
<path d="M699.0 429.4L708.8 427.1L715.1 431.9M699.0 429.4L699.0 418.9M715.1 431.9L719.9 418.9" stroke="#e8202a" stroke-width="1.1" fill="none"/>
<circle cx="708.8" cy="427.1" r="1.7" fill="#e60f19"/>
<circle cx="699.0" cy="418.9" r="1.7" fill="#e60f19"/>
<circle cx="719.9" cy="418.9" r="1.7" fill="#e60f19"/>
<circle cx="699.0" cy="429.4" r="5.8" fill="url(#gdg)"/>
<circle cx="715.1" cy="431.9" r="5.8" fill="url(#gdg)"/>
<path d="M503.1 488.4L511.7 494.6L512.7 501.9M503.1 488.4L512.1 481.7M512.7 501.9L525.7 498.4" stroke="#e8202a" stroke-width="1.1" fill="none"/>
<circle cx="511.7" cy="494.6" r="1.7" fill="#e60f19"/>
<circle cx="512.1" cy="481.7" r="1.7" fill="#e60f19"/>
<circle cx="525.7" cy="498.4" r="1.7" fill="#e60f19"/>
<circle cx="503.1" cy="488.4" r="5.8" fill="url(#gdg)"/>
<circle cx="512.7" cy="501.9" r="5.8" fill="url(#gdg)"/>
<path d="M549.7 492.1L552.4 483.1L560.2 481.7M549.7 492.1L539.9 487.3M560.2 481.7L550.3 469.6" stroke="#e8202a" stroke-width="1.1" fill="none"/>
<circle cx="552.4" cy="483.1" r="1.7" fill="#e60f19"/>
<circle cx="539.9" cy="487.3" r="1.7" fill="#e60f19"/>
<circle cx="550.3" cy="469.6" r="1.7" fill="#e60f19"/>
<circle cx="549.7" cy="492.1" r="5.8" fill="url(#gdg)"/>
<circle cx="560.2" cy="481.7" r="5.8" fill="url(#gdg)"/>
<path d="M586.7 532.2L591.5 540.6L587.3 547.9M586.7 532.2L598.2 530.2M587.3 547.9L602.6 549.0" stroke="#e8202a" stroke-width="1.1" fill="none"/>
<circle cx="591.5" cy="540.6" r="1.7" fill="#e60f19"/>
<circle cx="598.2" cy="530.2" r="1.7" fill="#e60f19"/>
<circle cx="602.6" cy="549.0" r="1.7" fill="#e60f19"/>
<circle cx="586.7" cy="532.2" r="5.8" fill="url(#gdg)"/>
<circle cx="587.3" cy="547.9" r="5.8" fill="url(#gdg)"/>
<path d="M492.2 561.1L499.6 569.4L498.5 577.2M492.2 561.1L501.7 556.9M498.5 577.2L512.7 575.1" stroke="#e8202a" stroke-width="1.1" fill="none"/>
<circle cx="499.6" cy="569.4" r="1.7" fill="#e60f19"/>
<circle cx="501.7" cy="556.9" r="1.7" fill="#e60f19"/>
<circle cx="512.7" cy="575.1" r="1.7" fill="#e60f19"/>
<circle cx="492.2" cy="561.1" r="5.8" fill="url(#gdg)"/>
<circle cx="498.5" cy="577.2" r="5.8" fill="url(#gdg)"/>
<path d="M673.9 506.1L682.7 504.0L690.0 508.2M673.9 506.1L673.3 495.7M690.0 508.2L693.6 495.0" stroke="#e8202a" stroke-width="1.1" fill="none"/>
<circle cx="682.7" cy="504.0" r="1.7" fill="#e60f19"/>
<circle cx="673.3" cy="495.7" r="1.7" fill="#e60f19"/>
<circle cx="693.6" cy="495.0" r="1.7" fill="#e60f19"/>
<circle cx="673.9" cy="506.1" r="5.8" fill="url(#gdg)"/>
<circle cx="690.0" cy="508.2" r="5.8" fill="url(#gdg)"/>
<path d="M701.1 519.7L704.6 529.5L700.5 536.4M701.1 519.7L712.0 518.7M700.5 536.4L714.0 540.6" stroke="#e8202a" stroke-width="1.1" fill="none"/>
<circle cx="704.6" cy="529.5" r="1.7" fill="#e60f19"/>
<circle cx="712.0" cy="518.7" r="1.7" fill="#e60f19"/>
<circle cx="714.0" cy="540.6" r="1.7" fill="#e60f19"/>
<circle cx="701.1" cy="519.7" r="5.8" fill="url(#gdg)"/>
<circle cx="700.5" cy="536.4" r="5.8" fill="url(#gdg)"/>
<path d="M664.5 553.1L658.0 559.0L657.6 568.8M664.5 553.1L653.4 545.8M657.6 568.8L647.2 565.7" stroke="#e8202a" stroke-width="1.1" fill="none"/>
<circle cx="658.0" cy="559.0" r="1.7" fill="#e60f19"/>
<circle cx="653.4" cy="545.8" r="1.7" fill="#e60f19"/>
<circle cx="647.2" cy="565.7" r="1.7" fill="#e60f19"/>
<circle cx="664.5" cy="553.1" r="5.8" fill="url(#gdg)"/>
<circle cx="657.6" cy="568.8" r="5.8" fill="url(#gdg)"/>
<circle cx="428.5" cy="454.4" r="1.2" fill="#e60f19"/>
<text x="417.5" y="465" font-size="6.6" font-weight="bold" fill="#222" textLength="25" lengthAdjust="spacingAndGlyphs">Neutron</text>
<line x1="433.9" y1="447.1" x2="497.4" y2="430.0" stroke="#f03a40" stroke-width="0.8"/>
<line x1="434.5" y1="449.3" x2="498.0" y2="432.1" stroke="#f03a40" stroke-width="0.8"/>
<path d="M501.0 430.2L496.5 433.2L495.6 429.9Z" fill="#f03a40"/>
<text transform="translate(462.3 440.6) rotate(-15.1)" x="0" y="-2.2" text-anchor="middle" font-size="6.6" font-weight="bold" fill="#ee1c25" textLength="45" lengthAdjust="spacingAndGlyphs">Elastic scattering</text>
<line x1="436.8" y1="454.9" x2="492.8" y2="481.3" stroke="#f03a40" stroke-width="0.8"/>
<line x1="435.8" y1="456.9" x2="491.9" y2="483.2" stroke="#f03a40" stroke-width="0.8"/>
<path d="M495.4 483.7L490.1 483.1L491.5 480.0Z" fill="#f03a40"/>
<text transform="translate(462.9 468.4) rotate(25.2)" x="0" y="-2.2" text-anchor="middle" font-size="6.6" font-weight="bold" fill="#ee1c25" textLength="52" lengthAdjust="spacingAndGlyphs">Inelastic scattering</text>
<line x1="509.5" y1="426.5" x2="643.4" y2="393.0" stroke="#f03a40" stroke-width="0.9"/>
<path d="M646.7 392.2L642.2 395.1L641.3 391.8Z" fill="#f03a40"/>
<text transform="translate(594.6 405.2) rotate(-14.0)" x="0" y="4.6" text-anchor="middle" font-size="6.6" font-weight="bold" fill="#ee1c25" textLength="42" lengthAdjust="spacingAndGlyphs">Elastic scattering</text>
<line x1="510.5" y1="428.7" x2="630.6" y2="426.4" stroke="#f03a40" stroke-width="0.9"/>
<path d="M634.0 426.3L628.9 428.1L628.9 424.7Z" fill="#f03a40"/>
<text transform="translate(592.0 427.1) rotate(-1.1)" x="0" y="-1.8" text-anchor="middle" font-size="6.6" font-weight="bold" fill="#ee1c25" textLength="45" lengthAdjust="spacingAndGlyphs">Elastic scattering</text>
<line x1="509.0" y1="433.0" x2="562.3" y2="452.3" stroke="#f03a40" stroke-width="0.9"/>
<path d="M565.5 453.5L560.1 453.4L561.3 450.2Z" fill="#f03a40"/>
<text transform="translate(540.1 444.3) rotate(19.9)" x="0" y="-1.8" text-anchor="middle" font-size="6.6" font-weight="bold" fill="#ee1c25" textLength="44" lengthAdjust="spacingAndGlyphs">Elastic scattering</text>
<line x1="656.0" y1="388.4" x2="710.1" y2="385.8" stroke="#f03a40" stroke-width="0.9"/>
<path d="M713.5 385.6L708.5 387.5L708.3 384.2Z" fill="#f03a40"/>
<text transform="translate(690.5 386.7) rotate(-2.8)" x="0" y="-1.8" text-anchor="middle" font-size="6.6" font-weight="bold" fill="#ee1c25" textLength="30" lengthAdjust="spacingAndGlyphs">Absorption</text>
<line x1="643.6" y1="427.0" x2="686.6" y2="428.5" stroke="#f03a40" stroke-width="0.9"/>
<path d="M690.0 428.6L684.8 430.1L685.0 426.7Z" fill="#f03a40"/>
<text transform="translate(669.1 427.9) rotate(2.0)" x="0" y="-1.6" text-anchor="middle" font-size="6.6" font-weight="bold" fill="#ee1c25" textLength="30" lengthAdjust="spacingAndGlyphs">Absorption</text>
<line x1="643.6" y1="428.5" x2="683.5" y2="447.5" stroke="#f03a40" stroke-width="0.9"/>
<path d="M686.6 449.0L681.3 448.3L682.7 445.3Z" fill="#f03a40"/>
<text transform="translate(667.2 439.8) rotate(25.5)" x="0" y="-1.8" text-anchor="middle" font-size="6.6" font-weight="bold" fill="#ee1c25" textLength="30" lengthAdjust="spacingAndGlyphs">Absorption</text>
<line x1="576.7" y1="459.0" x2="635.5" y2="472.1" stroke="#f03a40" stroke-width="0.9"/>
<path d="M638.8 472.8L633.5 473.4L634.2 470.0Z" fill="#f03a40"/>
<text transform="translate(607.8 465.9) rotate(12.5)" x="0" y="-1.8" text-anchor="middle" font-size="6.6" font-weight="bold" fill="#ee1c25" textLength="30" lengthAdjust="spacingAndGlyphs">Absorption</text>
<line x1="509.0" y1="494.6" x2="535.1" y2="527.5" stroke="#f03a40" stroke-width="0.9"/>
<path d="M537.2 530.2L532.7 527.3L535.4 525.1Z" fill="#f03a40"/>
<text transform="translate(524.5 514.2) rotate(51.6)" x="0" y="-3.4" text-anchor="middle" font-size="6.6" font-weight="bold" fill="#ee1c25" textLength="38" lengthAdjust="spacingAndGlyphs">Elastic scattering</text>
<line x1="545.5" y1="532.2" x2="604.7" y2="518.9" stroke="#f03a40" stroke-width="0.9"/>
<path d="M608.0 518.2L603.4 521.0L602.7 517.7Z" fill="#f03a40"/>
<text transform="translate(576.8 525.2) rotate(-12.6)" x="0" y="-1.8" text-anchor="middle" font-size="6.6" font-weight="bold" fill="#ee1c25" textLength="30" lengthAdjust="spacingAndGlyphs">Absorption</text>
<path d="M692.8 456.0L691.5 456.7L692.1 457.5L693.7 458.2L694.0 459.0L692.6 459.7L691.5 460.4L692.3 461.2L693.8 461.9L693.8 462.7L692.3 463.4L691.5 464.2L692.6 464.9L694.0 465.6L693.7 466.4L692.1 467.1L691.5 467.9L692.8 468.6L694.1 469.3L693.5 470.1L691.9 470.8L691.6 471.6L693.0 472.3L694.1 473.0L693.3 473.8L691.8 474.5L691.8 475.3L693.3 476.0L694.1 476.8L693.0 477.5L691.6 478.2L691.9 479.0L693.5 479.7L694.1 480.5L692.8 481.2L691.5 481.9L692.1 482.7L693.7 483.4L694.0 484.2L692.6 484.9L691.5 485.6L692.3 486.4L693.8 487.1L693.8 487.9L692.3 488.6L691.5 489.4L692.6 490.1L694.0 490.8L693.7 491.6L692.1 492.3L691.5 493.1L692.8 493.8" stroke="#f03a40" stroke-width="0.9" fill="none"/>
<path d="M692.8 497.0L691.0 492.5L694.6 492.5Z" fill="#f03a40"/>
<path d="M651.0 480.0L650.8 481.4L651.8 481.3L653.3 480.7L653.8 481.3L653.4 482.9L653.6 483.8L655.0 483.3L656.2 483.0L656.2 484.1L655.9 485.7L656.6 485.9L658.2 485.3L658.9 485.5L658.6 487.1L658.6 488.2L659.8 487.9L661.2 487.4L661.4 488.3L661.0 489.9L661.5 490.5L663.0 489.9L664.0 489.8L663.8 491.2L663.6 492.6L664.6 492.5L666.1 491.9L666.6 492.5L666.2 494.1L666.4 495.0L667.8 494.5L669.0 494.2L669.0 495.3L668.7 496.9L669.4 497.1L671.0 496.5L671.7 496.7L671.4 498.3L671.4 499.4L672.6 499.1L674.0 498.6L674.2 499.5L673.8 501.1L674.3 501.7L675.8 501.1L676.8 501.0L676.6 502.4" stroke="#f03a40" stroke-width="0.9" fill="none"/>
<path d="M679.0 504.5L674.5 502.9L676.8 500.2Z" fill="#f03a40"/>
<path d="M648.5 483.0L648.3 484.4L649.6 484.2L651.1 483.7L651.1 484.9L650.8 486.5L651.8 486.6L653.5 486.0L653.8 486.9L653.3 488.6L654.1 489.0L655.8 488.3L656.4 488.8L655.9 490.6L656.4 491.3L658.0 490.6L658.9 490.9L658.5 492.6L658.7 493.6L660.3 493.0L661.4 492.9L661.1 494.5L661.1 495.8L662.5 495.4L663.9 495.1L663.8 496.4L663.5 497.9L664.7 497.8L666.3 497.3L666.4 498.3L666.0 500.0L667.0 500.2L668.6 499.5L669.0 500.3L668.6 502.1L669.2 502.6L670.9 501.9L671.6 502.3" stroke="#f03a40" stroke-width="0.9" fill="none"/>
<text transform="translate(666.4 490.7) rotate(41.2)" x="0" y="-3.4" text-anchor="middle" font-size="6.6" font-weight="bold" fill="#ee1c25" textLength="30" lengthAdjust="spacingAndGlyphs">Absorption</text>
<text transform="translate(665.5 489.9) rotate(41.2)" x="0" y="8.5" text-anchor="middle" font-size="6" font-weight="bold" fill="#ee1c25" textLength="30" lengthAdjust="spacingAndGlyphs">secondary γ</text>
<path d="M725.1 391.1L724.8 392.6L725.4 393.0L726.9 392.5L728.3 392.0L728.7 392.7L728.4 394.2L728.1 395.6L728.9 395.9L730.4 395.3L731.7 394.9L732.0 395.7L731.6 397.3L731.5 398.6L732.4 398.7L733.9 398.1L735.1 397.9L735.3 398.8L734.9 400.4L734.9 401.6L735.9 401.5L737.5 400.9L738.5 400.8L738.6 401.9L738.2 403.5L738.3 404.5L739.4 404.4L741.0 403.7L741.9 403.8L741.9 405.0L741.4 406.6L741.7 407.5L743.0 407.2L744.5 406.5L745.3 406.8L745.1 408.1L744.7 409.7L745.1 410.4L746.5 409.9L748.0 409.4L748.6 409.8L748.4 411.2L748.0 412.7L748.6 413.2L750.0 412.7L751.5 412.2L752.0 412.8L751.6 414.3L751.4 415.8L752.1 416.1L753.6 415.5L754.9 415.1" stroke="#2f80d8" stroke-width="1.0" fill="none"/>
<path d="M756.4 418.3L751.9 416.7L754.2 414.0Z" fill="#2f80d8"/>
<text transform="translate(740.8 404.7) rotate(41.0)" x="0" y="6.8" text-anchor="middle" font-size="6" font-weight="bold" fill="#2277d4" textLength="30" lengthAdjust="spacingAndGlyphs">secondary γ</text>
<path d="M706.3 437.1L705.8 438.8L706.0 439.7L707.2 439.5L709.0 438.7L710.5 438.1L711.1 438.6L710.8 440.1L710.1 441.9L710.0 443.2L710.9 443.4L712.5 442.7L714.2 441.9L715.2 441.9L715.2 443.1L714.6 444.9L714.2 446.5L714.7 447.1L716.1 446.7L717.9 445.8L719.2 445.5L719.5 446.2L719.1 447.9L718.5 449.7L718.6 450.7L719.7 450.6L721.5 449.8L723.0 449.1L723.7 449.5L723.5 450.9L722.9 452.8L722.7 454.2L723.4 454.4L725.0 453.8L726.7 453.0L727.8 452.9L727.9 453.9L727.3 455.8L726.9 457.4L727.3 458.1L728.6 457.8L730.4 456.9L731.8 456.5L732.2 457.1L731.8 458.7L731.2 460.6L731.2 461.7L732.3 461.7L734.0 460.9L735.6 460.2L736.4 460.4L736.2 461.7L735.6 463.6L735.4 465.1L736.0 465.5L737.5 464.9L739.3 464.0L740.4 463.9L740.6 464.8L740.1 466.6L739.6 468.3L739.9 469.1L741.1 468.9L742.9 468.0L744.3 467.5L744.9 468.0" stroke="#2f80d8" stroke-width="1.1" fill="none"/>
<path d="M746.0 471.6L741.5 470.0L743.8 467.3Z" fill="#2f80d8"/>
<text transform="translate(726.1 454.4) rotate(41.0)" x="0" y="8.2" text-anchor="middle" font-size="6" font-weight="bold" fill="#2277d4" textLength="32" lengthAdjust="spacingAndGlyphs">secondary γ</text>
<path d="M420.6 498.6L420.3 500.1L420.2 501.2L420.6 501.9L421.5 502.1L422.8 501.9L424.3 501.5L425.6 501.2L426.6 501.3L427.2 501.9L427.2 503.0L426.9 504.4L426.5 505.9L426.3 507.1L426.6 508.0L427.4 508.3L428.6 508.1L430.1 507.7L431.5 507.4L432.6 507.4L433.3 507.9L433.4 508.9L433.1 510.2L432.7 511.7L432.5 513.0L432.7 514.0L433.4 514.4L434.5 514.3L435.9 514.0L437.4 513.6L438.6 513.5L439.3 513.9L439.6 514.7L439.4 516.0L439.0 517.5L438.7 518.9L438.8 519.9L439.3 520.5L440.4 520.5L441.8 520.2L443.3 519.8L444.5 519.6L445.4 519.9L445.7 520.6L445.6 521.9L445.2 523.3L444.9 524.7L444.9 525.9L445.3 526.5L446.3 526.7L447.6 526.4L449.1 526.0L450.5 525.8L451.4 525.9L451.9 526.6L451.8 527.7L451.5 529.1L451.1 530.6L451.0 531.8L451.4 532.6L452.2 532.8L453.5 532.6L455.0 532.2L456.4 531.9L457.4 532.0L458.0 532.5L458.0 533.5L457.7 534.9L457.4 536.4L457.2 537.7L457.4 538.6L458.1 538.9L459.3 538.8L460.8 538.4L462.2 538.1L463.4 538.0L464.1 538.5L464.2 539.4L464.0 540.7L463.6 542.2L463.4 543.6L463.5 544.6L464.1 545.0L465.2 545.0L466.6 544.7L468.1 544.3L469.3 544.2L470.1 544.5L470.4 545.3L470.2 546.6L469.9 548.0L469.6 549.4L469.6 550.5L470.1 551.1L471.1 551.2L472.5 550.9L474.0 550.5L475.3 550.3L476.2 550.5L476.5 551.2L476.5 552.4L476.1 553.8L475.8 555.3L475.7 556.5L476.1 557.2L477.0 557.3L478.3 557.1L479.8 556.7L481.2 556.4L482.2 556.5L482.7 557.1L482.7 558.2L482.4 559.6L482.0 561.1L481.9 562.4L482.1 563.2L482.9 563.5L484.2 563.3L485.7 562.9L487.1 562.6L488.2 562.6L488.8 563.1L488.9 564.1L488.6 565.5L488.2 566.9L488.0 568.3" stroke="#4a8ad2" stroke-width="1.4" fill="none"/>
<path d="M491.6 569.2L487.2 567.3L489.7 564.8Z" fill="#4a8ad2"/>
<path d="M507.9 575.1L509.0 575.8L509.5 575.0L509.7 573.5L510.5 573.2L511.6 574.1L512.6 574.5L512.9 573.2L513.3 571.9L514.2 572.1L515.4 573.1L516.1 572.9L516.4 571.4L516.8 570.5L517.9 571.2L519.0 572.0L519.6 571.3L519.8 569.7L520.5 569.3L521.6 570.2L522.6 570.6L523.0 569.5L523.3 568.1L524.2 568.2L525.4 569.2L526.2 569.1L526.4 567.7L526.9 566.7L527.9 567.2L529.1 568.1L529.6 567.5L529.9 565.9L530.5 565.4L531.6 566.3L532.7 566.8L533.1 565.7L533.4 564.3L534.2 564.3L535.4 565.3L536.2 565.3L536.5 563.9L536.9 562.8L537.9 563.3L539.1 564.2L539.7 563.7L539.9 562.2L540.5 561.5L541.7 562.3L542.7 563.0L543.2 562.0L543.4 560.5L544.2 560.4L545.4 561.4L546.3 561.5L546.6 560.2L546.9 559.0L547.9 559.4L549.1 560.3L549.8 560.0L550.0 558.4L550.5 557.7L551.7 558.4L552.7 559.1L553.2 558.2L553.5 556.7L554.2 556.5L555.4 557.5L556.3 557.7L556.7 556.5L557.0 555.2L557.9 555.4L559.1 556.4L559.8 556.2L560.1 554.7L560.6 553.8L561.7 554.5L562.8 555.2L563.3 554.5L563.5 552.9L564.2 552.6L565.4 553.5L566.4 553.9L566.7 552.7L567.0 551.4L567.9 551.5L569.1 552.5L569.9 552.4L570.2 550.9L570.6 549.9L571.7 550.5L572.8 551.4L573.4 550.7L573.6 549.2L574.2 548.7L575.4 549.6L576.4 550.1" stroke="#2f80d8" stroke-width="0.9" fill="none"/>
<path d="M579.0 547.9L575.4 551.1L574.2 547.9Z" fill="#2f80d8"/>
<text transform="translate(547.0 560.1) rotate(-20.9)" x="0" y="7" text-anchor="middle" font-size="7" font-weight="bold" fill="#2277d4" textLength="58" lengthAdjust="spacingAndGlyphs">Compton scattering</text>
<path d="M600.9 551.1L601.3 552.4L602.1 552.1L603.3 551.1L604.0 551.2L604.3 552.6L604.8 553.6L605.7 553.1L606.9 552.2L607.5 552.6L607.8 554.1L608.3 554.9L609.4 554.1L610.4 553.4L611.0 554.1L611.2 555.6L611.9 556.0L613.0 555.1L614.0 554.6L614.4 555.6L614.7 557.0L615.5 557.1L616.6 556.1L617.5 555.9L617.9 557.1L618.2 558.4L619.1 558.2L620.2 557.2L621.0 557.2L621.3 558.6L621.7 559.7L622.7 559.2L623.8 558.3L624.5 558.6L624.7 560.1L625.3 560.9L626.3 560.2L627.4 559.4L627.9 560.1L628.2 561.6L628.8 562.1L629.9 561.2L630.9 560.6L631.4 561.6L631.7 563.0L632.4 563.2L633.6 562.2L634.5 561.9L634.8 563.1L635.2 564.4L636.0 564.2L637.2 563.2L638.0 563.3L638.2 564.7L638.7 565.7L639.6 565.2L640.8 564.3L641.4 564.7L641.7 566.2L642.2 566.9L643.3 566.2L644.3 565.4" stroke="#2f80d8" stroke-width="0.9" fill="none"/>
<path d="M647.0 567.5L642.2 567.7L643.4 564.3Z" fill="#2f80d8"/>
<text transform="translate(621.6 558.5) rotate(19.6)" x="0" y="7" text-anchor="middle" font-size="7" font-weight="bold" fill="#2277d4" textLength="54" lengthAdjust="spacingAndGlyphs">Compton scattering</text>
<path d="M667.0 560.5L668.3 560.6L668.4 559.7L667.8 558.2L668.1 557.6L669.6 557.7L670.7 557.6L670.5 556.5L670.0 555.2L670.6 554.7L672.2 555.0L673.0 554.6L672.5 553.4L672.2 552.1L673.2 551.9L674.7 552.2L675.2 551.6L674.6 550.2L674.6 549.2L675.8 549.2L677.2 549.3L677.3 548.5L676.8 547.1L677.0 546.3L678.4 546.4L679.6 546.4L679.5 545.4L678.9 544.0L679.5 543.4L681.0 543.7L681.9 543.4L681.6 542.2L681.2 540.9L682.0 540.6L683.5 540.9L684.1 540.4L683.6 539.1L683.5 538.0L684.6 537.9L686.0 538.0L686.3 537.3L685.8 535.9L685.8 535.0L687.2 535.1L688.4 535.2L688.5 534.2L687.9 532.8L688.3 532.2L689.7 532.4L690.8 532.2L690.6 531.1L690.1 529.7L690.8 529.3L692.3 529.6L693.1 529.2L692.7 527.9L692.4 526.7" stroke="#2f80d8" stroke-width="0.9" fill="none"/>
<path d="M695.2 524.9L693.8 529.5L691.0 527.3Z" fill="#2f80d8"/>
<text transform="translate(682.5 540.9) rotate(-51.6)" x="0" y="-2.6" text-anchor="middle" font-size="6.6" font-weight="bold" fill="#2277d4" textLength="30" lengthAdjust="spacingAndGlyphs">Absorption</text>
<path d="M516.7 481.0L517.9 481.4L518.2 480.5L518.0 479.0L518.6 478.5L519.9 479.0L521.0 479.2L521.1 478.0L521.0 476.6L521.8 476.4L523.2 477.0L524.0 476.9L523.9 475.5L524.0 474.3L525.0 474.4L526.4 475.0L526.9 474.5L526.8 473.0L527.0 472.0L528.2 472.4L529.5 472.9L529.8 472.0L529.6 470.5L530.1 469.9L531.5 470.5L532.6 470.7L532.7 469.5L532.6 468.1L533.3 467.8L534.7 468.5L535.6 468.4L535.5 467.0L535.5 465.8L536.5 465.8L537.9 466.4L538.5 466.0L538.4 464.5L538.6 463.5L539.8 463.8L541.0 464.3L541.4 463.5L541.2 462.0L541.7 461.3L543.0 461.9L544.1 462.1L544.3 461.0L544.1 459.6L544.8 459.3L546.2 459.9L547.1 459.8L547.1 458.5L547.1 457.2L548.1 457.2L549.4 457.9L550.1 457.5L549.9 456.0L550.1 455.0L551.3 455.3L552.6 455.8L553.0 455.0L552.8 453.5L553.2 452.8" stroke="#2f80d8" stroke-width="0.9" fill="none"/>
<path d="M556.4 451.7L553.8 455.8L551.8 452.9Z" fill="#2f80d8"/>
<text transform="translate(536.5 466.4) rotate(-36.4)" x="0" y="-2.4" text-anchor="middle" font-size="6.6" font-weight="bold" fill="#2277d4" textLength="30" lengthAdjust="spacingAndGlyphs">Absorption</text>
<text transform="translate(536.5 466.4) rotate(-36.4)" x="0" y="6.8" text-anchor="middle" font-size="6" font-weight="bold" fill="#2277d4" textLength="30" lengthAdjust="spacingAndGlyphs">secondary γ</text>
<line x1="732.4" y1="385.0" x2="788.6" y2="385.1" stroke="#222" stroke-width="0.8"/>
<path d="M792.0 385.1L786.9 386.8L786.9 383.4Z" fill="#222"/>
<line x1="704.2" y1="434.0" x2="782.8" y2="459.7" stroke="#222" stroke-width="0.8"/>
<path d="M786.0 460.8L780.6 460.8L781.7 457.6Z" fill="#222"/>
<line x1="667.0" y1="566.7" x2="784.9" y2="544.3" stroke="#222" stroke-width="0.8"/>
<path d="M788.2 543.7L783.5 546.3L782.9 543.0Z" fill="#222"/>
<path d="M382.1 406.1l0.8 -2.6M382.1 406.1l-1.2 -2.4M382.9 401.7l2.7 0.2M382.9 401.7l1.8 2.0M385.4 398.2l-1.9 -2.0M385.4 398.2l-2.7 -0.1M387.2 394.2l2.1 1.7M387.2 394.2l0.4 2.7M390.5 394.6l1.3 -2.4M390.5 394.6l-0.7 -2.6M394.0 395.6l1.5 2.3M394.0 395.6l-0.5 2.6M397.4 392.7l0.1 -2.7M397.4 392.7l-1.8 -2.0M400.4 393.9l-0.2 2.7M400.4 393.9l-2.0 1.8M403.3 395.1l-1.1 -2.5M403.3 395.1l-2.5 -1.1M404.1 390.8l2.5 1.0M404.1 390.8l1.2 2.4M407.1 390.3l0.8 -2.6M407.1 390.3l-1.2 -2.4M410.9 390.8l1.0 2.5M410.9 390.8l-1.0 2.5M415.2 389.8l0.7 -2.6M415.2 389.8l-1.3 -2.3M418.8 390.4l-0.7 2.6M418.8 390.4l-2.3 1.4M421.6 393.8l2.2 -1.6M421.6 393.8l0.5 -2.6M425.6 395.8l-1.0 2.5M425.6 395.8l-2.5 1.1M428.3 399.4l2.3 -1.4M428.3 399.4l0.7 -2.6M432.1 401.6l-1.1 2.5M432.1 401.6l-2.5 1.0M434.9 405.0l2.1 -1.7M434.9 405.0l0.3 -2.7M439.1 406.3l0.8 2.6M439.1 406.3l-1.2 2.4" stroke="#444" stroke-width="0.55" fill="none"/>
<path d="M382.1 406.1L382.9 401.7L385.4 398.2L387.2 394.2L390.5 394.6L394.0 395.6L397.4 392.7L400.4 393.9L403.3 395.1L404.1 390.8L407.1 390.3L410.9 390.8L415.2 389.8L418.8 390.4L421.6 393.8L425.6 395.8L428.3 399.4L432.1 401.6L434.9 405.0L439.1 406.3" stroke="#222" stroke-width="0.8" fill="none"/>
<g fill="#111"><circle cx="382.1" cy="406.1" r="1.25"/><circle cx="382.9" cy="401.7" r="1.25"/><circle cx="385.4" cy="398.2" r="1.25"/><circle cx="387.2" cy="394.2" r="1.25"/><circle cx="390.5" cy="394.6" r="1.25"/><circle cx="394.0" cy="395.6" r="1.25"/><circle cx="397.4" cy="392.7" r="1.25"/><circle cx="400.4" cy="393.9" r="1.25"/><circle cx="403.3" cy="395.1" r="1.25"/><circle cx="404.1" cy="390.8" r="1.25"/><circle cx="407.1" cy="390.3" r="1.25"/><circle cx="410.9" cy="390.8" r="1.25"/><circle cx="415.2" cy="389.8" r="1.25"/><circle cx="418.8" cy="390.4" r="1.25"/><circle cx="421.6" cy="393.8" r="1.25"/><circle cx="425.6" cy="395.8" r="1.25"/><circle cx="428.3" cy="399.4" r="1.25"/><circle cx="432.1" cy="401.6" r="1.25"/><circle cx="434.9" cy="405.0" r="1.25"/><circle cx="439.1" cy="406.3" r="1.25"/></g>
<path d="M371.5 403.0l5.0 0.0M371.5 403.0l4.5 2.2M371.5 403.0l3.1 3.9M371.5 403.0l1.1 4.9M371.5 403.0l-1.1 4.9M371.5 403.0l-3.1 3.9M371.5 403.0l-4.5 2.1M371.5 403.0l-5.0 -0.0M371.5 403.0l-4.5 -2.2M371.5 403.0l-3.1 -3.9M371.5 403.0l-1.1 -4.9M371.5 403.0l1.2 -4.9M371.5 403.0l3.2 -3.9M371.5 403.0l4.5 -2.1" stroke="#444" stroke-width="0.5"/>
<circle cx="373.7" cy="403.0" r="1.1" fill="#111"/>
<circle cx="372.6" cy="404.9" r="1.1" fill="#111"/>
<circle cx="370.4" cy="404.9" r="1.1" fill="#111"/>
<circle cx="369.3" cy="403.0" r="1.1" fill="#111"/>
<circle cx="370.4" cy="401.1" r="1.1" fill="#111"/>
<circle cx="372.6" cy="401.1" r="1.1" fill="#111"/>
<path d="M402.8 403.7V414.1" stroke="#888" stroke-width="0.7" stroke-dasharray="2 1.2"/>
<path d="M402.8 421.8V430.8M402.8 437.1V442.7M402.8 449.0V458.0M399.8 435.6L393.3 438.6M405.8 435.6L412.8 438.6" stroke="#777" stroke-width="0.7" fill="none"/>
<text x="402.8" y="420.4" font-family="Liberation Sans,sans-serif" font-size="5.6" fill="#555" text-anchor="middle">R</text>
<text x="402.8" y="436.1" font-family="Liberation Sans,sans-serif" font-size="5.6" fill="#555" text-anchor="middle">Si</text>
<text x="402.8" y="448.2" font-family="Liberation Sans,sans-serif" font-size="5.6" fill="#555" text-anchor="middle">O</text>
<text x="388.2" y="441.5" font-family="Liberation Sans,sans-serif" font-size="5.6" fill="#555" text-anchor="middle">HO</text>
<text x="418.5" y="441.5" font-family="Liberation Sans,sans-serif" font-size="5.6" fill="#555" text-anchor="middle">OH</text>
<path d="M402.8 461.1L398.2 465.9L393.0 464.9M402.8 461.1L407.0 467.8M393.0 464.9L395.1 474.1" stroke="#e8202a" stroke-width="1.1" fill="none"/>
<circle cx="398.2" cy="465.9" r="1.1" fill="#e60f19"/>
<circle cx="407.0" cy="467.8" r="1.1" fill="#e60f19"/>
<circle cx="395.1" cy="474.1" r="1.1" fill="#e60f19"/>
<circle cx="402.8" cy="461.1" r="3.7" fill="url(#gdg)"/>
<circle cx="393.0" cy="464.9" r="3.7" fill="url(#gdg)"/>
<path d="M369.2 483.8H418V477.4L431.2 489.6L418 501.6V495.8H369.2Z" fill="#cdcdcd" stroke="#8c8c8c" stroke-width="0.8"/>
<text x="367.4" y="519.3" font-size="9.4" font-weight="bold" fill="#222" textLength="62" lengthAdjust="spacingAndGlyphs">Gd<tspan font-size="6.5" dy="1.5">2</tspan><tspan dy="-1.5">O</tspan><tspan font-size="6.5" dy="1.5">3 </tspan><tspan dy="-1.5">modified</tspan></text>
<text x="379.7" y="530.4" font-size="9.4" font-weight="bold" fill="#222" textLength="41" lengthAdjust="spacingAndGlyphs">by KH570</text>
<text x="416.8" y="536" font-size="6" font-weight="bold" fill="#333" textLength="26" lengthAdjust="spacingAndGlyphs">γ photon</text>
<circle cx="824.4" cy="389" r="30.8" fill="none" stroke="#222" stroke-width="0.8"/><circle cx="824.4" cy="389" r="17.8" fill="none" stroke="#222" stroke-width="0.8"/>
<circle cx="839.2" cy="363.7" r="1.35" fill="#111"/>
<circle cx="820.5" cy="373.2" r="1.35" fill="#111"/>
<circle cx="830.4" cy="404.5" r="1.35" fill="#111"/>
<circle cx="796.3" cy="398.3" r="1.35" fill="#111"/>
<circle cx="834.4" cy="416.6" r="1.35" fill="#111"/>
<circle cx="824.4" cy="389" r="3.4" fill="#4e0a0e"/>
<circle cx="824.5" cy="389.8" r="0.9" fill="#b01018"/>
<circle cx="825.1" cy="389.2" r="0.9" fill="#a01016"/>
<circle cx="822.3" cy="389.8" r="0.9" fill="#2a3f7a"/>
<circle cx="823.6" cy="387.6" r="0.9" fill="#d01820"/>
<circle cx="824.9" cy="389.3" r="0.9" fill="#c8141c"/>
<circle cx="826.7" cy="391.0" r="0.9" fill="#a01016"/>
<circle cx="824.3" cy="390.5" r="0.9" fill="#b01018"/>
<circle cx="823.7" cy="387.6" r="0.9" fill="#5a0a10"/>
<circle cx="825.0" cy="389.0" r="0.9" fill="#2a3f7a"/>
<circle cx="780.4" cy="389.7" r="1.6" fill="#1f3f7f"/>
<line x1="782.0" y1="389.7" x2="816.9" y2="389.7" stroke="#222" stroke-width="0.7"/>
<path d="M819.5 389.7L815.6 391.0L815.6 388.4Z" fill="#222"/>
<path d="M832.6 389.0L833.4 390.3L834.1 390.3L834.8 388.9L835.6 387.6L836.3 387.7L837.1 389.1L837.8 390.3L838.6 390.1L839.3 388.7L840.0 387.5L840.8 387.8L841.6 389.2L842.3 390.3L843.1 389.9L843.8 388.5L844.5 387.4L845.3 387.8L846.0 389.3L846.8 390.3L847.5 389.8L848.3 388.2L849.0 387.3L849.8 387.9L850.5 389.4L851.3 390.3L852.0 389.6L852.7 388.0L853.5 387.2L854.2 388.0L855.0 389.5L855.7 390.2L856.5 389.4L857.2 387.8L858.0 387.2L858.7 388.1L859.5 389.6L860.2 390.1L861.0 389.2L861.7 387.6" stroke="#222" stroke-width="0.8" fill="none"/>
<path d="M864.5 388.6L860.6 390.2L860.6 387.1Z" fill="#222"/>
<line x1="827" y1="392.3" x2="850" y2="412" stroke="#333" stroke-width="0.6"/>
<circle cx="851.6" cy="413.6" r="2.3" fill="#4e0a0e"/>
<circle cx="850.2" cy="413.4" r="0.9" fill="#2a3f7a"/>
<circle cx="851.2" cy="411.9" r="0.9" fill="#d01820"/>
<circle cx="853.2" cy="413.7" r="0.9" fill="#d01820"/>
<circle cx="851.3" cy="415.4" r="0.9" fill="#8c0e14"/>
<circle cx="850.6" cy="415.1" r="0.9" fill="#c8141c"/>
<line x1="853.0" y1="415.0" x2="855.7" y2="417.0" stroke="#111" stroke-width="0.8"/>
<path d="M857.5 418.3L854.2 417.2L855.5 415.5Z" fill="#111"/>
<text x="774.2" y="398.6" font-size="6" font-weight="bold" fill="#111" stroke="#111" stroke-width="0.2" lengthAdjust="spacingAndGlyphs" textLength="42">Thermal neutron</text>
<text x="856.2" y="401.8" font-size="6" font-weight="bold" fill="#111" stroke="#111" stroke-width="0.2" lengthAdjust="spacingAndGlyphs" textLength="21.5">γ Photon</text>
<text x="841.2" y="425.4" font-size="6" font-weight="bold" fill="#111" stroke="#111" stroke-width="0.2" lengthAdjust="spacingAndGlyphs" textLength="35.5">Alpha particle</text>
<text x="801.8" y="432.6" font-size="8.6" font-weight="bold" fill="#f0141e" stroke="#f0141e" stroke-width="0.25" textLength="44.5" lengthAdjust="spacingAndGlyphs">(n,α) reaction</text>
<circle cx="827.1" cy="474.2" r="15.4" fill="none" stroke="#222" stroke-width="0.8"/>
<circle cx="827.1" cy="474.2" r="19.8" fill="none" stroke="#222" stroke-width="0.8"/>
<circle cx="827.1" cy="474.2" r="22.8" fill="none" stroke="#222" stroke-width="0.8"/>
<circle cx="827.1" cy="474.2" r="25.7" fill="none" stroke="#222" stroke-width="0.8"/>
<circle cx="827.1" cy="474.2" r="28.6" fill="none" stroke="#222" stroke-width="0.8"/>
<circle cx="827.1" cy="474.2" r="33" fill="none" stroke="#222" stroke-width="0.8"/>
<circle cx="842.5" cy="474.2" r="1.15" fill="#111"/>
<circle cx="827.1" cy="489.6" r="1.15" fill="#111"/>
<circle cx="811.7" cy="474.2" r="1.15" fill="#111"/>
<circle cx="827.1" cy="458.8" r="1.15" fill="#111"/>
<circle cx="842.2" cy="487.0" r="1.15" fill="#111"/>
<circle cx="832.9" cy="493.1" r="1.15" fill="#111"/>
<circle cx="821.8" cy="493.3" r="1.15" fill="#111"/>
<circle cx="812.3" cy="487.4" r="1.15" fill="#111"/>
<circle cx="807.5" cy="477.3" r="1.15" fill="#111"/>
<circle cx="809.0" cy="466.2" r="1.15" fill="#111"/>
<circle cx="816.2" cy="457.7" r="1.15" fill="#111"/>
<circle cx="826.8" cy="454.4" r="1.15" fill="#111"/>
<circle cx="837.6" cy="457.4" r="1.15" fill="#111"/>
<circle cx="845.0" cy="465.7" r="1.15" fill="#111"/>
<circle cx="846.7" cy="476.7" r="1.15" fill="#111"/>
<circle cx="831.0" cy="496.7" r="1.15" fill="#111"/>
<circle cx="821.5" cy="496.3" r="1.15" fill="#111"/>
<circle cx="813.0" cy="492.1" r="1.15" fill="#111"/>
<circle cx="806.9" cy="484.8" r="1.15" fill="#111"/>
<circle cx="804.3" cy="475.7" r="1.15" fill="#111"/>
<circle cx="805.7" cy="466.3" r="1.15" fill="#111"/>
<circle cx="810.8" cy="458.3" r="1.15" fill="#111"/>
<circle cx="818.6" cy="453.0" r="1.15" fill="#111"/>
<circle cx="828.0" cy="451.4" r="1.15" fill="#111"/>
<circle cx="837.2" cy="453.7" r="1.15" fill="#111"/>
<circle cx="844.6" cy="459.6" r="1.15" fill="#111"/>
<circle cx="849.0" cy="468.0" r="1.15" fill="#111"/>
<circle cx="849.7" cy="477.5" r="1.15" fill="#111"/>
<circle cx="846.4" cy="486.4" r="1.15" fill="#111"/>
<circle cx="839.8" cy="493.1" r="1.15" fill="#111"/>
<circle cx="814.1" cy="496.4" r="1.15" fill="#111"/>
<circle cx="807.0" cy="490.2" r="1.15" fill="#111"/>
<circle cx="802.6" cy="481.9" r="1.15" fill="#111"/>
<circle cx="801.5" cy="472.5" r="1.15" fill="#111"/>
<circle cx="803.8" cy="463.3" r="1.15" fill="#111"/>
<circle cx="809.3" cy="455.6" r="1.15" fill="#111"/>
<circle cx="817.2" cy="450.5" r="1.15" fill="#111"/>
<circle cx="826.5" cy="448.5" r="1.15" fill="#111"/>
<circle cx="835.8" cy="450.0" r="1.15" fill="#111"/>
<circle cx="843.9" cy="454.8" r="1.15" fill="#111"/>
<circle cx="849.8" cy="462.2" r="1.15" fill="#111"/>
<circle cx="852.6" cy="471.2" r="1.15" fill="#111"/>
<circle cx="852.0" cy="480.6" r="1.15" fill="#111"/>
<circle cx="848.0" cy="489.2" r="1.15" fill="#111"/>
<circle cx="841.2" cy="495.7" r="1.15" fill="#111"/>
<circle cx="832.5" cy="499.3" r="1.15" fill="#111"/>
<circle cx="823.0" cy="499.6" r="1.15" fill="#111"/>
<circle cx="800.2" cy="483.8" r="1.15" fill="#111"/>
<circle cx="799.0" cy="469.0" r="1.15" fill="#111"/>
<circle cx="805.3" cy="455.7" r="1.15" fill="#111"/>
<circle cx="817.5" cy="447.3" r="1.15" fill="#111"/>
<circle cx="832.3" cy="446.1" r="1.15" fill="#111"/>
<circle cx="845.6" cy="452.4" r="1.15" fill="#111"/>
<circle cx="854.0" cy="464.6" r="1.15" fill="#111"/>
<circle cx="855.2" cy="479.4" r="1.15" fill="#111"/>
<circle cx="848.9" cy="492.7" r="1.15" fill="#111"/>
<circle cx="836.7" cy="501.1" r="1.15" fill="#111"/>
<circle cx="821.9" cy="502.3" r="1.15" fill="#111"/>
<circle cx="808.6" cy="496.0" r="1.15" fill="#111"/>
<circle cx="796.2" cy="462.6" r="1.15" fill="#111"/>
<circle cx="852.6" cy="453.2" r="1.15" fill="#111"/>
<circle cx="832.5" cy="506.8" r="1.15" fill="#111"/>
<circle cx="827.1" cy="474.2" r="8.2" fill="#4e0a0e"/>
<circle cx="823.5" cy="479.7" r="1.6" fill="#b01018"/>
<circle cx="827.1" cy="470.5" r="1.6" fill="#3c080c"/>
<circle cx="827.4" cy="476.5" r="1.6" fill="#3c080c"/>
<circle cx="821.1" cy="469.7" r="1.6" fill="#5a0a10"/>
<circle cx="828.0" cy="469.6" r="1.6" fill="#c8141c"/>
<circle cx="823.8" cy="475.5" r="1.6" fill="#c8141c"/>
<circle cx="831.6" cy="469.3" r="1.6" fill="#c8141c"/>
<circle cx="829.5" cy="479.7" r="1.6" fill="#c8141c"/>
<circle cx="826.1" cy="473.9" r="1.6" fill="#c8141c"/>
<circle cx="832.2" cy="479.3" r="1.6" fill="#d01820"/>
<circle cx="833.0" cy="468.4" r="1.6" fill="#c8141c"/>
<circle cx="823.3" cy="472.2" r="1.6" fill="#5a0a10"/>
<circle cx="824.6" cy="479.8" r="1.6" fill="#c8141c"/>
<circle cx="830.6" cy="472.2" r="1.6" fill="#c8141c"/>
<circle cx="834.5" cy="477.5" r="1.6" fill="#c8141c"/>
<circle cx="825.7" cy="465.7" r="1.6" fill="#c8141c"/>
<circle cx="830.1" cy="476.7" r="1.6" fill="#5a0a10"/>
<circle cx="826.9" cy="470.2" r="1.6" fill="#3c080c"/>
<circle cx="832.4" cy="469.3" r="1.6" fill="#5a0a10"/>
<circle cx="834.5" cy="470.5" r="1.6" fill="#2a3f7a"/>
<circle cx="819.5" cy="474.3" r="1.6" fill="#d01820"/>
<circle cx="830.6" cy="467.4" r="1.6" fill="#d01820"/>
<circle cx="820.4" cy="471.3" r="1.6" fill="#d01820"/>
<circle cx="823.8" cy="469.4" r="1.6" fill="#d01820"/>
<circle cx="832.2" cy="479.7" r="1.6" fill="#c8141c"/>
<circle cx="832.3" cy="471.6" r="1.6" fill="#c8141c"/>
<circle cx="818.6" cy="475.2" r="1.6" fill="#8c0e14"/>
<circle cx="829.4" cy="479.7" r="1.6" fill="#c8141c"/>
<circle cx="833.5" cy="474.1" r="1.6" fill="#8c0e14"/>
<circle cx="830.1" cy="467.0" r="1.6" fill="#b01018"/>
<circle cx="826.9" cy="478.0" r="1.6" fill="#c8141c"/>
<circle cx="831.1" cy="475.5" r="1.6" fill="#c8141c"/>
<circle cx="825.0" cy="475.3" r="1.6" fill="#a01016"/>
<circle cx="829.1" cy="470.3" r="1.6" fill="#c8141c"/>
<circle cx="829.3" cy="476.2" r="1.6" fill="#5a0a10"/>
<circle cx="820.0" cy="470.4" r="1.6" fill="#b01018"/>
<circle cx="832.6" cy="469.0" r="1.6" fill="#2a3f7a"/>
<circle cx="821.8" cy="474.6" r="1.6" fill="#2a3f7a"/>
<circle cx="826.3" cy="467.4" r="1.6" fill="#c8141c"/>
<circle cx="819.9" cy="475.7" r="1.6" fill="#c8141c"/>
<circle cx="822.4" cy="480.1" r="1.6" fill="#5a0a10"/>
<circle cx="832.1" cy="468.8" r="1.6" fill="#3c080c"/>
<circle cx="829.6" cy="468.7" r="1.6" fill="#8c0e14"/>
<circle cx="833.6" cy="475.8" r="1.6" fill="#b01018"/>
<circle cx="833.3" cy="472.2" r="1.6" fill="#a01016"/>
<circle cx="821.9" cy="478.1" r="1.6" fill="#c8141c"/>
<circle cx="832.3" cy="473.0" r="1.6" fill="#3c080c"/>
<circle cx="829.9" cy="478.1" r="1.6" fill="#b01018"/>
<circle cx="830.9" cy="475.2" r="1.6" fill="#c8141c"/>
<circle cx="825.5" cy="480.5" r="1.6" fill="#c8141c"/>
<circle cx="827.4" cy="468.5" r="1.6" fill="#5a0a10"/>
<circle cx="834.1" cy="479.1" r="1.6" fill="#5a0a10"/>
<circle cx="823.1" cy="472.8" r="1.6" fill="#8c0e14"/>
<circle cx="831.7" cy="470.9" r="1.6" fill="#b01018"/>
<circle cx="822.5" cy="475.6" r="1.6" fill="#c8141c"/>
<circle cx="830.7" cy="473.7" r="1.6" fill="#a01016"/>
<circle cx="828.1" cy="475.9" r="1.6" fill="#c8141c"/>
<circle cx="831.0" cy="481.5" r="1.6" fill="#c8141c"/>
<circle cx="833.5" cy="479.5" r="1.6" fill="#a01016"/>
<circle cx="826.2" cy="482.4" r="1.6" fill="#a01016"/>
<circle cx="824.8" cy="479.2" r="1.6" fill="#2a3f7a"/>
<circle cx="826.5" cy="465.6" r="1.6" fill="#3c080c"/>
<circle cx="832.9" cy="468.9" r="1.6" fill="#5a0a10"/>
<circle cx="824.8" cy="478.8" r="1.6" fill="#2a3f7a"/>
<circle cx="828.4" cy="467.8" r="1.6" fill="#5a0a10"/>
<circle cx="824.9" cy="473.4" r="1.6" fill="#8c0e14"/>
<circle cx="834.9" cy="473.7" r="1.6" fill="#3c080c"/>
<circle cx="831.6" cy="478.7" r="1.6" fill="#5a0a10"/>
<circle cx="822.4" cy="470.4" r="1.6" fill="#d01820"/>
<circle cx="827.6" cy="466.8" r="1.6" fill="#8c0e14"/>
<path d="M814.1 443.2l-3 -2.4l3.4 -0.6" stroke="#222" stroke-width="0.7" fill="none"/>
<circle cx="827.1" cy="547.1" r="15.4" fill="none" stroke="#222" stroke-width="0.8"/>
<circle cx="827.1" cy="547.1" r="19.8" fill="none" stroke="#222" stroke-width="0.8"/>
<circle cx="827.1" cy="547.1" r="22.8" fill="none" stroke="#222" stroke-width="0.8"/>
<circle cx="827.1" cy="547.1" r="25.7" fill="none" stroke="#222" stroke-width="0.8"/>
<circle cx="827.1" cy="547.1" r="28.6" fill="none" stroke="#222" stroke-width="0.8"/>
<circle cx="827.1" cy="547.1" r="33" fill="none" stroke="#222" stroke-width="0.8"/>
<circle cx="842.5" cy="547.1" r="1.15" fill="#111"/>
<circle cx="827.1" cy="562.5" r="1.15" fill="#111"/>
<circle cx="811.7" cy="547.1" r="1.15" fill="#111"/>
<circle cx="827.1" cy="531.7" r="1.15" fill="#111"/>
<circle cx="842.2" cy="559.9" r="1.15" fill="#111"/>
<circle cx="832.9" cy="566.0" r="1.15" fill="#111"/>
<circle cx="821.8" cy="566.2" r="1.15" fill="#111"/>
<circle cx="812.3" cy="560.3" r="1.15" fill="#111"/>
<circle cx="807.5" cy="550.2" r="1.15" fill="#111"/>
<circle cx="809.0" cy="539.1" r="1.15" fill="#111"/>
<circle cx="816.2" cy="530.6" r="1.15" fill="#111"/>
<circle cx="826.8" cy="527.3" r="1.15" fill="#111"/>
<circle cx="837.6" cy="530.3" r="1.15" fill="#111"/>
<circle cx="845.0" cy="538.6" r="1.15" fill="#111"/>
<circle cx="846.7" cy="549.6" r="1.15" fill="#111"/>
<circle cx="831.0" cy="569.6" r="1.15" fill="#111"/>
<circle cx="821.5" cy="569.2" r="1.15" fill="#111"/>
<circle cx="813.0" cy="565.0" r="1.15" fill="#111"/>
<circle cx="806.9" cy="557.7" r="1.15" fill="#111"/>
<circle cx="804.3" cy="548.6" r="1.15" fill="#111"/>
<circle cx="805.7" cy="539.2" r="1.15" fill="#111"/>
<circle cx="810.8" cy="531.2" r="1.15" fill="#111"/>
<circle cx="818.6" cy="525.9" r="1.15" fill="#111"/>
<circle cx="828.0" cy="524.3" r="1.15" fill="#111"/>
<circle cx="837.2" cy="526.6" r="1.15" fill="#111"/>
<circle cx="844.6" cy="532.5" r="1.15" fill="#111"/>
<circle cx="849.0" cy="540.9" r="1.15" fill="#111"/>
<circle cx="849.7" cy="550.4" r="1.15" fill="#111"/>
<circle cx="846.4" cy="559.3" r="1.15" fill="#111"/>
<circle cx="839.8" cy="566.0" r="1.15" fill="#111"/>
<circle cx="814.1" cy="569.3" r="1.15" fill="#111"/>
<circle cx="807.0" cy="563.1" r="1.15" fill="#111"/>
<circle cx="802.6" cy="554.8" r="1.15" fill="#111"/>
<circle cx="801.5" cy="545.4" r="1.15" fill="#111"/>
<circle cx="803.8" cy="536.2" r="1.15" fill="#111"/>
<circle cx="809.3" cy="528.5" r="1.15" fill="#111"/>
<circle cx="817.2" cy="523.4" r="1.15" fill="#111"/>
<circle cx="826.5" cy="521.4" r="1.15" fill="#111"/>
<circle cx="835.8" cy="522.9" r="1.15" fill="#111"/>
<circle cx="843.9" cy="527.7" r="1.15" fill="#111"/>
<circle cx="849.8" cy="535.1" r="1.15" fill="#111"/>
<circle cx="852.6" cy="544.1" r="1.15" fill="#111"/>
<circle cx="852.0" cy="553.5" r="1.15" fill="#111"/>
<circle cx="848.0" cy="562.1" r="1.15" fill="#111"/>
<circle cx="841.2" cy="568.6" r="1.15" fill="#111"/>
<circle cx="832.5" cy="572.2" r="1.15" fill="#111"/>
<circle cx="823.0" cy="572.5" r="1.15" fill="#111"/>
<circle cx="800.2" cy="556.7" r="1.15" fill="#111"/>
<circle cx="799.0" cy="541.9" r="1.15" fill="#111"/>
<circle cx="805.3" cy="528.6" r="1.15" fill="#111"/>
<circle cx="817.5" cy="520.2" r="1.15" fill="#111"/>
<circle cx="832.3" cy="519.0" r="1.15" fill="#111"/>
<circle cx="845.6" cy="525.3" r="1.15" fill="#111"/>
<circle cx="854.0" cy="537.5" r="1.15" fill="#111"/>
<circle cx="855.2" cy="552.3" r="1.15" fill="#111"/>
<circle cx="848.9" cy="565.6" r="1.15" fill="#111"/>
<circle cx="836.7" cy="574.0" r="1.15" fill="#111"/>
<circle cx="821.9" cy="575.2" r="1.15" fill="#111"/>
<circle cx="808.6" cy="568.9" r="1.15" fill="#111"/>
<circle cx="796.2" cy="535.5" r="1.15" fill="#111"/>
<circle cx="852.6" cy="526.1" r="1.15" fill="#111"/>
<circle cx="832.5" cy="579.7" r="1.15" fill="#111"/>
<circle cx="827.1" cy="547.1" r="8.2" fill="#4e0a0e"/>
<circle cx="825.6" cy="545.9" r="1.6" fill="#d01820"/>
<circle cx="825.2" cy="541.4" r="1.6" fill="#3c080c"/>
<circle cx="830.5" cy="546.4" r="1.6" fill="#c8141c"/>
<circle cx="826.7" cy="543.0" r="1.6" fill="#c8141c"/>
<circle cx="832.0" cy="542.4" r="1.6" fill="#5a0a10"/>
<circle cx="834.1" cy="549.6" r="1.6" fill="#2a3f7a"/>
<circle cx="827.0" cy="555.6" r="1.6" fill="#d01820"/>
<circle cx="827.9" cy="550.7" r="1.6" fill="#8c0e14"/>
<circle cx="828.0" cy="544.8" r="1.6" fill="#a01016"/>
<circle cx="830.9" cy="551.9" r="1.6" fill="#5a0a10"/>
<circle cx="831.8" cy="549.6" r="1.6" fill="#c8141c"/>
<circle cx="819.5" cy="548.3" r="1.6" fill="#2a3f7a"/>
<circle cx="823.3" cy="540.6" r="1.6" fill="#c8141c"/>
<circle cx="826.9" cy="539.1" r="1.6" fill="#d01820"/>
<circle cx="828.0" cy="553.6" r="1.6" fill="#5a0a10"/>
<circle cx="825.2" cy="549.9" r="1.6" fill="#3c080c"/>
<circle cx="819.8" cy="550.3" r="1.6" fill="#d01820"/>
<circle cx="827.5" cy="545.7" r="1.6" fill="#2a3f7a"/>
<circle cx="831.2" cy="548.0" r="1.6" fill="#c8141c"/>
<circle cx="827.8" cy="539.4" r="1.6" fill="#3c080c"/>
<circle cx="825.7" cy="543.4" r="1.6" fill="#c8141c"/>
<circle cx="830.3" cy="544.3" r="1.6" fill="#c8141c"/>
<circle cx="831.2" cy="554.7" r="1.6" fill="#5a0a10"/>
<circle cx="823.1" cy="543.9" r="1.6" fill="#2a3f7a"/>
<circle cx="826.7" cy="544.2" r="1.6" fill="#c8141c"/>
<circle cx="824.5" cy="544.4" r="1.6" fill="#5a0a10"/>
<circle cx="824.9" cy="541.8" r="1.6" fill="#a01016"/>
<circle cx="827.0" cy="546.3" r="1.6" fill="#b01018"/>
<circle cx="826.0" cy="541.1" r="1.6" fill="#3c080c"/>
<circle cx="826.1" cy="544.3" r="1.6" fill="#3c080c"/>
<circle cx="822.7" cy="543.9" r="1.6" fill="#2a3f7a"/>
<circle cx="832.2" cy="544.8" r="1.6" fill="#c8141c"/>
<circle cx="829.5" cy="550.8" r="1.6" fill="#a01016"/>
<circle cx="830.2" cy="553.0" r="1.6" fill="#d01820"/>
<circle cx="825.2" cy="545.9" r="1.6" fill="#d01820"/>
<circle cx="825.6" cy="539.0" r="1.6" fill="#c8141c"/>
<circle cx="823.5" cy="541.0" r="1.6" fill="#c8141c"/>
<circle cx="819.0" cy="549.4" r="1.6" fill="#5a0a10"/>
<circle cx="829.4" cy="552.2" r="1.6" fill="#d01820"/>
<circle cx="834.9" cy="545.2" r="1.6" fill="#8c0e14"/>
<circle cx="823.7" cy="546.8" r="1.6" fill="#c8141c"/>
<circle cx="829.3" cy="553.4" r="1.6" fill="#a01016"/>
<circle cx="826.7" cy="543.7" r="1.6" fill="#c8141c"/>
<circle cx="827.6" cy="551.3" r="1.6" fill="#d01820"/>
<circle cx="834.0" cy="543.6" r="1.6" fill="#c8141c"/>
<circle cx="825.4" cy="547.9" r="1.6" fill="#b01018"/>
<circle cx="821.1" cy="550.0" r="1.6" fill="#c8141c"/>
<circle cx="833.8" cy="548.2" r="1.6" fill="#c8141c"/>
<circle cx="824.6" cy="544.5" r="1.6" fill="#2a3f7a"/>
<circle cx="834.6" cy="546.0" r="1.6" fill="#c8141c"/>
<circle cx="818.7" cy="545.2" r="1.6" fill="#3c080c"/>
<circle cx="831.9" cy="548.2" r="1.6" fill="#c8141c"/>
<circle cx="824.2" cy="554.3" r="1.6" fill="#b01018"/>
<circle cx="831.9" cy="547.7" r="1.6" fill="#c8141c"/>
<circle cx="826.8" cy="553.6" r="1.6" fill="#3c080c"/>
<circle cx="821.8" cy="549.0" r="1.6" fill="#c8141c"/>
<circle cx="834.9" cy="549.9" r="1.6" fill="#c8141c"/>
<circle cx="831.2" cy="554.3" r="1.6" fill="#c8141c"/>
<circle cx="824.1" cy="554.5" r="1.6" fill="#c8141c"/>
<circle cx="828.1" cy="539.8" r="1.6" fill="#c8141c"/>
<circle cx="822.4" cy="546.3" r="1.6" fill="#2a3f7a"/>
<circle cx="829.3" cy="553.2" r="1.6" fill="#c8141c"/>
<circle cx="833.3" cy="549.5" r="1.6" fill="#b01018"/>
<circle cx="826.7" cy="542.3" r="1.6" fill="#c8141c"/>
<circle cx="830.7" cy="550.5" r="1.6" fill="#d01820"/>
<circle cx="823.6" cy="540.7" r="1.6" fill="#3c080c"/>
<circle cx="824.1" cy="543.6" r="1.6" fill="#3c080c"/>
<circle cx="833.2" cy="541.8" r="1.6" fill="#2a3f7a"/>
<circle cx="834.3" cy="546.5" r="1.6" fill="#2a3f7a"/>
<circle cx="821.8" cy="542.0" r="1.6" fill="#5a0a10"/>
<path d="M814.1 516.1l-3 -2.4l3.4 -0.6" stroke="#222" stroke-width="0.7" fill="none"/>
<circle cx="777.8" cy="475.7" r="1.1" fill="#2b4f8f"/>
<line x1="779.5" y1="475.7" x2="815.9" y2="475.7" stroke="#222" stroke-width="0.7"/>
<path d="M818.5 475.7L814.6 477.0L814.6 474.4Z" fill="#222"/>
<text x="756.6" y="483.4" font-size="6" font-weight="bold" fill="#111" stroke="#111" stroke-width="0.2" lengthAdjust="spacingAndGlyphs" textLength="38">Thermal neutron</text>
<path d="M837.0 466.0L838.2 466.6L838.8 466.2L838.9 464.7L839.1 463.6L840.0 463.6L841.3 464.4L842.2 464.7L842.6 463.7L842.7 462.2L843.2 461.6L844.3 462.0L845.5 462.8L846.2 462.5L846.4 461.2L846.6 459.9L847.3 459.7L848.5 460.5L849.6 460.9L850.0 460.1L850.1 458.7L850.5 457.8L851.5 458.1L852.8 458.9L853.6 458.8L853.8 457.6L854.0 456.2L854.6 455.9L855.8 456.5L856.9 457.1L857.5 456.5L857.6 455.1L857.9 454.0L858.8 454.2L860.1 455.0L861.0 455.1L861.3 454.1L861.4 452.6L861.9 452.0L863.1 452.6L864.3 453.3L864.9 452.9L865.1 451.5L865.3 450.3L866.1 450.2L867.3 451.0L868.4 451.4L868.8 450.5L868.9 449.0L869.3 448.2L870.3 448.6L871.6 449.4L872.4 449.3L872.6 448.0L872.7 446.7" stroke="#222" stroke-width="0.7" fill="none"/>
<path d="M875.5 446.4L872.9 449.3L871.6 446.8Z" fill="#222"/>
<text x="856" y="444.4" font-size="6" font-weight="bold" fill="#111" stroke="#111" stroke-width="0.2" lengthAdjust="spacingAndGlyphs" textLength="21.5">γ Photon</text>
<text x="788.8" y="514" font-size="8.6" font-weight="bold" fill="#f0141e" stroke="#f0141e" stroke-width="0.25" textLength="83" lengthAdjust="spacingAndGlyphs">Radiation capture reaction</text>
<path d="M766.5 557.0L767.0 558.2L767.8 558.4L768.9 557.6L770.0 556.8L770.7 557.2L771.2 558.5L771.7 559.7L772.6 559.7L773.7 558.8L774.7 558.1L775.4 558.7L775.9 560.0L776.4 561.1L777.3 560.9L778.4 560.0L779.4 559.5L780.1 560.2L780.5 561.5L781.1 562.4L782.1 562.1L783.2 561.1L784.2 560.8L784.8 561.6L785.2 563.0L785.9 563.8L786.8 563.3L788.0 562.4L788.9 562.2L789.4 563.2L789.9 564.5L790.6 565.1L791.6 564.5L792.7 563.6L793.6 563.6L794.1 564.7L794.6 566.0L795.3 566.4L796.4 565.7L797.5 564.8L798.3 565.0" stroke="#9a9a9a" stroke-width="0.7" fill="none"/>
<line x1="798" y1="566" x2="806" y2="563" stroke="#9a9a9a" stroke-width="0.7"/>
<text x="752.4" y="571.6" font-size="6" font-weight="bold" fill="#111" stroke="#111" stroke-width="0.2" lengthAdjust="spacingAndGlyphs" textLength="44">Incident γ photon</text>
<text x="857" y="562" font-size="6" font-weight="bold" fill="#111" stroke="#111" stroke-width="0.2" lengthAdjust="spacingAndGlyphs" textLength="16">Recoil</text>
<text x="857" y="568.6" font-size="6" font-weight="bold" fill="#111" stroke="#111" stroke-width="0.2" lengthAdjust="spacingAndGlyphs" textLength="20">electron</text>
<circle cx="863.6" cy="570.8" r="1.3" fill="#111"/>
<line x1="836" y1="574" x2="861" y2="571" stroke="#bbb" stroke-width="0.6"/><line x1="838" y1="574" x2="872" y2="584" stroke="#ccc" stroke-width="0.6"/>
<text x="818" y="583.4" font-size="6" font-weight="bold" fill="#111" stroke="#111" stroke-width="0.2" lengthAdjust="spacingAndGlyphs" textLength="25">Scattering</text>
<text x="819.5" y="589.6" font-size="6" font-weight="bold" fill="#111" stroke="#111" stroke-width="0.2" lengthAdjust="spacingAndGlyphs" textLength="22">γ photon</text>
<path d="M838.0 573.4L837.9 574.6L838.6 575.0L839.9 574.6L840.9 574.4L841.2 575.3L841.0 576.7L841.2 577.5L842.3 577.4L843.6 577.0L844.2 577.4L844.1 578.6L844.0 579.8L844.8 580.1L846.1 579.7L847.1 579.6L847.3 580.5L847.1 581.9L847.4 582.7L848.5 582.5L849.8 582.1L850.3 582.5L850.2 583.8L850.2 585.0L850.9 585.2L852.3 584.8L853.2 584.8L853.4 585.7L853.2 587.1L853.5 587.8L854.7 587.6L855.9 587.3L856.5 587.7L856.3 589.0L856.3 590.2L857.1 590.4L858.4 589.9L859.4 589.9L859.5 590.9L859.3 592.3L859.7 593.0" stroke="#222" stroke-width="0.8" fill="none"/>
<path d="M862.5 594.0L858.5 592.7L860.5 590.3Z" fill="#222"/>
<text x="796.3" y="596.6" font-size="8.6" font-weight="bold" fill="#2277d4" stroke="#2277d4" stroke-width="0.25" textLength="61" lengthAdjust="spacingAndGlyphs">Compton scattering</text>
</g>
</svg></body></html>
